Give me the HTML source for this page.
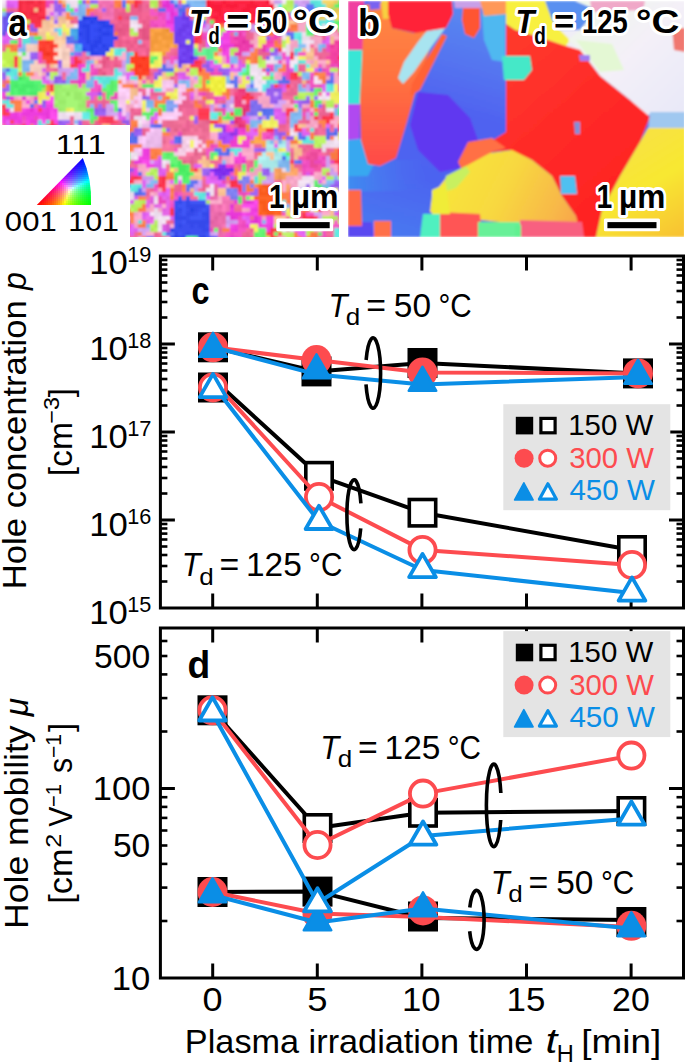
<!DOCTYPE html>
<html><head><meta charset="utf-8"><style>html,body{margin:0;padding:0;background:#fff;overflow:hidden}svg{display:block}</style></head>
<body><svg width="685" height="1063" viewBox="0 0 685 1063">
<defs><clipPath id="cpa"><rect x="2" y="0" width="337" height="237"/></clipPath><clipPath id="cpb"><rect x="348" y="1" width="336" height="236"/></clipPath><filter id="blr" x="-5%" y="-5%" width="110%" height="110%"><feGaussianBlur stdDeviation="0.8"/></filter><linearGradient id="gb1" gradientUnits="userSpaceOnUse" x1="470" y1="0" x2="400" y2="237"><stop offset="0" stop-color="#5a8cf0"/><stop offset="0.45" stop-color="#5062f0"/><stop offset="0.75" stop-color="#4c64f0"/><stop offset="1" stop-color="#4a78f0"/></linearGradient>
<linearGradient id="gsk" gradientUnits="userSpaceOnUse" x1="348" y1="0" x2="430" y2="0"><stop offset="0" stop-color="#3e8cf0"/><stop offset="0.6" stop-color="#4a74f0" stop-opacity="0.6"/><stop offset="1" stop-color="#4a68f0" stop-opacity="0"/></linearGradient>
<linearGradient id="gob" gradientUnits="userSpaceOnUse" x1="0" y1="0" x2="0" y2="166"><stop offset="0" stop-color="#ff8a44"/><stop offset="0.5" stop-color="#ff7040"/><stop offset="1" stop-color="#ff4a48"/></linearGradient>
<linearGradient id="gw" x1="0" y1="0" x2="1" y2="1"><stop offset="0" stop-color="#eef8e8"/><stop offset="0.5" stop-color="#f4f0f8"/><stop offset="1" stop-color="#e8e8f8"/></linearGradient>
<linearGradient id="gr" gradientUnits="userSpaceOnUse" x1="500" y1="40" x2="640" y2="200"><stop offset="0" stop-color="#ff3a2c"/><stop offset="0.5" stop-color="#ff2a28"/><stop offset="1" stop-color="#ff2222"/></linearGradient>
<linearGradient id="gy" gradientUnits="userSpaceOnUse" x1="620" y1="130" x2="685" y2="237"><stop offset="0" stop-color="#f8e048"/><stop offset="0.5" stop-color="#f8e830"/><stop offset="1" stop-color="#f8c030"/></linearGradient>
<linearGradient id="go" gradientUnits="userSpaceOnUse" x1="440" y1="160" x2="580" y2="230"><stop offset="0" stop-color="#f8e838"/><stop offset="0.45" stop-color="#f8d840"/><stop offset="0.8" stop-color="#f8b848"/><stop offset="1" stop-color="#f8a048"/></linearGradient></defs>
<g clip-path="url(#cpa)"><g filter="url(#blr)"><path fill="#f6e6f6" d="M2 0h4v4h-4zM282 0h4v4h-4zM74 24h4v4h-4zM130 24h8v4h-8zM322 28h4v4h-4zM282 32h4v4h-4zM306 40h4v4h-4zM282 48h4v4h-4zM290 60h8v4h-8zM290 64h4v4h-4zM250 72h8v4h-8zM262 72h4v4h-4zM258 76h4v4h-4zM314 76h4v4h-4zM254 80h4v4h-4zM262 80h4v4h-4zM314 80h4v4h-4zM226 84h4v4h-4zM254 84h8v4h-8zM258 88h4v4h-4zM322 92h4v4h-4zM318 96h4v4h-4zM326 96h4v4h-4zM330 108h4v4h-4zM66 112h8v4h-8zM142 116h4v4h-4zM138 120h4v4h-4zM290 132h4v4h-4zM102 136h4v4h-4zM334 136h4v4h-4zM334 140h4v4h-4zM42 152h4v4h-4zM134 156h4v4h-4zM162 160h4v4h-4zM90 168h4v4h-4zM54 172h4v4h-4zM50 176h4v4h-4zM310 176h4v4h-4zM298 180h12v4h-12zM26 184h4v4h-4zM210 184h4v4h-4zM310 184h4v4h-4zM22 188h4v4h-4zM34 188h4v4h-4zM126 196h4v4h-4zM126 204h4v4h-4zM150 212h4v4h-4zM158 216h4v4h-4zM166 216h4v4h-4zM162 220h4v4h-4zM158 228h4v4h-4zM282 228h4v4h-4zM6 236h8v4h-8zM26 236h8v4h-8z"/><path fill="#e060f0" d="M6 0h4v4h-4zM50 12h4v4h-4zM166 12h4v4h-4zM166 16h4v4h-4zM14 28h4v4h-4zM10 32h4v4h-4zM6 36h4v4h-4zM326 36h4v4h-4zM6 40h4v4h-4zM210 40h4v4h-4zM286 56h4v4h-4zM214 64h4v4h-4zM238 64h4v4h-4zM314 68h4v4h-4zM186 76h4v4h-4zM246 76h4v4h-4zM46 80h4v4h-4zM322 84h4v4h-4zM282 88h4v4h-4zM326 92h4v4h-4zM294 100h4v4h-4zM118 112h4v4h-4zM154 112h4v4h-4zM278 112h4v4h-4zM118 116h4v4h-4zM150 116h4v4h-4zM278 116h8v4h-8zM278 120h4v4h-4zM6 124h4v4h-4zM26 132h4v4h-4zM246 132h4v4h-4zM302 132h8v4h-8zM90 140h4v4h-4zM90 144h4v4h-4zM274 144h4v4h-4zM78 148h4v4h-4zM94 148h4v4h-4zM46 156h8v4h-8zM158 156h4v4h-4zM54 160h4v4h-4zM194 164h4v4h-4zM158 172h4v4h-4zM78 180h4v4h-4zM142 180h4v4h-4zM318 180h4v4h-4zM10 184h4v4h-4zM142 184h4v4h-4zM222 184h4v4h-4zM314 192h4v4h-4zM306 196h4v4h-4zM326 196h4v4h-4zM6 216h4v4h-4zM54 216h4v4h-4zM142 216h4v4h-4zM170 216h4v4h-4zM246 216h4v4h-4zM46 220h12v4h-12zM94 220h4v4h-4zM94 224h4v4h-4zM298 224h4v4h-4zM78 228h4v4h-4zM122 228h4v4h-4zM134 228h4v4h-4zM82 232h4v4h-4zM130 232h4v4h-4z"/><path fill="#e666f6" d="M10 0h8v4h-8zM14 4h4v4h-4zM74 8h4v4h-4zM198 20h4v4h-4zM6 32h4v4h-4zM14 32h4v4h-4zM2 36h4v4h-4zM206 40h4v4h-4zM326 40h4v4h-4zM206 44h4v4h-4zM210 64h4v4h-4zM218 64h4v4h-4zM230 68h8v4h-8zM126 72h8v4h-8zM126 76h4v4h-4zM178 76h4v4h-4zM42 80h4v4h-4zM322 88h4v4h-4zM190 92h4v4h-4zM274 112h4v4h-4zM154 116h4v4h-4zM246 116h4v4h-4zM6 120h4v4h-4zM326 124h4v4h-4zM54 128h4v4h-4zM250 128h4v4h-4zM302 128h4v4h-4zM250 132h8v4h-8zM26 136h8v4h-8zM94 140h8v4h-8zM94 144h4v4h-4zM94 152h4v4h-4zM14 156h4v4h-4zM154 160h4v4h-4zM42 164h4v4h-4zM198 164h4v4h-4zM162 168h4v4h-4zM210 172h4v4h-4zM86 176h4v4h-4zM206 176h4v4h-4zM322 176h4v4h-4zM170 180h4v4h-4zM178 180h4v4h-4zM206 180h16v4h-16zM106 184h4v4h-4zM70 188h4v4h-4zM166 188h4v4h-4zM314 188h4v4h-4zM74 192h4v4h-4zM158 192h4v4h-4zM166 192h4v4h-4zM206 196h4v4h-4zM310 196h4v4h-4zM10 200h4v4h-4zM302 200h4v4h-4zM326 200h4v4h-4zM14 204h4v4h-4zM46 212h4v4h-4zM146 212h4v4h-4zM50 216h4v4h-4zM94 216h8v4h-8zM242 216h4v4h-4zM246 220h4v4h-4zM130 224h4v4h-4zM302 224h4v4h-4zM130 228h4v4h-4zM294 228h8v4h-8zM78 232h4v4h-4zM298 232h8v4h-8zM82 236h8v4h-8zM302 236h4v4h-4z"/><path fill="#f22a42" d="M18 0h4v4h-4zM26 0h8v4h-8zM38 0h4v4h-4zM18 4h4v4h-4zM18 8h4v4h-4zM38 8h4v4h-4zM22 12h4v4h-4zM30 12h8v4h-8zM38 16h8v4h-8zM22 20h4v4h-4z"/><path fill="#f83048" d="M22 0h4v4h-4zM26 4h4v4h-4zM34 4h8v4h-8zM26 8h8v4h-8zM18 12h4v4h-4zM26 12h4v4h-4zM26 16h12v4h-12zM30 20h12v4h-12z"/><path fill="#fe364e" d="M34 0h4v4h-4zM42 0h4v4h-4zM22 4h4v4h-4zM30 4h4v4h-4zM42 4h4v4h-4zM22 8h4v4h-4zM42 8h4v4h-4zM38 12h8v4h-8zM18 16h8v4h-8zM26 24h4v4h-4zM34 24h8v4h-8z"/><path fill="#ea4aba" d="M46 0h8v4h-8zM46 4h4v4h-4zM158 12h4v4h-4zM18 20h4v4h-4zM154 24h4v4h-4zM242 28h4v4h-4zM202 36h8v4h-8zM286 64h4v4h-4zM330 64h4v4h-4zM186 68h4v4h-4zM270 68h4v4h-4zM286 68h4v4h-4zM322 68h4v4h-4zM94 72h4v4h-4zM210 72h4v4h-4zM218 72h4v4h-4zM286 72h4v4h-4zM326 72h4v4h-4zM286 76h4v4h-4zM310 76h4v4h-4zM70 80h8v4h-8zM278 84h4v4h-4zM318 84h4v4h-4zM98 88h4v4h-4zM114 92h4v4h-4zM202 92h4v4h-4zM2 96h4v4h-4zM34 96h4v4h-4zM114 96h4v4h-4zM222 108h4v4h-4zM34 116h4v4h-4zM58 128h4v4h-4zM58 132h4v4h-4zM118 132h4v4h-4zM178 132h4v4h-4zM270 132h4v4h-4zM266 136h4v4h-4zM82 140h4v4h-4zM110 140h4v4h-4zM210 144h4v4h-4zM118 148h8v4h-8zM74 152h4v4h-4zM78 156h8v4h-8zM98 156h4v4h-4zM322 156h4v4h-4zM314 160h8v4h-8zM330 160h4v4h-4zM302 164h4v4h-4zM322 164h4v4h-4zM38 168h4v4h-4zM46 168h4v4h-4zM46 172h4v4h-4zM106 172h8v4h-8zM130 172h4v4h-4zM2 176h4v4h-4zM234 176h4v4h-4zM6 180h4v4h-4zM94 180h4v4h-4zM222 180h4v4h-4zM94 184h4v4h-4zM6 188h4v4h-4zM86 192h4v4h-4zM102 192h4v4h-4zM174 192h4v4h-4zM242 192h4v4h-4zM318 192h4v4h-4zM58 196h12v4h-12zM86 196h4v4h-4zM98 196h4v4h-4zM106 196h4v4h-4zM158 196h4v4h-4zM58 200h8v4h-8zM98 200h4v4h-4zM158 200h8v4h-8zM242 200h4v4h-4zM18 204h4v4h-4zM26 204h4v4h-4zM338 208h4v4h-4zM70 212h4v4h-4zM122 212h4v4h-4zM42 216h4v4h-4zM338 216h4v4h-4zM242 224h4v4h-4zM318 224h8v4h-8zM210 228h4v4h-4zM38 232h8v4h-8zM50 232h8v4h-8zM42 236h4v4h-4zM50 236h4v4h-4zM318 236h4v4h-4z"/><path fill="#9860f0" d="M54 0h4v4h-4zM90 0h4v4h-4zM54 8h8v4h-8zM30 24h4v4h-4zM266 36h4v4h-4zM34 52h4v4h-4zM78 52h4v4h-4zM270 52h4v4h-4zM30 56h8v4h-8zM266 56h4v4h-4zM58 64h4v4h-4zM202 64h4v4h-4zM158 68h4v4h-4zM206 68h4v4h-4zM218 68h4v4h-4zM330 72h4v4h-4zM2 76h4v4h-4zM2 88h4v4h-4zM270 88h4v4h-4zM310 88h4v4h-4zM270 92h4v4h-4zM146 96h4v4h-4zM270 96h4v4h-4zM270 100h4v4h-4zM42 104h4v4h-4zM98 108h4v4h-4zM94 112h4v4h-4zM258 116h4v4h-4zM78 120h4v4h-4zM194 120h4v4h-4zM62 124h4v4h-4zM78 124h4v4h-4zM214 124h4v4h-4zM138 128h4v4h-4zM166 128h4v4h-4zM274 128h4v4h-4zM134 132h4v4h-4zM218 132h4v4h-4zM282 132h4v4h-4zM62 136h4v4h-4zM278 136h4v4h-4zM62 140h8v4h-8zM258 148h8v4h-8zM70 152h4v4h-4zM34 156h4v4h-4zM90 164h4v4h-4zM94 168h4v4h-4zM262 172h8v4h-8zM42 184h4v4h-4zM50 184h4v4h-4zM62 184h8v4h-8zM114 184h4v4h-4zM306 184h4v4h-4zM338 184h4v4h-4zM18 188h4v4h-4zM42 188h8v4h-8zM302 188h4v4h-4zM22 192h4v4h-4zM46 192h4v4h-4zM318 200h4v4h-4zM66 224h8v4h-8zM74 228h4v4h-4z"/><path fill="#ff8048" d="M58 0h4v4h-4zM114 0h8v4h-8zM126 0h4v4h-4zM62 4h4v4h-4zM90 8h4v4h-4zM186 8h4v4h-4zM86 12h4v4h-4zM70 16h4v4h-4zM278 20h4v4h-4zM218 24h4v4h-4zM266 24h4v4h-4zM26 28h4v4h-4zM198 28h4v4h-4zM270 28h4v4h-4zM290 28h4v4h-4zM14 44h4v4h-4zM274 44h8v4h-8zM10 48h4v4h-4zM214 52h4v4h-4zM254 52h4v4h-4zM198 72h12v4h-12zM206 76h4v4h-4zM46 84h4v4h-4zM130 84h4v4h-4zM202 84h4v4h-4zM206 88h4v4h-4zM14 100h8v4h-8zM310 100h4v4h-4zM194 104h8v4h-8zM14 108h8v4h-8zM158 108h4v4h-4zM314 108h4v4h-4zM154 120h4v4h-4zM30 124h4v4h-4zM130 124h4v4h-4zM26 128h4v4h-4zM34 128h4v4h-4zM122 128h4v4h-4zM38 132h4v4h-4zM166 132h4v4h-4zM310 132h4v4h-4zM38 136h8v4h-8zM94 136h4v4h-4zM282 136h4v4h-4zM330 136h4v4h-4zM70 140h4v4h-4zM206 140h4v4h-4zM30 144h4v4h-4zM130 144h8v4h-8zM126 148h4v4h-4zM150 148h8v4h-8zM334 148h4v4h-4zM258 152h4v4h-4zM26 156h4v4h-4zM118 156h4v4h-4zM154 156h4v4h-4zM78 160h4v4h-4zM234 168h4v4h-4zM54 180h8v4h-8zM182 184h4v4h-4zM282 192h8v4h-8zM138 196h4v4h-4zM282 196h8v4h-8zM102 200h4v4h-4zM290 200h4v4h-4zM338 200h4v4h-4zM310 204h4v4h-4zM338 204h4v4h-4zM46 208h4v4h-4zM126 208h4v4h-4zM142 208h4v4h-4zM302 208h4v4h-4zM10 212h4v4h-4zM114 212h4v4h-4zM126 212h8v4h-8zM106 216h4v4h-4zM130 216h4v4h-4zM222 228h8v4h-8zM26 232h4v4h-4zM294 232h4v4h-4zM142 236h4v4h-4zM298 236h4v4h-4zM306 236h8v4h-8z"/><path fill="#f2ba8a" d="M62 0h4v4h-4zM34 8h4v4h-4zM294 20h4v4h-4zM330 36h4v4h-4zM310 48h4v4h-4zM110 56h4v4h-4zM306 56h8v4h-8zM174 64h4v4h-4zM182 64h4v4h-4zM178 68h8v4h-8zM142 76h4v4h-4zM166 76h4v4h-4zM146 80h4v4h-4zM302 80h4v4h-4zM134 88h4v4h-4zM134 92h4v4h-4zM338 120h4v4h-4zM102 128h4v4h-4zM110 132h4v4h-4zM30 148h4v4h-4zM298 148h4v4h-4zM294 152h4v4h-4zM70 160h4v4h-4zM206 160h4v4h-4zM74 164h4v4h-4zM206 164h4v4h-4zM70 168h8v4h-8zM174 168h4v4h-4zM198 168h4v4h-4zM190 176h8v4h-8zM170 184h4v4h-4zM190 188h4v4h-4zM30 192h12v4h-12zM54 192h4v4h-4zM34 200h4v4h-4zM330 204h4v4h-4zM6 208h4v4h-4zM26 208h8v4h-8zM58 208h4v4h-4zM30 212h4v4h-4zM2 220h4v4h-4zM82 224h4v4h-4z"/><path fill="#eadaea" d="M66 0h4v4h-4zM2 4h4v4h-4zM70 4h4v4h-4zM274 4h4v4h-4zM134 20h4v4h-4zM138 24h4v4h-4zM322 24h4v4h-4zM302 36h8v4h-8zM286 44h4v4h-4zM286 48h4v4h-4zM26 52h4v4h-4zM286 52h4v4h-4zM22 56h8v4h-8zM274 60h4v4h-4zM250 64h4v4h-4zM258 68h4v4h-4zM258 72h4v4h-4zM118 76h4v4h-4zM258 80h4v4h-4zM230 104h4v4h-4zM62 112h4v4h-4zM74 112h4v4h-4zM62 116h8v4h-8zM74 116h8v4h-8zM134 116h8v4h-8zM74 124h4v4h-4zM138 124h4v4h-4zM290 128h4v4h-4zM294 132h4v4h-4zM102 140h8v4h-8zM326 140h8v4h-8zM106 144h4v4h-4zM322 144h8v4h-8zM338 144h4v4h-4zM322 148h4v4h-4zM134 152h4v4h-4zM130 156h4v4h-4zM46 160h4v4h-4zM166 160h4v4h-4zM162 164h4v4h-4zM282 168h4v4h-4zM54 176h4v4h-4zM310 180h4v4h-4zM26 188h4v4h-4zM26 192h4v4h-4zM126 192h8v4h-8zM130 196h4v4h-4zM154 196h4v4h-4zM154 208h4v4h-4zM154 212h8v4h-8zM70 216h8v4h-8zM154 216h4v4h-4zM70 220h8v4h-8zM290 228h4v4h-4zM34 232h4v4h-4zM14 236h4v4h-4zM34 236h8v4h-8z"/><path fill="#f0e0f0" d="M70 0h8v4h-8zM74 4h4v4h-4zM130 20h4v4h-4zM134 28h4v4h-4zM302 32h4v4h-4zM282 36h4v4h-4zM302 40h4v4h-4zM310 40h4v4h-4zM306 44h4v4h-4zM306 48h4v4h-4zM18 52h4v4h-4zM270 56h4v4h-4zM294 56h4v4h-4zM266 60h8v4h-8zM254 64h4v4h-4zM250 68h8v4h-8zM254 76h4v4h-4zM318 80h4v4h-4zM230 84h4v4h-4zM322 96h4v4h-4zM10 108h4v4h-4zM326 108h4v4h-4zM58 112h4v4h-4zM78 112h4v4h-4zM58 116h4v4h-4zM106 136h4v4h-4zM338 140h4v4h-4zM330 144h8v4h-8zM130 152h4v4h-4zM42 156h4v4h-4zM178 176h4v4h-4zM302 176h8v4h-8zM298 184h8v4h-8zM30 188h4v4h-4zM126 188h4v4h-4zM206 188h8v4h-8zM210 192h4v4h-4zM90 196h4v4h-4zM18 200h4v4h-4zM126 200h4v4h-4zM154 200h4v4h-4zM50 204h4v4h-4zM310 208h4v4h-4zM74 212h4v4h-4zM294 212h4v4h-4zM162 216h4v4h-4zM158 220h4v4h-4zM158 224h4v4h-4zM10 232h8v4h-8zM62 232h4v4h-4z"/><path fill="#66f676" d="M78 0h4v4h-4zM338 0h4v4h-4zM330 12h4v4h-4zM334 20h4v4h-4zM306 24h4v4h-4zM338 24h4v4h-4zM278 28h4v4h-4zM310 28h8v4h-8zM214 32h8v4h-8zM306 32h4v4h-4zM10 40h4v4h-4zM150 56h4v4h-4zM246 68h4v4h-4zM22 72h4v4h-4zM242 72h4v4h-4zM26 76h4v4h-4zM114 80h4v4h-4zM106 84h4v4h-4zM106 88h4v4h-4zM114 88h4v4h-4zM314 88h4v4h-4zM314 92h4v4h-4zM114 100h4v4h-4zM114 104h4v4h-4zM158 104h4v4h-4zM294 104h4v4h-4zM150 108h8v4h-8zM338 108h4v4h-4zM90 112h4v4h-4zM226 112h4v4h-4zM90 116h4v4h-4zM146 116h4v4h-4zM222 116h4v4h-4zM6 152h4v4h-4zM162 152h4v4h-4zM214 152h4v4h-4zM6 156h4v4h-4zM126 156h4v4h-4zM162 156h4v4h-4zM170 156h4v4h-4zM170 160h8v4h-8zM254 160h4v4h-4zM254 164h4v4h-4zM50 168h4v4h-4zM242 168h4v4h-4zM94 172h4v4h-4zM34 180h4v4h-4zM34 184h4v4h-4zM98 188h4v4h-4zM318 188h4v4h-4zM326 188h4v4h-4zM98 192h4v4h-4zM246 196h4v4h-4zM298 196h4v4h-4zM298 200h4v4h-4zM114 224h4v4h-4zM46 228h4v4h-4zM114 228h4v4h-4zM214 228h4v4h-4zM258 228h8v4h-8zM258 232h4v4h-4zM274 232h4v4h-4zM186 236h8v4h-8zM254 236h12v4h-12z"/><path fill="#925aea" d="M82 0h4v4h-4zM58 4h4v4h-4zM46 16h4v4h-4zM30 28h8v4h-8zM274 48h4v4h-4zM58 60h4v4h-4zM206 64h4v4h-4zM210 68h4v4h-4zM2 72h4v4h-4zM46 72h4v4h-4zM158 72h4v4h-4zM222 72h4v4h-4zM54 76h8v4h-8zM154 76h4v4h-4zM54 80h4v4h-4zM62 80h4v4h-4zM266 88h4v4h-4zM274 88h8v4h-8zM98 92h4v4h-4zM6 96h4v4h-4zM142 96h4v4h-4zM278 96h4v4h-4zM42 100h4v4h-4zM274 100h4v4h-4zM302 100h8v4h-8zM94 108h4v4h-4zM102 108h4v4h-4zM58 120h4v4h-4zM122 120h8v4h-8zM134 128h4v4h-4zM278 132h4v4h-4zM286 136h8v4h-8zM34 152h8v4h-8zM18 160h4v4h-4zM102 160h4v4h-4zM110 160h4v4h-4zM98 168h4v4h-4zM126 168h8v4h-8zM266 168h4v4h-4zM206 172h4v4h-4zM122 176h4v4h-4zM222 176h4v4h-4zM2 180h4v4h-4zM334 184h4v4h-4zM50 188h4v4h-4zM330 188h4v4h-4zM42 192h4v4h-4zM38 196h8v4h-8zM2 204h4v4h-4zM42 204h4v4h-4zM318 204h4v4h-4zM42 208h4v4h-4zM82 208h4v4h-4zM6 212h4v4h-4zM82 212h8v4h-8zM2 216h4v4h-4zM62 216h4v4h-4zM62 220h4v4h-4zM70 232h4v4h-4z"/><path fill="#ff864e" d="M86 0h4v4h-4zM130 0h4v4h-4zM114 4h4v4h-4zM66 12h4v4h-4zM186 12h4v4h-4zM66 16h4v4h-4zM278 16h4v4h-4zM274 20h4v4h-4zM294 28h4v4h-4zM30 32h4v4h-4zM262 32h4v4h-4zM6 44h4v4h-4zM254 48h4v4h-4zM250 52h4v4h-4zM250 56h4v4h-4zM250 60h4v4h-4zM282 64h4v4h-4zM202 68h4v4h-4zM278 68h8v4h-8zM26 72h8v4h-8zM318 72h8v4h-8zM202 76h4v4h-4zM318 76h4v4h-4zM118 80h4v4h-4zM202 80h4v4h-4zM122 84h8v4h-8zM46 88h4v4h-4zM186 88h4v4h-4zM198 88h4v4h-4zM222 92h4v4h-4zM162 96h4v4h-4zM226 96h4v4h-4zM154 100h12v4h-12zM14 104h8v4h-8zM130 120h8v4h-8zM218 120h4v4h-4zM318 120h8v4h-8zM122 124h4v4h-4zM322 124h4v4h-4zM30 132h4v4h-4zM46 132h4v4h-4zM162 132h4v4h-4zM34 136h4v4h-4zM26 140h8v4h-8zM42 140h4v4h-4zM26 144h4v4h-4zM206 144h4v4h-4zM26 148h4v4h-4zM114 148h4v4h-4zM130 148h4v4h-4zM158 148h4v4h-4zM26 152h4v4h-4zM150 152h4v4h-4zM158 152h4v4h-4zM114 156h4v4h-4zM122 160h4v4h-4zM14 168h4v4h-4zM166 172h8v4h-8zM234 172h4v4h-4zM74 176h4v4h-4zM254 184h4v4h-4zM182 188h4v4h-4zM170 192h4v4h-4zM102 196h4v4h-4zM142 196h4v4h-4zM310 200h4v4h-4zM290 204h4v4h-4zM306 204h4v4h-4zM122 208h4v4h-4zM130 220h4v4h-4zM142 220h4v4h-4zM70 236h4v4h-4zM294 236h4v4h-4z"/><path fill="#9e66f6" d="M94 0h4v4h-4zM54 4h4v4h-4zM178 4h4v4h-4zM62 8h4v4h-4zM102 8h4v4h-4zM58 12h4v4h-4zM54 20h4v4h-4zM214 40h8v4h-8zM30 52h4v4h-4zM74 52h4v4h-4zM274 52h4v4h-4zM206 60h4v4h-4zM222 68h8v4h-8zM154 72h4v4h-4zM226 72h4v4h-4zM58 80h4v4h-4zM6 84h4v4h-4zM174 84h4v4h-4zM270 84h4v4h-4zM6 88h4v4h-4zM266 92h4v4h-4zM278 92h4v4h-4zM274 96h4v4h-4zM306 96h4v4h-4zM314 96h4v4h-4zM298 100h4v4h-4zM98 104h4v4h-4zM298 104h4v4h-4zM318 104h4v4h-4zM98 112h8v4h-8zM194 116h4v4h-4zM62 120h8v4h-8zM58 124h4v4h-4zM126 124h4v4h-4zM138 132h4v4h-4zM274 132h4v4h-4zM122 144h4v4h-4zM70 148h4v4h-4zM254 148h4v4h-4zM106 160h4v4h-4zM102 164h8v4h-8zM122 168h4v4h-4zM202 168h8v4h-8zM262 168h4v4h-4zM122 172h8v4h-8zM202 172h4v4h-4zM126 176h4v4h-4zM230 176h4v4h-4zM334 180h8v4h-8zM46 184h4v4h-4zM54 184h4v4h-4zM330 184h4v4h-4zM254 188h4v4h-4zM338 188h4v4h-4zM18 192h4v4h-4zM50 192h4v4h-4zM206 192h4v4h-4zM250 192h8v4h-8zM322 204h4v4h-4zM78 208h4v4h-4zM2 212h4v4h-4zM78 212h4v4h-4zM66 220h4v4h-4zM74 224h4v4h-4zM70 228h4v4h-4zM74 232h4v4h-4z"/><path fill="#f676b6" d="M98 0h4v4h-4zM110 0h4v4h-4zM102 4h4v4h-4zM98 8h4v4h-4zM110 8h4v4h-4zM102 16h12v4h-12zM214 208h4v4h-4z"/><path fill="#f070b0" d="M102 0h8v4h-8zM106 4h4v4h-4zM102 12h4v4h-4zM110 12h4v4h-4zM210 212h4v4h-4zM218 220h4v4h-4z"/><path fill="#5e76f6" d="M122 0h4v4h-4zM182 4h4v4h-4zM306 4h8v4h-8zM306 8h4v4h-4zM314 8h4v4h-4zM178 12h4v4h-4zM270 16h4v4h-4zM202 20h4v4h-4zM278 32h4v4h-4zM290 32h4v4h-4zM70 36h4v4h-4zM66 40h4v4h-4zM266 68h4v4h-4zM318 68h4v4h-4zM234 76h4v4h-4zM330 76h4v4h-4zM234 80h4v4h-4zM250 84h4v4h-4zM34 100h4v4h-4zM222 104h4v4h-4zM270 112h4v4h-4zM266 116h4v4h-4zM150 124h4v4h-4zM334 128h4v4h-4zM298 132h4v4h-4zM298 136h4v4h-4zM174 140h4v4h-4zM214 148h8v4h-8zM222 152h4v4h-4zM294 160h4v4h-4zM66 172h8v4h-8zM18 176h4v4h-4zM190 180h4v4h-4zM186 184h8v4h-8zM142 192h4v4h-4zM82 196h4v4h-4zM78 200h4v4h-4zM78 204h4v4h-4zM74 208h4v4h-4zM94 228h4v4h-4zM102 232h4v4h-4zM170 232h4v4h-4zM146 236h4v4h-4z"/><path fill="#f9324a" d="M134 0h4v4h-4zM134 4h4v4h-4zM194 36h4v4h-4zM194 40h4v4h-4zM278 48h4v4h-4zM290 52h4v4h-4zM14 56h4v4h-4zM290 56h4v4h-4zM338 56h4v4h-4zM74 60h4v4h-4zM194 60h4v4h-4zM198 68h4v4h-4zM294 72h4v4h-4zM246 92h4v4h-4zM242 96h4v4h-4zM250 96h4v4h-4zM2 104h4v4h-4zM314 116h4v4h-4zM322 116h4v4h-4zM330 116h4v4h-4zM210 120h4v4h-4zM326 120h4v4h-4zM46 124h8v4h-8zM294 124h4v4h-4zM266 128h8v4h-8zM114 140h12v4h-12zM10 144h12v4h-12zM114 144h4v4h-4zM338 148h4v4h-4zM338 152h4v4h-4zM66 156h4v4h-4zM338 156h4v4h-4zM338 160h4v4h-4zM338 172h4v4h-4zM134 176h4v4h-4zM162 176h4v4h-4zM114 180h8v4h-8zM126 180h4v4h-4zM162 180h4v4h-4zM230 180h8v4h-8zM118 184h4v4h-4zM158 184h4v4h-4zM230 184h4v4h-4zM170 208h4v4h-4zM318 208h4v4h-4zM170 212h4v4h-4zM302 216h4v4h-4zM310 216h4v4h-4zM122 220h4v4h-4zM306 220h4v4h-4zM318 220h4v4h-4zM126 224h4v4h-4zM270 228h8v4h-8zM270 236h4v4h-4z"/><path fill="#ff3e56" d="M138 0h4v4h-4zM118 16h4v4h-4zM242 24h4v4h-4zM282 28h4v4h-4zM198 32h4v4h-4zM198 40h4v4h-4zM74 64h4v4h-4zM194 64h8v4h-8zM290 72h4v4h-4zM290 76h4v4h-4zM274 84h4v4h-4zM286 84h4v4h-4zM246 100h4v4h-4zM38 108h4v4h-4zM198 108h12v4h-12zM286 108h4v4h-4zM6 112h4v4h-4zM198 116h12v4h-12zM10 120h4v4h-4zM50 120h4v4h-4zM22 124h4v4h-4zM54 124h4v4h-4zM294 128h8v4h-8zM338 128h4v4h-4zM78 136h4v4h-4zM22 140h4v4h-4zM86 140h4v4h-4zM102 144h4v4h-4zM62 156h4v4h-4zM22 164h4v4h-4zM338 164h4v4h-4zM338 168h4v4h-4zM138 176h4v4h-4zM158 176h4v4h-4zM158 180h4v4h-4zM66 188h4v4h-4zM74 188h4v4h-4zM162 188h4v4h-4zM314 216h4v4h-4zM310 220h4v4h-4zM118 224h4v4h-4zM118 228h4v4h-4zM266 232h4v4h-4z"/><path fill="#f06898" d="M142 0h4v4h-4zM142 4h4v4h-4zM158 4h4v4h-4zM6 8h4v4h-4zM14 8h4v4h-4zM142 8h8v4h-8zM154 8h4v4h-4zM94 12h4v4h-4zM190 12h4v4h-4zM286 12h4v4h-4zM14 16h4v4h-4zM74 16h4v4h-4zM98 16h4v4h-4zM190 16h4v4h-4zM286 16h4v4h-4zM314 16h4v4h-4zM74 20h4v4h-4zM110 20h4v4h-4zM210 28h4v4h-4zM318 28h4v4h-4zM230 32h4v4h-4zM250 32h4v4h-4zM250 36h4v4h-4zM322 36h4v4h-4zM278 40h4v4h-4zM2 44h4v4h-4zM174 48h4v4h-4zM170 52h4v4h-4zM314 52h16v4h-16zM78 56h4v4h-4zM166 56h4v4h-4zM202 56h4v4h-4zM238 56h8v4h-8zM322 56h4v4h-4zM42 60h4v4h-4zM298 64h8v4h-8zM110 68h4v4h-4zM154 68h4v4h-4zM262 68h4v4h-4zM302 68h4v4h-4zM62 72h4v4h-4zM338 72h4v4h-4zM174 80h4v4h-4zM290 80h8v4h-8zM134 84h4v4h-4zM138 88h4v4h-4zM294 88h4v4h-4zM338 88h4v4h-4zM158 92h4v4h-4zM186 92h4v4h-4zM282 92h4v4h-4zM186 96h4v4h-4zM210 96h4v4h-4zM90 100h12v4h-12zM106 100h4v4h-4zM198 100h8v4h-8zM218 100h4v4h-4zM86 104h4v4h-4zM138 108h4v4h-4zM186 108h8v4h-8zM130 112h4v4h-4zM186 112h8v4h-8zM286 116h4v4h-4zM318 116h4v4h-4zM82 120h4v4h-4zM298 120h8v4h-8zM18 124h4v4h-4zM82 124h4v4h-4zM98 124h4v4h-4zM110 124h8v4h-8zM330 124h4v4h-4zM62 128h4v4h-4zM86 128h4v4h-4zM98 128h4v4h-4zM110 128h4v4h-4zM278 128h8v4h-8zM322 128h4v4h-4zM6 132h4v4h-4zM86 132h4v4h-4zM6 136h4v4h-4zM86 136h8v4h-8zM254 144h8v4h-8zM298 144h8v4h-8zM10 148h4v4h-4zM306 148h4v4h-4zM330 148h4v4h-4zM14 152h4v4h-4zM254 152h4v4h-4zM206 156h4v4h-4zM6 160h4v4h-4zM14 160h4v4h-4zM62 160h4v4h-4zM210 160h8v4h-8zM66 164h4v4h-4zM82 164h4v4h-4zM134 164h4v4h-4zM246 164h8v4h-8zM2 168h4v4h-4zM18 168h4v4h-4zM82 168h4v4h-4zM2 172h8v4h-8zM30 172h4v4h-4zM326 172h4v4h-4zM26 176h4v4h-4zM38 176h4v4h-4zM82 180h4v4h-4zM202 180h4v4h-4zM278 180h4v4h-4zM38 184h4v4h-4zM174 184h4v4h-4zM58 188h8v4h-8zM118 192h4v4h-4zM290 192h4v4h-4zM110 196h4v4h-4zM242 196h4v4h-4zM290 196h4v4h-4zM110 200h4v4h-4zM86 208h4v4h-4zM234 208h8v4h-8zM290 208h4v4h-4zM82 216h4v4h-4zM250 216h4v4h-4zM298 216h4v4h-4zM26 220h4v4h-4zM166 220h4v4h-4zM330 228h4v4h-4zM66 232h4v4h-4zM134 232h4v4h-4zM242 232h4v4h-4zM66 236h4v4h-4zM114 236h4v4h-4zM122 236h8v4h-8zM154 236h8v4h-8z"/><path fill="#f66e9e" d="M146 0h4v4h-4zM94 8h4v4h-4zM190 8h4v4h-4zM206 8h4v4h-4zM14 12h4v4h-4zM98 12h4v4h-4zM194 12h4v4h-4zM314 12h4v4h-4zM206 16h4v4h-4zM282 16h4v4h-4zM290 16h4v4h-4zM206 20h4v4h-4zM210 24h4v4h-4zM274 24h4v4h-4zM266 28h4v4h-4zM334 28h4v4h-4zM314 32h8v4h-8zM338 32h4v4h-4zM18 36h4v4h-4zM278 36h4v4h-4zM198 44h4v4h-4zM310 44h4v4h-4zM170 48h4v4h-4zM314 48h4v4h-4zM82 52h4v4h-4zM166 52h4v4h-4zM82 56h4v4h-4zM198 56h4v4h-4zM82 60h4v4h-4zM162 60h4v4h-4zM242 60h4v4h-4zM326 64h4v4h-4zM46 68h8v4h-8zM106 68h4v4h-4zM150 68h4v4h-4zM106 72h8v4h-8zM62 76h4v4h-4zM150 76h4v4h-4zM174 76h4v4h-4zM150 80h4v4h-4zM290 84h4v4h-4zM302 84h4v4h-4zM338 84h4v4h-4zM142 88h4v4h-4zM230 88h4v4h-4zM286 88h4v4h-4zM102 92h4v4h-4zM162 92h4v4h-4zM182 92h4v4h-4zM210 92h4v4h-4zM230 92h4v4h-4zM254 92h8v4h-8zM318 92h4v4h-4zM94 96h4v4h-4zM102 96h4v4h-4zM150 96h8v4h-8zM254 96h4v4h-4zM282 96h12v4h-12zM86 100h4v4h-4zM190 100h4v4h-4zM34 104h4v4h-4zM206 104h4v4h-4zM134 108h4v4h-4zM182 108h4v4h-4zM194 108h4v4h-4zM318 108h4v4h-4zM182 112h4v4h-4zM194 112h4v4h-4zM70 120h4v4h-4zM86 120h4v4h-4zM2 124h4v4h-4zM14 124h4v4h-4zM66 124h4v4h-4zM182 124h4v4h-4zM230 124h4v4h-4zM286 124h4v4h-4zM90 128h8v4h-8zM114 128h4v4h-4zM146 128h4v4h-4zM178 128h4v4h-4zM286 128h4v4h-4zM306 128h4v4h-4zM318 128h4v4h-4zM330 128h4v4h-4zM90 132h8v4h-8zM318 132h8v4h-8zM6 148h4v4h-4zM290 148h4v4h-4zM302 152h4v4h-4zM322 152h4v4h-4zM254 156h4v4h-4zM58 160h4v4h-4zM66 160h4v4h-4zM218 160h4v4h-4zM246 160h4v4h-4zM6 164h4v4h-4zM62 164h4v4h-4zM78 164h4v4h-4zM130 164h4v4h-4zM166 164h4v4h-4zM214 164h4v4h-4zM234 164h4v4h-4zM6 168h4v4h-4zM86 168h4v4h-4zM102 168h4v4h-4zM166 168h4v4h-4zM238 168h4v4h-4zM246 168h4v4h-4zM298 168h4v4h-4zM10 172h4v4h-4zM18 172h4v4h-4zM26 172h4v4h-4zM78 172h4v4h-4zM98 172h4v4h-4zM34 176h4v4h-4zM42 176h8v4h-8zM94 176h4v4h-4zM202 176h4v4h-4zM38 180h4v4h-4zM226 180h4v4h-4zM274 180h4v4h-4zM74 184h4v4h-4zM206 184h4v4h-4zM146 188h4v4h-4zM198 188h4v4h-4zM290 188h4v4h-4zM182 192h12v4h-12zM122 196h4v4h-4zM146 196h4v4h-4zM190 196h8v4h-8zM110 204h4v4h-4zM234 204h8v4h-8zM106 208h4v4h-4zM294 208h8v4h-8zM18 216h4v4h-4zM78 216h4v4h-4zM286 216h4v4h-4zM294 216h4v4h-4zM118 220h4v4h-4zM26 224h4v4h-4zM246 228h4v4h-4zM126 232h4v4h-4zM158 232h4v4h-4zM250 232h4v4h-4zM326 232h8v4h-8zM22 236h4v4h-4zM130 236h8v4h-8z"/><path fill="#b2ea5a" d="M150 0h8v4h-8zM290 0h4v4h-4zM94 4h4v4h-4zM154 4h4v4h-4zM2 8h4v4h-4zM126 8h4v4h-4zM198 16h8v4h-8zM266 20h4v4h-4zM218 28h4v4h-4zM230 48h4v4h-4zM258 56h4v4h-4zM258 60h4v4h-4zM10 64h4v4h-4zM126 68h4v4h-4zM198 80h4v4h-4zM42 88h4v4h-4zM310 92h4v4h-4zM298 96h4v4h-4zM330 104h4v4h-4zM114 132h4v4h-4zM18 136h4v4h-4zM110 136h8v4h-8zM318 144h4v4h-4zM46 164h4v4h-4zM114 168h4v4h-4zM154 168h4v4h-4zM150 172h4v4h-4zM322 172h4v4h-4zM258 180h4v4h-4zM18 184h4v4h-4zM142 200h4v4h-4zM206 200h4v4h-4zM130 204h4v4h-4zM134 208h4v4h-4zM66 216h4v4h-4zM90 216h4v4h-4zM330 216h8v4h-8zM106 220h4v4h-4zM286 220h4v4h-4zM102 224h4v4h-4zM122 224h4v4h-4zM154 224h4v4h-4zM290 224h4v4h-4zM110 228h4v4h-4zM150 228h4v4h-4zM306 228h8v4h-8z"/><path fill="#ea6292" d="M158 0h4v4h-4zM178 0h4v4h-4zM146 4h4v4h-4zM10 8h4v4h-4zM206 12h4v4h-4zM318 12h4v4h-4zM154 16h4v4h-4zM70 20h4v4h-4zM246 28h4v4h-4zM274 28h4v4h-4zM286 28h4v4h-4zM246 32h4v4h-4zM322 32h4v4h-4zM246 36h4v4h-4zM202 40h4v4h-4zM202 44h4v4h-4zM2 48h4v4h-4zM198 48h4v4h-4zM258 48h4v4h-4zM322 48h4v4h-4zM174 52h4v4h-4zM258 52h12v4h-12zM86 56h4v4h-4zM162 56h4v4h-4zM262 56h4v4h-4zM318 56h4v4h-4zM202 60h4v4h-4zM46 64h4v4h-4zM106 64h4v4h-4zM54 68h4v4h-4zM298 68h4v4h-4zM338 68h4v4h-4zM150 72h4v4h-4zM174 72h4v4h-4zM146 76h4v4h-4zM170 76h4v4h-4zM298 76h4v4h-4zM2 80h4v4h-4zM298 80h4v4h-4zM306 80h4v4h-4zM294 84h4v4h-4zM234 88h4v4h-4zM290 88h4v4h-4zM142 92h4v4h-4zM150 92h8v4h-8zM206 92h4v4h-4zM250 92h4v4h-4zM286 92h12v4h-12zM206 96h4v4h-4zM102 100h4v4h-4zM182 100h8v4h-8zM222 100h4v4h-4zM290 100h4v4h-4zM94 104h4v4h-4zM102 104h4v4h-4zM178 104h16v4h-16zM202 104h4v4h-4zM322 104h4v4h-4zM130 108h4v4h-4zM178 108h4v4h-4zM214 108h8v4h-8zM302 108h4v4h-4zM322 108h4v4h-4zM134 112h8v4h-8zM318 112h12v4h-12zM70 116h4v4h-4zM130 116h4v4h-4zM302 116h4v4h-4zM94 120h4v4h-4zM118 120h4v4h-4zM186 120h4v4h-4zM286 120h4v4h-4zM306 120h4v4h-4zM70 124h4v4h-4zM86 124h12v4h-12zM118 124h4v4h-4zM186 124h4v4h-4zM234 124h4v4h-4zM278 124h8v4h-8zM318 124h4v4h-4zM66 128h4v4h-4zM142 128h4v4h-4zM186 128h4v4h-4zM314 128h4v4h-4zM22 132h4v4h-4zM62 132h8v4h-8zM142 132h4v4h-4zM314 132h4v4h-4zM34 140h4v4h-4zM306 144h8v4h-8zM302 148h4v4h-4zM326 148h4v4h-4zM290 152h4v4h-4zM326 152h4v4h-4zM218 156h4v4h-4zM290 156h4v4h-4zM130 160h4v4h-4zM250 160h4v4h-4zM10 164h4v4h-4zM126 164h4v4h-4zM238 164h4v4h-4zM294 164h8v4h-8zM30 168h4v4h-4zM78 168h4v4h-4zM14 172h4v4h-4zM22 172h4v4h-4zM82 172h4v4h-4zM102 172h4v4h-4zM30 176h4v4h-4zM98 176h4v4h-4zM42 180h4v4h-4zM70 180h4v4h-4zM178 184h4v4h-4zM202 184h4v4h-4zM150 188h4v4h-4zM174 188h8v4h-8zM202 188h4v4h-4zM62 192h4v4h-4zM146 192h4v4h-4zM302 192h4v4h-4zM182 196h4v4h-4zM90 200h4v4h-4zM106 200h4v4h-4zM114 200h4v4h-4zM86 204h4v4h-4zM114 204h4v4h-4zM62 208h8v4h-8zM110 208h4v4h-4zM62 212h8v4h-8zM298 212h4v4h-4zM114 216h4v4h-4zM78 220h8v4h-8zM170 220h4v4h-4zM282 220h4v4h-4zM30 224h4v4h-4zM286 224h4v4h-4zM250 228h4v4h-4zM326 228h4v4h-4zM114 232h12v4h-12zM154 232h4v4h-4zM246 232h4v4h-4zM18 236h4v4h-4zM62 236h4v4h-4zM118 236h4v4h-4zM162 236h4v4h-4zM242 236h12v4h-12zM326 236h8v4h-8z"/><path fill="#ee3ede" d="M162 0h4v4h-4zM170 4h4v4h-4zM166 8h4v4h-4zM174 12h4v4h-4zM2 92h4v4h-4zM26 108h4v4h-4zM30 112h8v4h-8zM230 208h4v4h-4zM258 216h4v4h-4zM258 220h4v4h-4zM246 224h4v4h-4zM258 224h4v4h-4z"/><path fill="#e232d2" d="M166 0h4v4h-4zM162 4h8v4h-8zM170 12h4v4h-4zM22 96h4v4h-4zM6 108h4v4h-4zM30 108h4v4h-4zM246 200h4v4h-4zM230 204h4v4h-4zM230 216h4v4h-4zM254 216h4v4h-4zM254 220h4v4h-4z"/><path fill="#5870f0" d="M170 0h4v4h-4zM122 4h4v4h-4zM186 4h4v4h-4zM158 8h8v4h-8zM310 8h4v4h-4zM270 12h8v4h-8zM306 16h8v4h-8zM286 32h4v4h-4zM290 36h4v4h-4zM70 40h4v4h-4zM162 68h12v4h-12zM230 80h4v4h-4zM278 80h8v4h-8zM326 80h8v4h-8zM266 108h8v4h-8zM262 112h8v4h-8zM326 128h4v4h-4zM70 132h4v4h-4zM326 132h8v4h-8zM126 136h8v4h-8zM174 136h4v4h-4zM302 136h4v4h-4zM130 140h8v4h-8zM218 152h4v4h-4zM298 160h4v4h-4zM70 164h4v4h-4zM66 168h4v4h-4zM58 172h4v4h-4zM22 176h4v4h-4zM70 176h4v4h-4zM194 180h4v4h-4zM122 184h4v4h-4zM118 188h4v4h-4zM138 188h4v4h-4zM186 188h4v4h-4zM74 204h4v4h-4zM94 232h4v4h-4zM106 232h8v4h-8zM98 236h4v4h-4zM106 236h8v4h-8zM150 236h4v4h-4z"/><path fill="#86bef6" d="M174 0h4v4h-4zM190 0h4v4h-4zM82 4h4v4h-4zM190 4h16v4h-16zM294 8h8v4h-8zM74 12h4v4h-4zM294 12h4v4h-4zM78 16h4v4h-4zM130 16h4v4h-4zM54 28h4v4h-4zM138 40h4v4h-4zM22 44h4v4h-4zM298 44h8v4h-8zM318 44h4v4h-4zM230 56h4v4h-4zM90 60h4v4h-4zM234 60h4v4h-4zM26 64h4v4h-4zM278 64h4v4h-4zM74 72h4v4h-4zM306 72h4v4h-4zM14 76h4v4h-4zM226 76h4v4h-4zM302 76h4v4h-4zM178 80h4v4h-4zM186 80h4v4h-4zM250 80h4v4h-4zM186 84h4v4h-4zM254 88h4v4h-4zM302 88h4v4h-4zM158 96h4v4h-4zM90 104h4v4h-4zM338 104h4v4h-4zM294 116h8v4h-8zM74 120h4v4h-4zM290 120h4v4h-4zM254 124h4v4h-4zM290 124h4v4h-4zM10 128h8v4h-8zM118 128h4v4h-4zM10 132h4v4h-4zM42 132h4v4h-4zM74 132h4v4h-4zM274 136h4v4h-4zM2 144h4v4h-4zM50 152h4v4h-4zM90 156h4v4h-4zM222 160h4v4h-4zM278 160h4v4h-4zM38 164h4v4h-4zM118 164h4v4h-4zM286 168h4v4h-4zM34 172h8v4h-8zM150 180h4v4h-4zM326 180h8v4h-8zM82 188h4v4h-4zM18 196h4v4h-4zM70 196h4v4h-4zM282 204h4v4h-4zM334 204h4v4h-4zM334 208h4v4h-4z"/><path fill="#f6f666" d="M182 0h4v4h-4zM62 24h4v4h-4zM22 28h4v4h-4zM66 28h4v4h-4zM18 32h8v4h-8zM46 32h4v4h-4zM262 36h4v4h-4zM286 36h4v4h-4zM286 40h4v4h-4zM106 52h4v4h-4zM154 52h4v4h-4zM158 56h4v4h-4zM218 56h4v4h-4zM298 56h4v4h-4zM158 60h4v4h-4zM150 64h4v4h-4zM222 64h4v4h-4zM310 68h4v4h-4zM158 76h4v4h-4zM158 80h4v4h-4zM154 84h8v4h-8zM334 84h4v4h-4zM334 88h4v4h-4zM50 92h4v4h-4zM166 92h4v4h-4zM174 92h4v4h-4zM38 100h4v4h-4zM126 100h4v4h-4zM142 100h4v4h-4zM210 100h4v4h-4zM70 108h4v4h-4zM258 112h4v4h-4zM266 120h4v4h-4zM266 124h4v4h-4zM274 124h4v4h-4zM210 128h8v4h-8zM190 140h4v4h-4zM238 140h4v4h-4zM190 144h4v4h-4zM282 148h4v4h-4zM22 152h4v4h-4zM214 156h4v4h-4zM58 164h4v4h-4zM210 164h4v4h-4zM58 168h8v4h-8zM170 168h4v4h-4zM82 176h4v4h-4zM50 180h4v4h-4zM310 188h4v4h-4zM334 188h4v4h-4zM6 196h4v4h-4zM38 204h4v4h-4zM38 208h4v4h-4zM286 208h4v4h-4zM314 208h4v4h-4zM290 212h4v4h-4zM10 216h4v4h-4zM2 224h4v4h-4zM50 224h4v4h-4zM250 224h4v4h-4zM50 228h4v4h-4zM254 228h4v4h-4zM74 236h4v4h-4z"/><path fill="#80b8f0" d="M186 0h4v4h-4zM194 0h8v4h-8zM294 4h4v4h-4zM82 8h4v4h-4zM198 8h8v4h-8zM2 12h4v4h-4zM302 12h4v4h-4zM134 16h4v4h-4zM294 16h4v4h-4zM10 24h4v4h-4zM30 40h8v4h-8zM18 48h4v4h-4zM318 48h4v4h-4zM234 56h4v4h-4zM274 56h4v4h-4zM230 60h4v4h-4zM22 64h4v4h-4zM22 68h4v4h-4zM74 68h4v4h-4zM274 68h4v4h-4zM70 72h4v4h-4zM302 72h4v4h-4zM70 76h8v4h-8zM86 80h8v4h-8zM226 80h4v4h-4zM246 88h4v4h-4zM298 88h4v4h-4zM146 104h8v4h-8zM298 108h4v4h-4zM334 108h4v4h-4zM290 112h4v4h-4zM298 112h4v4h-4zM334 112h4v4h-4zM290 116h4v4h-4zM250 120h8v4h-8zM18 128h4v4h-4zM70 128h8v4h-8zM270 140h4v4h-4zM74 148h4v4h-4zM46 152h4v4h-4zM122 164h4v4h-4zM282 164h4v4h-4zM34 168h4v4h-4zM118 176h4v4h-4zM334 176h4v4h-4zM102 180h4v4h-4zM154 180h4v4h-4zM150 184h4v4h-4zM78 192h4v4h-4zM106 192h8v4h-8zM22 196h4v4h-4zM74 196h4v4h-4zM286 204h4v4h-4zM94 208h4v4h-4zM262 220h4v4h-4zM22 224h4v4h-4zM90 236h4v4h-4z"/><path fill="#7ab2ea" d="M202 0h4v4h-4zM78 4h4v4h-4zM78 8h4v4h-4zM194 8h4v4h-4zM70 12h4v4h-4zM78 12h8v4h-8zM290 12h4v4h-4zM234 32h4v4h-4zM30 36h4v4h-4zM322 44h4v4h-4zM22 48h4v4h-4zM86 52h4v4h-4zM126 52h4v4h-4zM294 52h4v4h-4zM126 56h4v4h-4zM278 56h4v4h-4zM22 60h12v4h-12zM86 60h4v4h-4zM126 60h4v4h-4zM274 64h4v4h-4zM2 68h4v4h-4zM26 68h4v4h-4zM66 76h4v4h-4zM90 76h4v4h-4zM306 76h4v4h-4zM66 80h4v4h-4zM182 80h4v4h-4zM86 84h8v4h-8zM298 84h4v4h-4zM250 88h4v4h-4zM146 100h8v4h-8zM294 112h4v4h-4zM258 120h4v4h-4zM294 120h4v4h-4zM250 124h4v4h-4zM6 128h4v4h-4zM122 132h4v4h-4zM2 136h4v4h-4zM2 140h4v4h-4zM278 140h4v4h-4zM50 148h4v4h-4zM78 152h4v4h-4zM94 156h4v4h-4zM90 160h4v4h-4zM282 160h8v4h-8zM278 164h4v4h-4zM286 164h4v4h-4zM122 180h4v4h-4zM98 184h8v4h-8zM146 184h4v4h-4zM322 184h8v4h-8zM106 188h4v4h-4zM70 192h4v4h-4zM82 192h4v4h-4zM90 192h4v4h-4zM94 196h4v4h-4zM278 204h4v4h-4zM282 208h4v4h-4zM10 224h4v4h-4zM146 224h4v4h-4z"/><path fill="#f11232" d="M206 0h4v4h-4zM270 4h4v4h-4z"/><path fill="#ff2040" d="M210 0h4v4h-4zM226 0h4v4h-4zM234 0h16v4h-16zM222 4h4v4h-4zM262 4h4v4h-4zM210 8h4v4h-4zM230 8h4v4h-4zM250 8h8v4h-8zM262 8h4v4h-4zM230 12h8v4h-8zM242 12h12v4h-12zM266 12h4v4h-4zM210 16h4v4h-4zM218 16h4v4h-4zM234 16h24v4h-24zM262 16h4v4h-4zM218 20h4v4h-4zM226 20h12v4h-12zM250 20h4v4h-4zM258 20h4v4h-4z"/><path fill="#ff2646" d="M214 0h8v4h-8zM230 0h4v4h-4zM254 0h12v4h-12zM238 4h8v4h-8zM258 4h4v4h-4zM266 4h4v4h-4zM222 8h8v4h-8zM234 8h8v4h-8zM258 8h4v4h-4zM266 8h4v4h-4zM210 12h8v4h-8zM222 12h4v4h-4zM230 16h4v4h-4zM214 20h4v4h-4zM222 20h4v4h-4zM238 20h4v4h-4zM246 20h4v4h-4zM214 24h4v4h-4z"/><path fill="#f91a3a" d="M222 0h4v4h-4zM250 0h4v4h-4zM210 4h12v4h-12zM226 4h12v4h-12zM246 4h12v4h-12zM214 8h8v4h-8zM242 8h8v4h-8zM218 12h4v4h-4zM226 12h4v4h-4zM254 12h4v4h-4zM262 12h4v4h-4zM214 16h4v4h-4zM222 16h8v4h-8zM258 16h4v4h-4zM242 20h4v4h-4z"/><path fill="#f71838" d="M266 0h4v4h-4zM206 4h4v4h-4z"/><path fill="#feaece" d="M270 0h4v4h-4zM46 8h8v4h-8zM314 24h4v4h-4zM330 32h4v4h-4zM334 36h4v4h-4zM70 44h4v4h-4zM254 44h4v4h-4zM122 52h4v4h-4zM94 56h4v4h-4zM122 56h4v4h-4zM314 56h4v4h-4zM282 60h4v4h-4zM306 60h4v4h-4zM318 60h8v4h-8zM234 64h4v4h-4zM234 72h4v4h-4zM274 72h4v4h-4zM6 76h4v4h-4zM30 76h12v4h-12zM190 76h4v4h-4zM238 76h4v4h-4zM130 80h4v4h-4zM194 80h4v4h-4zM262 92h4v4h-4zM18 96h4v4h-4zM26 96h4v4h-4zM286 100h4v4h-4zM22 104h8v4h-8zM270 104h4v4h-4zM290 104h4v4h-4zM310 108h4v4h-4zM330 120h8v4h-8zM314 124h4v4h-4zM334 124h4v4h-4zM82 132h4v4h-4zM210 132h8v4h-8zM82 136h4v4h-4zM214 136h4v4h-4zM250 144h4v4h-4zM42 148h4v4h-4zM86 148h4v4h-4zM110 152h4v4h-4zM242 152h12v4h-12zM10 156h4v4h-4zM230 156h4v4h-4zM26 160h4v4h-4zM86 160h4v4h-4zM114 160h4v4h-4zM230 160h4v4h-4zM34 164h4v4h-4zM86 164h4v4h-4zM334 164h4v4h-4zM146 168h4v4h-4zM334 168h4v4h-4zM246 172h4v4h-4zM314 172h4v4h-4zM250 176h4v4h-4zM294 176h4v4h-4zM138 180h4v4h-4zM282 180h4v4h-4zM290 180h4v4h-4zM322 180h4v4h-4zM166 184h4v4h-4zM282 184h4v4h-4zM282 188h4v4h-4zM150 192h4v4h-4zM38 200h4v4h-4zM66 200h8v4h-8zM210 200h4v4h-4zM218 200h4v4h-4zM30 204h8v4h-8zM70 204h4v4h-4zM106 204h4v4h-4zM162 204h4v4h-4zM14 208h4v4h-4zM54 208h4v4h-4zM70 208h4v4h-4zM22 212h4v4h-4zM138 212h4v4h-4zM322 212h8v4h-8zM122 216h4v4h-4zM134 216h8v4h-8zM30 220h8v4h-8zM6 224h4v4h-4zM170 224h4v4h-4zM22 228h8v4h-8zM318 228h4v4h-4zM18 232h8v4h-8zM146 232h8v4h-8zM278 236h4v4h-4z"/><path fill="#ca9aea" d="M274 0h4v4h-4zM302 0h8v4h-8zM86 4h4v4h-4zM54 16h4v4h-4zM250 24h4v4h-4zM250 28h4v4h-4zM250 48h4v4h-4zM166 60h4v4h-4zM122 64h4v4h-4zM166 64h8v4h-8zM58 68h4v4h-4zM122 72h4v4h-4zM50 80h4v4h-4zM306 84h4v4h-4zM226 100h8v4h-8zM210 104h4v4h-4zM226 104h4v4h-4zM110 108h4v4h-4zM306 112h4v4h-4zM262 116h4v4h-4zM306 116h4v4h-4zM50 132h4v4h-4zM50 136h8v4h-8zM54 140h4v4h-4zM42 144h8v4h-8zM58 152h4v4h-4zM58 156h4v4h-4zM330 168h4v4h-4zM142 176h12v4h-12zM266 176h4v4h-4zM270 180h4v4h-4zM194 188h4v4h-4zM294 188h4v4h-4zM298 192h4v4h-4zM338 196h4v4h-4zM306 200h4v4h-4zM226 220h8v4h-8zM54 224h12v4h-12z"/><path fill="#d0a0f0" d="M278 0h4v4h-4zM294 0h4v4h-4zM298 4h4v4h-4zM206 24h4v4h-4zM254 24h4v4h-4zM206 28h4v4h-4zM254 28h4v4h-4zM242 52h4v4h-4zM278 52h4v4h-4zM122 60h4v4h-4zM62 68h8v4h-8zM58 72h4v4h-4zM66 72h4v4h-4zM194 76h4v4h-4zM306 88h4v4h-4zM230 96h4v4h-4zM106 104h4v4h-4zM106 108h4v4h-4zM210 108h4v4h-4zM230 108h4v4h-4zM106 112h4v4h-4zM126 112h4v4h-4zM126 116h4v4h-4zM250 116h4v4h-4zM38 140h4v4h-4zM286 140h4v4h-4zM38 144h4v4h-4zM62 144h4v4h-4zM286 144h4v4h-4zM62 148h8v4h-8zM286 148h4v4h-4zM54 152h4v4h-4zM54 156h4v4h-4zM326 156h4v4h-4zM326 160h4v4h-4zM326 164h4v4h-4zM270 172h4v4h-4zM330 172h8v4h-8zM270 176h4v4h-4zM262 180h4v4h-4zM194 184h4v4h-4zM114 188h4v4h-4zM142 188h4v4h-4zM330 192h4v4h-4zM338 192h4v4h-4zM330 196h8v4h-8zM334 200h4v4h-4zM318 216h4v4h-4zM234 220h4v4h-4zM54 228h4v4h-4zM62 228h4v4h-4zM142 228h4v4h-4zM210 232h4v4h-4z"/><path fill="#b8f060" d="M286 0h4v4h-4zM90 4h4v4h-4zM286 4h8v4h-8zM198 12h8v4h-8zM266 16h4v4h-4zM26 20h4v4h-4zM130 28h4v4h-4zM134 32h4v4h-4zM282 40h4v4h-4zM234 48h4v4h-4zM270 48h4v4h-4zM230 52h4v4h-4zM194 68h4v4h-4zM334 68h4v4h-4zM54 72h4v4h-4zM170 72h4v4h-4zM190 72h4v4h-4zM50 76h4v4h-4zM198 76h4v4h-4zM262 76h4v4h-4zM194 84h4v4h-4zM306 92h4v4h-4zM302 96h4v4h-4zM326 100h8v4h-8zM326 104h4v4h-4zM162 128h4v4h-4zM18 132h4v4h-4zM14 136h4v4h-4zM314 140h4v4h-4zM326 168h4v4h-4zM114 172h4v4h-4zM258 172h4v4h-4zM14 176h4v4h-4zM114 176h4v4h-4zM154 176h4v4h-4zM258 176h8v4h-8zM326 176h8v4h-8zM110 180h4v4h-4zM14 184h4v4h-4zM138 200h4v4h-4zM90 204h4v4h-4zM134 204h8v4h-8zM14 212h4v4h-4zM290 216h4v4h-4zM322 216h8v4h-8zM102 220h4v4h-4zM154 220h4v4h-4zM322 220h4v4h-4zM338 220h4v4h-4zM106 224h4v4h-4zM278 224h4v4h-4zM310 224h4v4h-4zM10 228h4v4h-4zM102 228h4v4h-4zM290 232h4v4h-4zM306 232h4v4h-4zM94 236h4v4h-4zM290 236h4v4h-4z"/><path fill="#d6a6f6" d="M298 0h4v4h-4zM302 4h4v4h-4zM54 12h4v4h-4zM330 16h4v4h-4zM202 28h4v4h-4zM246 52h4v4h-4zM174 60h4v4h-4zM70 68h4v4h-4zM118 68h8v4h-8zM46 76h4v4h-4zM246 84h4v4h-4zM274 92h4v4h-4zM278 100h8v4h-8zM110 104h4v4h-4zM218 104h4v4h-4zM274 104h8v4h-8zM226 108h4v4h-4zM110 112h8v4h-8zM254 116h4v4h-4zM50 140h4v4h-4zM50 144h4v4h-4zM66 144h4v4h-4zM18 148h4v4h-4zM54 148h8v4h-8zM62 152h4v4h-4zM150 160h4v4h-4zM146 180h4v4h-4zM198 180h4v4h-4zM266 180h4v4h-4zM198 184h4v4h-4zM298 188h4v4h-4zM114 192h4v4h-4zM330 200h4v4h-4zM102 208h4v4h-4zM102 212h4v4h-4zM314 212h8v4h-8zM226 216h4v4h-4zM58 220h4v4h-4zM226 224h4v4h-4zM138 228h4v4h-4zM146 228h4v4h-4zM142 232h4v4h-4zM214 232h4v4h-4zM138 236h4v4h-4z"/><path fill="#5ae2da" d="M310 0h8v4h-8zM66 4h4v4h-4zM314 4h8v4h-8zM302 16h4v4h-4zM298 36h4v4h-4zM22 40h8v4h-8zM118 48h4v4h-4zM294 48h4v4h-4zM130 52h4v4h-4zM298 60h4v4h-4zM86 64h4v4h-4zM10 68h4v4h-4zM86 68h4v4h-4zM114 68h4v4h-4zM14 72h4v4h-4zM98 76h4v4h-4zM106 76h4v4h-4zM134 76h4v4h-4zM102 80h8v4h-8zM330 84h4v4h-4zM154 88h4v4h-4zM38 120h4v4h-4zM46 120h4v4h-4zM74 136h4v4h-4zM58 140h4v4h-4zM310 140h4v4h-4zM54 144h4v4h-4zM90 148h4v4h-4zM230 148h4v4h-4zM114 164h4v4h-4zM106 168h4v4h-4zM62 176h4v4h-4zM254 176h4v4h-4zM62 180h4v4h-4zM254 180h4v4h-4zM22 184h4v4h-4zM138 184h4v4h-4zM78 188h4v4h-4zM134 188h4v4h-4zM10 192h4v4h-4zM202 192h4v4h-4zM114 196h8v4h-8zM198 196h4v4h-4zM86 200h4v4h-4zM94 204h4v4h-4zM90 208h4v4h-4zM94 212h4v4h-4zM102 216h4v4h-4zM138 220h4v4h-4zM338 228h4v4h-4z"/><path fill="#60e8e0" d="M318 0h4v4h-4zM322 4h4v4h-4zM66 8h4v4h-4zM326 16h4v4h-4zM318 20h16v4h-16zM330 24h4v4h-4zM22 36h8v4h-8zM298 48h4v4h-4zM114 52h8v4h-8zM302 60h4v4h-4zM14 68h4v4h-4zM82 68h4v4h-4zM6 72h8v4h-8zM114 72h4v4h-4zM238 72h4v4h-4zM270 72h4v4h-4zM102 76h4v4h-4zM110 76h4v4h-4zM130 76h4v4h-4zM102 84h4v4h-4zM158 88h4v4h-4zM330 88h4v4h-4zM2 100h8v4h-8zM10 104h4v4h-4zM86 112h4v4h-4zM214 116h4v4h-4zM38 124h8v4h-8zM38 128h4v4h-4zM310 128h4v4h-4zM66 136h4v4h-4zM74 140h8v4h-8zM302 140h8v4h-8zM58 144h4v4h-4zM70 144h8v4h-8zM238 148h4v4h-4zM274 148h4v4h-4zM234 152h4v4h-4zM38 156h4v4h-4zM110 168h4v4h-4zM22 180h8v4h-8zM66 180h4v4h-4zM134 184h4v4h-4zM130 188h4v4h-4zM122 192h4v4h-4zM198 192h4v4h-4zM10 196h4v4h-4zM202 196h4v4h-4zM122 200h4v4h-4zM282 200h4v4h-4zM82 204h4v4h-4zM98 208h4v4h-4zM282 224h4v4h-4zM334 232h4v4h-4zM338 236h4v4h-4z"/><path fill="#f6d666" d="M322 0h12v4h-12zM326 12h4v4h-4zM338 16h4v4h-4z"/><path fill="#eaca5a" d="M334 0h4v4h-4zM322 8h8v4h-8zM322 12h4v4h-4zM318 16h4v4h-4z"/><path fill="#da5aea" d="M6 4h8v4h-8zM174 8h4v4h-4zM198 24h8v4h-8zM10 28h4v4h-4zM10 36h4v4h-4zM2 40h4v4h-4zM322 40h4v4h-4zM266 48h4v4h-4zM210 60h4v4h-4zM238 60h4v4h-4zM286 60h4v4h-4zM242 64h4v4h-4zM42 68h4v4h-4zM238 68h4v4h-4zM290 68h4v4h-4zM178 72h8v4h-8zM42 76h4v4h-4zM182 76h4v4h-4zM282 84h4v4h-4zM86 92h12v4h-12zM90 96h4v4h-4zM190 96h4v4h-4zM274 108h8v4h-8zM282 112h4v4h-4zM122 116h4v4h-4zM242 116h4v4h-4zM274 116h4v4h-4zM150 120h4v4h-4zM246 120h4v4h-4zM282 120h4v4h-4zM10 124h4v4h-4zM34 124h4v4h-4zM250 136h4v4h-4zM170 140h4v4h-4zM110 144h4v4h-4zM10 160h4v4h-4zM42 160h4v4h-4zM50 160h4v4h-4zM158 160h4v4h-4zM110 164h4v4h-4zM154 164h8v4h-8zM158 168h4v4h-4zM162 172h4v4h-4zM306 172h4v4h-4zM210 176h8v4h-8zM218 184h4v4h-4zM10 188h8v4h-8zM162 192h4v4h-4zM306 192h8v4h-8zM134 196h4v4h-4zM130 200h4v4h-4zM322 200h4v4h-4zM54 212h4v4h-4zM142 212h4v4h-4zM334 212h4v4h-4zM46 216h4v4h-4zM90 220h4v4h-4zM98 220h4v4h-4zM298 220h4v4h-4zM294 224h4v4h-4zM126 228h4v4h-4zM162 228h4v4h-4zM302 228h4v4h-4z"/><path fill="#f8a8c8" d="M50 4h4v4h-4zM46 12h4v4h-4zM62 12h4v4h-4zM302 20h4v4h-4zM298 24h8v4h-8zM258 28h4v4h-4zM298 28h8v4h-8zM258 32h4v4h-4zM326 32h4v4h-4zM254 36h4v4h-4zM314 36h8v4h-8zM338 36h4v4h-4zM254 40h4v4h-4zM290 40h4v4h-4zM318 40h4v4h-4zM314 44h4v4h-4zM98 56h4v4h-4zM118 56h4v4h-4zM98 64h4v4h-4zM34 72h4v4h-4zM334 72h4v4h-4zM274 76h8v4h-8zM334 76h4v4h-4zM334 80h8v4h-8zM194 88h4v4h-4zM194 92h4v4h-4zM198 96h4v4h-4zM258 96h12v4h-12zM22 100h4v4h-4zM134 100h4v4h-4zM242 100h4v4h-4zM258 100h4v4h-4zM130 104h4v4h-4zM214 104h4v4h-4zM262 104h4v4h-4zM302 104h4v4h-4zM126 108h4v4h-4zM334 116h8v4h-8zM310 120h4v4h-4zM306 124h4v4h-4zM78 128h4v4h-4zM106 132h4v4h-4zM210 136h4v4h-4zM274 140h4v4h-4zM82 144h4v4h-4zM46 148h4v4h-4zM82 148h4v4h-4zM110 148h4v4h-4zM242 148h4v4h-4zM250 148h4v4h-4zM230 152h4v4h-4zM18 156h4v4h-4zM246 156h8v4h-8zM22 160h4v4h-4zM82 160h4v4h-4zM118 160h4v4h-4zM30 164h4v4h-4zM142 164h4v4h-4zM258 164h4v4h-4zM330 164h4v4h-4zM138 168h8v4h-8zM90 172h4v4h-4zM142 172h4v4h-4zM318 172h4v4h-4zM90 176h4v4h-4zM298 176h4v4h-4zM314 176h4v4h-4zM18 180h4v4h-4zM134 180h4v4h-4zM166 180h4v4h-4zM226 184h4v4h-4zM294 184h4v4h-4zM50 196h4v4h-4zM218 196h4v4h-4zM42 200h12v4h-12zM214 200h4v4h-4zM66 204h4v4h-4zM150 204h4v4h-4zM18 208h8v4h-8zM50 208h4v4h-4zM150 208h4v4h-4zM242 208h4v4h-4zM322 208h4v4h-4zM34 212h4v4h-4zM22 216h4v4h-4zM30 216h8v4h-8zM126 216h4v4h-4zM10 220h4v4h-4zM18 220h8v4h-8zM86 220h4v4h-4zM134 220h4v4h-4zM14 224h8v4h-8zM90 224h4v4h-4zM66 228h4v4h-4zM58 232h4v4h-4zM166 236h4v4h-4z"/><path fill="#ea6aaa" d="M98 4h4v4h-4zM110 4h4v4h-4zM106 8h4v4h-4zM106 12h4v4h-4zM210 204h4v4h-4zM218 204h4v4h-4zM210 208h4v4h-4zM214 212h4v4h-4zM222 212h4v4h-4zM222 220h4v4h-4zM218 224h4v4h-4z"/><path fill="#f97a42" d="M118 4h4v4h-4zM86 8h4v4h-4zM222 24h8v4h-8zM270 24h4v4h-4zM290 24h8v4h-8zM26 32h4v4h-4zM34 32h4v4h-4zM114 32h4v4h-4zM266 32h8v4h-8zM274 40h4v4h-4zM10 44h4v4h-4zM14 48h4v4h-4zM218 48h4v4h-4zM246 56h4v4h-4zM254 56h4v4h-4zM254 60h4v4h-4zM130 68h4v4h-4zM18 72h4v4h-4zM314 72h4v4h-4zM322 76h4v4h-4zM6 80h4v4h-4zM322 80h4v4h-4zM2 84h4v4h-4zM190 88h4v4h-4zM202 88h4v4h-4zM226 88h4v4h-4zM226 92h4v4h-4zM166 96h4v4h-4zM202 96h4v4h-4zM10 100h4v4h-4zM194 100h4v4h-4zM154 104h4v4h-4zM310 104h4v4h-4zM158 112h4v4h-4zM218 116h4v4h-4zM134 124h4v4h-4zM30 128h4v4h-4zM46 128h4v4h-4zM126 128h8v4h-8zM34 132h4v4h-4zM126 132h4v4h-4zM286 132h4v4h-4zM46 136h4v4h-4zM70 136h4v4h-4zM310 136h4v4h-4zM6 140h4v4h-4zM210 140h4v4h-4zM290 140h8v4h-8zM6 144h4v4h-4zM22 144h4v4h-4zM126 144h4v4h-4zM138 144h4v4h-4zM18 152h4v4h-4zM114 152h12v4h-12zM154 152h4v4h-4zM330 152h8v4h-8zM22 156h4v4h-4zM150 156h4v4h-4zM330 156h8v4h-8zM14 164h4v4h-4zM10 168h4v4h-4zM190 168h4v4h-4zM58 176h4v4h-4zM78 176h4v4h-4zM166 176h8v4h-8zM226 176h4v4h-4zM250 180h4v4h-4zM246 184h4v4h-4zM170 188h4v4h-4zM246 188h8v4h-8zM306 188h4v4h-4zM170 196h4v4h-4zM286 200h4v4h-4zM46 204h4v4h-4zM142 204h4v4h-4zM294 204h12v4h-12zM114 208h8v4h-8zM138 208h4v4h-4zM306 208h4v4h-4zM106 212h8v4h-8zM138 224h8v4h-8zM138 232h4v4h-4zM310 232h8v4h-8zM314 236h4v4h-4z"/><path fill="#bef666" d="M126 4h4v4h-4zM150 4h4v4h-4zM282 4h4v4h-4zM286 8h8v4h-8zM194 16h4v4h-4zM194 20h4v4h-4zM222 28h4v4h-4zM130 32h4v4h-4zM282 44h4v4h-4zM262 60h4v4h-4zM126 64h8v4h-8zM258 64h8v4h-8zM190 68h4v4h-4zM330 68h4v4h-4zM50 72h4v4h-4zM166 72h4v4h-4zM194 72h4v4h-4zM298 72h4v4h-4zM266 76h4v4h-4zM198 84h4v4h-4zM6 92h4v4h-4zM298 92h8v4h-8zM310 96h4v4h-4zM14 132h4v4h-4zM118 136h4v4h-4zM314 136h12v4h-12zM318 140h8v4h-8zM314 144h4v4h-4zM150 168h4v4h-4zM322 168h4v4h-4zM146 172h4v4h-4zM154 172h4v4h-4zM338 176h4v4h-4zM14 180h4v4h-4zM110 184h4v4h-4zM134 200h4v4h-4zM130 208h4v4h-4zM86 216h4v4h-4zM290 220h8v4h-8zM302 220h4v4h-4zM326 220h8v4h-8zM98 224h4v4h-4zM150 224h4v4h-4zM274 224h4v4h-4zM314 224h4v4h-4zM14 228h8v4h-8zM82 228h12v4h-12zM106 228h4v4h-4zM154 228h4v4h-4zM278 228h4v4h-4zM86 232h8v4h-8zM282 232h8v4h-8zM266 236h4v4h-4zM286 236h4v4h-4z"/><path fill="#ee5e8e" d="M130 4h4v4h-4zM130 8h8v4h-8zM126 12h12v4h-12zM114 16h4v4h-4zM138 32h4v4h-4zM118 36h4v4h-4zM134 36h8v4h-8zM102 56h4v4h-4zM106 60h4v4h-4zM98 72h4v4h-4z"/><path fill="#e25282" d="M138 4h4v4h-4zM126 16h4v4h-4zM118 28h4v4h-4zM142 28h4v4h-4zM142 32h4v4h-4zM142 36h8v4h-8zM106 56h4v4h-4zM102 60h4v4h-4zM102 72h4v4h-4z"/><path fill="#526aea" d="M174 4h4v4h-4zM178 8h8v4h-8zM302 8h4v4h-4zM306 12h8v4h-8zM274 16h4v4h-4zM66 36h4v4h-4zM74 40h4v4h-4zM162 64h4v4h-4zM6 68h4v4h-4zM282 76h4v4h-4zM286 80h4v4h-4zM234 84h4v4h-4zM30 104h4v4h-4zM118 108h4v4h-4zM262 108h4v4h-4zM154 124h8v4h-8zM130 132h4v4h-4zM334 132h4v4h-4zM122 136h4v4h-4zM134 136h4v4h-4zM178 136h4v4h-4zM326 136h4v4h-4zM126 140h4v4h-4zM178 140h4v4h-4zM226 148h4v4h-4zM226 152h4v4h-4zM282 156h4v4h-4zM26 164h4v4h-4zM22 168h4v4h-4zM62 172h4v4h-4zM74 172h4v4h-4zM138 172h4v4h-4zM126 184h4v4h-4zM122 188h4v4h-4zM134 192h8v4h-8zM326 192h4v4h-4zM78 196h4v4h-4zM322 196h4v4h-4zM74 200h4v4h-4zM126 220h4v4h-4zM166 232h4v4h-4zM102 236h4v4h-4z"/><path fill="#66eee6" d="M278 4h4v4h-4zM298 12h4v4h-4zM298 16h4v4h-4zM318 24h4v4h-4zM326 24h4v4h-4zM58 28h4v4h-4zM58 32h4v4h-4zM294 32h8v4h-8zM294 36h4v4h-4zM298 40h4v4h-4zM114 48h4v4h-4zM122 48h4v4h-4zM294 64h4v4h-4zM306 64h4v4h-4zM242 68h4v4h-4zM294 68h4v4h-4zM118 72h4v4h-4zM10 76h4v4h-4zM94 76h4v4h-4zM114 76h4v4h-4zM98 80h4v4h-4zM326 84h4v4h-4zM326 88h4v4h-4zM6 104h4v4h-4zM82 112h4v4h-4zM210 112h8v4h-8zM82 116h8v4h-8zM210 116h4v4h-4zM42 128h4v4h-4zM58 136h4v4h-4zM306 136h4v4h-4zM78 144h4v4h-4zM234 148h4v4h-4zM282 152h4v4h-4zM286 156h4v4h-4zM34 160h8v4h-8zM66 176h4v4h-4zM130 184h4v4h-4zM194 192h4v4h-4zM14 196h4v4h-4zM302 196h4v4h-4zM14 200h4v4h-4zM82 200h4v4h-4zM118 200h4v4h-4zM118 204h8v4h-8zM90 212h4v4h-4zM98 212h4v4h-4zM334 228h4v4h-4zM162 232h4v4h-4zM338 232h4v4h-4zM334 236h4v4h-4z"/><path fill="#f0d060" d="M326 4h4v4h-4zM338 12h4v4h-4zM322 16h4v4h-4zM334 16h4v4h-4z"/><path fill="#e8c858" d="M330 4h4v4h-4zM338 8h4v4h-4z"/><path fill="#60f070" d="M334 4h4v4h-4zM70 8h4v4h-4zM278 8h8v4h-8zM330 8h4v4h-4zM210 20h4v4h-4zM278 24h4v4h-4zM334 24h4v4h-4zM214 28h4v4h-4zM306 28h4v4h-4zM310 32h4v4h-4zM34 36h4v4h-4zM214 36h4v4h-4zM154 56h4v4h-4zM246 64h4v4h-4zM270 76h4v4h-4zM38 84h4v4h-4zM114 84h4v4h-4zM102 88h4v4h-4zM110 92h4v4h-4zM314 100h4v4h-4zM86 108h4v4h-4zM114 108h4v4h-4zM234 108h4v4h-4zM142 112h8v4h-8zM218 112h4v4h-4zM238 112h4v4h-4zM314 112h4v4h-4zM230 116h4v4h-4zM2 152h4v4h-4zM170 152h4v4h-4zM210 152h4v4h-4zM286 152h4v4h-4zM2 156h4v4h-4zM122 156h4v4h-4zM166 156h4v4h-4zM174 156h4v4h-4zM210 156h4v4h-4zM242 164h4v4h-4zM74 180h4v4h-4zM314 180h4v4h-4zM102 188h4v4h-4zM322 188h4v4h-4zM294 192h4v4h-4zM294 196h4v4h-4zM294 200h4v4h-4zM110 216h4v4h-4zM114 220h4v4h-4zM98 232h4v4h-4zM254 232h4v4h-4zM262 232h4v4h-4z"/><path fill="#5aea6a" d="M338 4h4v4h-4zM278 12h8v4h-8zM310 20h8v4h-8zM338 20h4v4h-4zM246 24h4v4h-4zM310 24h4v4h-4zM338 28h4v4h-4zM210 32h4v4h-4zM38 36h4v4h-4zM210 36h4v4h-4zM14 40h4v4h-4zM22 52h4v4h-4zM150 60h4v4h-4zM246 72h4v4h-4zM22 76h4v4h-4zM250 76h4v4h-4zM110 80h4v4h-4zM206 80h4v4h-4zM42 84h4v4h-4zM110 84h4v4h-4zM142 84h12v4h-12zM110 88h4v4h-4zM318 88h4v4h-4zM106 92h4v4h-4zM98 96h4v4h-4zM106 96h4v4h-4zM294 96h4v4h-4zM110 100h4v4h-4zM318 100h4v4h-4zM162 104h4v4h-4zM314 104h4v4h-4zM90 108h4v4h-4zM162 108h4v4h-4zM238 108h4v4h-4zM150 112h4v4h-4zM234 112h4v4h-4zM338 112h4v4h-4zM94 116h4v4h-4zM226 116h4v4h-4zM90 120h4v4h-4zM46 140h4v4h-4zM2 148h4v4h-4zM126 152h4v4h-4zM166 152h4v4h-4zM126 160h4v4h-4zM250 168h4v4h-4zM50 172h4v4h-4zM30 180h4v4h-4zM30 184h4v4h-4zM314 184h8v4h-8zM94 188h4v4h-4zM322 192h4v4h-4zM238 196h4v4h-4zM238 200h4v4h-4zM110 220h4v4h-4zM110 224h4v4h-4zM98 228h4v4h-4zM46 232h4v4h-4zM318 232h4v4h-4zM194 236h4v4h-4z"/><path fill="#f06090" d="M114 8h4v4h-4zM122 8h4v4h-4zM114 12h4v4h-4zM138 12h4v4h-4zM138 16h4v4h-4zM146 16h4v4h-4zM122 20h4v4h-4zM146 20h4v4h-4zM118 24h4v4h-4zM142 24h4v4h-4zM114 40h4v4h-4zM122 40h4v4h-4zM126 44h4v4h-4zM134 48h4v4h-4zM114 56h4v4h-4zM114 60h4v4h-4zM118 64h4v4h-4z"/><path fill="#f66696" d="M118 8h4v4h-4zM142 12h8v4h-8zM142 16h4v4h-4zM150 16h4v4h-4zM114 20h4v4h-4zM138 20h4v4h-4zM142 40h8v4h-8zM114 44h4v4h-4zM122 44h4v4h-4zM146 44h4v4h-4zM130 48h4v4h-4zM138 48h8v4h-8zM138 52h4v4h-4zM98 60h4v4h-4zM110 60h4v4h-4zM118 60h4v4h-4zM110 64h4v4h-4z"/><path fill="#e85888" d="M138 8h4v4h-4zM122 16h4v4h-4zM114 28h4v4h-4zM122 28h4v4h-4zM138 28h4v4h-4zM146 28h4v4h-4zM118 32h8v4h-8zM146 32h4v4h-4zM102 64h4v4h-4zM98 68h4v4h-4z"/><path fill="#f656c6" d="M150 8h4v4h-4zM150 12h8v4h-8zM158 16h4v4h-4zM14 20h4v4h-4zM154 20h12v4h-12zM262 20h4v4h-4zM14 24h4v4h-4zM22 24h4v4h-4zM158 24h4v4h-4zM234 28h4v4h-4zM262 28h4v4h-4zM206 32h4v4h-4zM242 32h4v4h-4zM18 40h4v4h-4zM38 52h4v4h-4zM282 52h4v4h-4zM298 52h8v4h-8zM170 56h4v4h-4zM282 56h4v4h-4zM170 60h4v4h-4zM266 64h8v4h-8zM318 64h4v4h-4zM90 68h4v4h-4zM214 68h4v4h-4zM326 68h4v4h-4zM266 72h4v4h-4zM282 72h4v4h-4zM310 72h4v4h-4zM94 80h4v4h-4zM142 80h4v4h-4zM310 80h4v4h-4zM78 84h4v4h-4zM94 84h8v4h-8zM90 88h8v4h-8zM150 88h4v4h-4zM218 96h8v4h-8zM310 112h4v4h-4zM22 120h4v4h-4zM262 132h8v4h-8zM262 136h4v4h-4zM270 136h4v4h-4zM22 148h4v4h-4zM106 148h4v4h-4zM174 148h4v4h-4zM206 148h8v4h-8zM10 152h4v4h-4zM82 152h4v4h-4zM90 152h4v4h-4zM206 152h4v4h-4zM30 156h4v4h-4zM102 156h4v4h-4zM318 156h4v4h-4zM98 160h4v4h-4zM302 160h4v4h-4zM322 160h4v4h-4zM118 168h4v4h-4zM306 168h8v4h-8zM230 172h4v4h-4zM106 176h4v4h-4zM106 180h4v4h-4zM2 184h4v4h-4zM90 184h4v4h-4zM86 188h4v4h-4zM154 188h4v4h-4zM94 192h4v4h-4zM178 192h4v4h-4zM246 192h4v4h-4zM26 196h4v4h-4zM174 196h4v4h-4zM314 196h4v4h-4zM22 200h8v4h-8zM54 200h4v4h-4zM170 200h4v4h-4zM22 204h4v4h-4zM58 204h4v4h-4zM38 212h4v4h-4zM282 212h4v4h-4zM306 212h8v4h-8zM338 212h4v4h-4zM38 216h4v4h-4zM238 220h4v4h-4zM334 220h4v4h-4zM330 224h8v4h-8zM30 228h12v4h-12zM238 228h8v4h-8zM322 228h4v4h-4zM226 232h4v4h-4zM234 232h8v4h-8zM46 236h4v4h-4zM54 236h8v4h-8zM222 236h8v4h-8zM238 236h4v4h-4z"/><path fill="#e838d8" d="M170 8h4v4h-4zM170 16h4v4h-4zM166 20h8v4h-8zM46 92h4v4h-4zM10 96h4v4h-4zM46 112h4v4h-4zM46 116h4v4h-4zM234 200h4v4h-4zM250 200h4v4h-4zM226 212h16v4h-16zM234 216h4v4h-4zM250 220h4v4h-4zM230 236h4v4h-4z"/><path fill="#fd1e3e" d="M270 8h4v4h-4zM258 12h4v4h-4z"/><path fill="#f8c090" d="M274 8h4v4h-4zM282 20h8v4h-8zM330 40h4v4h-4zM302 48h4v4h-4zM94 60h4v4h-4zM314 60h4v4h-4zM50 64h4v4h-4zM310 64h8v4h-8zM86 72h4v4h-4zM162 72h4v4h-4zM186 72h4v4h-4zM86 76h4v4h-4zM230 76h4v4h-4zM138 84h4v4h-4zM130 88h4v4h-4zM130 92h4v4h-4zM130 96h4v4h-4zM322 100h4v4h-4zM222 120h8v4h-8zM106 124h4v4h-4zM302 124h4v4h-4zM290 144h4v4h-4zM38 148h4v4h-4zM98 148h4v4h-4zM294 148h4v4h-4zM30 152h4v4h-4zM298 152h4v4h-4zM70 156h4v4h-4zM270 156h4v4h-4zM294 156h4v4h-4zM74 160h4v4h-4zM202 160h4v4h-4zM198 176h4v4h-4zM38 188h4v4h-4zM54 188h4v4h-4zM58 192h4v4h-4zM218 192h8v4h-8zM2 200h4v4h-4zM30 200h4v4h-4zM10 208h4v4h-4zM330 208h4v4h-4zM26 212h4v4h-4zM58 212h4v4h-4zM330 212h4v4h-4zM58 216h4v4h-4zM38 224h12v4h-12zM42 228h4v4h-4z"/><path fill="#f2a2c2" d="M318 8h4v4h-4zM298 20h4v4h-4zM306 20h4v4h-4zM326 28h8v4h-8zM194 32h4v4h-4zM254 32h4v4h-4zM334 32h4v4h-4zM14 36h4v4h-4zM310 36h4v4h-4zM250 40h4v4h-4zM294 40h4v4h-4zM314 40h4v4h-4zM66 44h4v4h-4zM290 44h8v4h-8zM70 48h4v4h-4zM290 48h4v4h-4zM218 52h4v4h-4zM90 56h4v4h-4zM222 56h4v4h-4zM222 60h4v4h-4zM310 60h4v4h-4zM94 64h4v4h-4zM322 64h4v4h-4zM42 72h4v4h-4zM278 72h4v4h-4zM326 76h4v4h-4zM338 76h4v4h-4zM126 80h4v4h-4zM190 80h4v4h-4zM238 80h4v4h-4zM190 84h4v4h-4zM166 88h8v4h-8zM14 96h4v4h-4zM30 96h4v4h-4zM194 96h4v4h-4zM30 100h4v4h-4zM262 100h8v4h-8zM126 104h4v4h-4zM266 104h4v4h-4zM282 104h8v4h-8zM306 104h4v4h-4zM282 108h4v4h-4zM310 116h4v4h-4zM314 120h4v4h-4zM310 124h4v4h-4zM82 128h4v4h-4zM78 132h4v4h-4zM102 132h4v4h-4zM10 140h4v4h-4zM214 140h4v4h-4zM86 144h4v4h-4zM14 148h4v4h-4zM246 148h4v4h-4zM110 156h4v4h-4zM222 156h8v4h-8zM226 160h4v4h-4zM138 164h4v4h-4zM254 168h8v4h-8zM250 172h8v4h-8zM298 172h4v4h-4zM286 176h8v4h-8zM318 176h4v4h-4zM86 180h4v4h-4zM286 180h4v4h-4zM294 180h4v4h-4zM290 184h4v4h-4zM158 188h4v4h-4zM14 192h4v4h-4zM154 192h4v4h-4zM46 196h4v4h-4zM326 204h4v4h-4zM146 208h4v4h-4zM158 208h4v4h-4zM246 208h4v4h-4zM326 208h4v4h-4zM18 212h4v4h-4zM42 212h4v4h-4zM50 212h4v4h-4zM134 212h4v4h-4zM14 216h4v4h-4zM26 216h4v4h-4zM262 216h4v4h-4zM14 220h4v4h-4zM34 224h4v4h-4zM86 224h4v4h-4zM134 224h4v4h-4zM58 228h4v4h-4zM286 228h4v4h-4zM314 228h4v4h-4zM282 236h4v4h-4z"/><path fill="#e2c252" d="M334 8h4v4h-4z"/><path fill="#624ae2" d="M6 12h4v4h-4zM10 16h4v4h-4zM2 32h4v4h-4z"/><path fill="#6e56ee" d="M10 12h4v4h-4zM2 28h4v4h-4z"/><path fill="#f050c0" d="M90 12h4v4h-4zM162 12h4v4h-4zM162 16h4v4h-4zM150 20h4v4h-4zM18 24h4v4h-4zM150 24h4v4h-4zM162 24h4v4h-4zM262 24h4v4h-4zM238 28h4v4h-4zM202 32h4v4h-4zM18 44h4v4h-4zM326 44h4v4h-4zM326 48h4v4h-4zM38 56h4v4h-4zM70 56h4v4h-4zM174 56h4v4h-4zM38 60h4v4h-4zM70 60h4v4h-4zM278 60h4v4h-4zM334 64h4v4h-4zM94 68h4v4h-4zM90 72h4v4h-4zM214 72h4v4h-4zM82 80h4v4h-4zM310 84h8v4h-8zM198 92h4v4h-4zM110 96h4v4h-4zM214 96h4v4h-4zM214 100h4v4h-4zM334 104h4v4h-4zM306 108h4v4h-4zM222 112h4v4h-4zM302 112h4v4h-4zM22 116h4v4h-4zM50 128h4v4h-4zM254 128h4v4h-4zM54 132h4v4h-4zM214 144h4v4h-4zM86 152h4v4h-4zM102 152h8v4h-8zM86 156h4v4h-4zM106 156h4v4h-4zM30 160h4v4h-4zM94 160h4v4h-4zM306 160h4v4h-4zM50 164h4v4h-4zM94 164h8v4h-8zM306 164h4v4h-4zM42 168h4v4h-4zM302 168h4v4h-4zM42 172h4v4h-4zM302 172h4v4h-4zM310 172h4v4h-4zM6 176h8v4h-8zM110 176h4v4h-4zM10 180h4v4h-4zM90 180h4v4h-4zM6 184h4v4h-4zM78 184h4v4h-4zM86 184h4v4h-4zM154 184h4v4h-4zM2 188h4v4h-4zM90 188h4v4h-4zM238 192h4v4h-4zM318 196h4v4h-4zM94 200h4v4h-4zM314 200h4v4h-4zM54 204h4v4h-4zM62 204h4v4h-4zM170 204h4v4h-4zM118 212h4v4h-4zM118 216h4v4h-4zM238 216h4v4h-4zM38 220h8v4h-8zM242 220h4v4h-4zM238 224h4v4h-4zM306 224h4v4h-4zM338 224h4v4h-4zM30 232h4v4h-4zM230 232h4v4h-4zM322 232h4v4h-4zM234 236h4v4h-4zM322 236h4v4h-4z"/><path fill="#ea5a8a" d="M118 12h8v4h-8zM118 20h4v4h-4zM142 20h4v4h-4zM114 24h4v4h-4zM122 24h8v4h-8zM146 24h4v4h-4zM126 28h4v4h-4zM118 40h4v4h-4zM126 40h4v4h-4zM134 40h4v4h-4zM118 44h4v4h-4zM130 44h4v4h-4zM138 44h8v4h-8zM126 48h4v4h-4zM146 48h4v4h-4zM146 52h4v4h-4zM114 64h4v4h-4z"/><path fill="#6e3eee" d="M182 12h4v4h-4z"/><path fill="#ff2242" d="M238 12h4v4h-4z"/><path fill="#eece5e" d="M334 12h4v4h-4z"/><path fill="#6a52ea" d="M2 16h4v4h-4zM2 20h4v4h-4z"/><path fill="#6850e8" d="M6 16h4v4h-4zM6 24h4v4h-4zM6 28h4v4h-4z"/><path fill="#eaba92" d="M50 16h4v4h-4zM58 16h8v4h-8z"/><path fill="#223ae2" d="M82 16h4v4h-4z"/><path fill="#2840e8" d="M86 16h4v4h-4zM94 16h4v4h-4zM114 36h4v4h-4z"/><path fill="#2e46ee" d="M90 16h4v4h-4z"/><path fill="#7646f6" d="M174 16h8v4h-8zM174 20h12v4h-12zM190 20h4v4h-4zM174 24h8v4h-8zM190 24h4v4h-4zM174 28h4v4h-4zM186 28h4v4h-4zM182 32h4v4h-4zM186 36h8v4h-8zM182 40h4v4h-4zM178 48h8v4h-8zM178 52h4v4h-4zM182 56h4v4h-4zM178 64h4v4h-4z"/><path fill="#6a3aea" d="M182 16h8v4h-8zM182 24h8v4h-8zM178 28h8v4h-8zM178 32h4v4h-4zM190 32h4v4h-4zM190 40h4v4h-4zM178 44h12v4h-12zM186 48h4v4h-4zM182 52h4v4h-4zM178 60h8v4h-8z"/><path fill="#765ef6" d="M6 20h8v4h-8z"/><path fill="#f2c29a" d="M42 20h4v4h-4zM46 24h4v4h-4zM38 32h8v4h-8zM62 32h4v4h-4zM42 36h4v4h-4zM62 36h4v4h-4z"/><path fill="#f0c098" d="M46 20h4v4h-4zM62 20h4v4h-4z"/><path fill="#fecea6" d="M50 20h4v4h-4zM66 24h4v4h-4zM38 28h4v4h-4zM58 36h4v4h-4zM62 40h4v4h-4z"/><path fill="#f6c69e" d="M58 20h4v4h-4zM58 24h4v4h-4z"/><path fill="#ffd6ae" d="M66 20h4v4h-4zM54 24h4v4h-4zM70 24h4v4h-4zM50 28h4v4h-4zM58 40h4v4h-4zM58 44h4v4h-4z"/><path fill="#3048f0" d="M78 20h8v4h-8zM94 20h4v4h-4zM78 24h4v4h-4zM98 24h4v4h-4zM82 28h4v4h-4zM94 28h4v4h-4zM106 28h4v4h-4zM82 32h4v4h-4zM98 32h4v4h-4zM110 32h4v4h-4zM82 36h4v4h-4zM94 36h4v4h-4zM90 40h4v4h-4zM106 44h4v4h-4zM98 48h8v4h-8zM98 52h8v4h-8z"/><path fill="#364ef6" d="M86 20h4v4h-4zM106 20h4v4h-4zM90 24h8v4h-8zM78 28h4v4h-4zM90 28h4v4h-4zM102 28h4v4h-4zM110 28h4v4h-4zM90 32h8v4h-8zM78 36h4v4h-4zM90 36h4v4h-4zM102 36h12v4h-12zM78 40h8v4h-8zM102 40h12v4h-12zM82 44h8v4h-8zM98 44h4v4h-4zM110 44h4v4h-4zM86 48h4v4h-4zM94 48h4v4h-4z"/><path fill="#2a42ea" d="M90 20h4v4h-4zM98 20h8v4h-8zM82 24h8v4h-8zM102 24h12v4h-12zM86 28h4v4h-4zM98 28h4v4h-4zM78 32h4v4h-4zM86 32h4v4h-4zM102 32h8v4h-8zM86 36h4v4h-4zM98 36h4v4h-4zM86 40h4v4h-4zM94 40h8v4h-8zM90 44h8v4h-8zM102 44h4v4h-4zM82 48h4v4h-4zM90 48h4v4h-4zM106 48h4v4h-4zM90 52h8v4h-8z"/><path fill="#f26292" d="M126 20h4v4h-4zM126 32h4v4h-4zM130 40h4v4h-4z"/><path fill="#7040f0" d="M186 20h4v4h-4zM174 32h4v4h-4zM186 32h4v4h-4zM174 36h12v4h-12zM174 40h8v4h-8zM190 44h4v4h-4zM190 48h4v4h-4zM186 52h4v4h-4zM178 56h4v4h-4zM186 56h4v4h-4zM186 60h8v4h-8z"/><path fill="#ff2848" d="M254 20h4v4h-4zM258 24h4v4h-4z"/><path fill="#fec696" d="M270 20h4v4h-4zM290 20h4v4h-4zM50 24h4v4h-4zM282 24h8v4h-8zM306 52h8v4h-8zM326 60h4v4h-4zM186 64h4v4h-4zM230 72h4v4h-4zM162 76h4v4h-4zM138 80h4v4h-4zM294 108h4v4h-4zM102 124h4v4h-4zM298 124h4v4h-4zM106 128h4v4h-4zM34 144h4v4h-4zM98 144h4v4h-4zM294 144h4v4h-4zM34 148h4v4h-4zM266 152h8v4h-8zM74 156h4v4h-4zM202 156h4v4h-4zM198 160h4v4h-4zM202 164h4v4h-4zM194 172h8v4h-8zM218 188h8v4h-8zM30 196h8v4h-8zM54 196h4v4h-4zM6 200h4v4h-4zM6 204h8v4h-8zM2 208h4v4h-4zM274 216h12v4h-12zM274 220h8v4h-8zM78 224h4v4h-4z"/><path fill="#725af2" d="M2 24h4v4h-4z"/><path fill="#f8c8a0" d="M42 24h4v4h-4zM42 28h8v4h-8zM50 32h8v4h-8zM54 36h4v4h-4z"/><path fill="#f646e6" d="M166 24h8v4h-8zM230 24h4v4h-4zM170 28h4v4h-4zM230 28h4v4h-4zM218 36h4v4h-4zM226 40h4v4h-4zM218 44h4v4h-4zM226 48h4v4h-4zM222 52h8v4h-8zM226 60h4v4h-4zM22 108h4v4h-4zM34 108h4v4h-4zM18 112h4v4h-4zM26 120h4v4h-4zM54 120h4v4h-4zM26 124h4v4h-4zM138 156h4v4h-4zM254 204h4v4h-4zM254 212h4v4h-4zM266 220h4v4h-4zM230 224h4v4h-4z"/><path fill="#eaea5a" d="M194 24h4v4h-4zM66 32h4v4h-4zM46 36h8v4h-8zM258 40h8v4h-8zM110 48h4v4h-4zM150 52h4v4h-4zM154 60h4v4h-4zM218 60h4v4h-4zM246 60h4v4h-4zM226 64h4v4h-4zM174 68h4v4h-4zM154 80h4v4h-4zM238 84h8v4h-8zM174 88h4v4h-4zM38 92h4v4h-4zM334 92h8v4h-8zM38 96h4v4h-4zM46 96h4v4h-4zM170 96h8v4h-8zM206 100h4v4h-4zM66 108h4v4h-4zM270 116h4v4h-4zM270 120h4v4h-4zM2 128h4v4h-4zM218 128h4v4h-4zM2 132h4v4h-4zM338 132h4v4h-4zM242 136h4v4h-4zM294 136h4v4h-4zM338 136h4v4h-4zM278 148h4v4h-4zM2 164h4v4h-4zM26 168h4v4h-4zM54 168h4v4h-4zM242 172h4v4h-4zM46 180h4v4h-4zM58 184h4v4h-4zM2 192h8v4h-8zM2 196h4v4h-4zM98 204h8v4h-8zM314 204h4v4h-4zM34 208h4v4h-4zM286 212h4v4h-4zM6 220h4v4h-4zM6 228h4v4h-4zM6 232h4v4h-4zM2 236h4v4h-4z"/><path fill="#ff3850" d="M234 24h8v4h-8zM198 36h4v4h-4zM74 56h4v4h-4zM14 60h4v4h-4zM78 60h4v4h-4zM198 60h4v4h-4zM14 64h4v4h-4zM70 64h4v4h-4zM190 64h4v4h-4zM294 76h4v4h-4zM50 84h4v4h-4zM50 88h4v4h-4zM246 96h4v4h-4zM2 108h4v4h-4zM290 108h4v4h-4zM2 112h4v4h-4zM198 112h12v4h-12zM230 112h4v4h-4zM286 112h4v4h-4zM330 112h4v4h-4zM326 116h4v4h-4zM214 120h4v4h-4zM338 124h4v4h-4zM22 128h4v4h-4zM98 132h4v4h-4zM10 136h4v4h-4zM22 136h4v4h-4zM98 136h4v4h-4zM14 140h8v4h-8zM118 144h4v4h-4zM102 148h4v4h-4zM66 152h4v4h-4zM98 152h4v4h-4zM290 160h4v4h-4zM334 160h4v4h-4zM18 164h4v4h-4zM194 168h4v4h-4zM102 176h4v4h-4zM130 176h4v4h-4zM98 180h4v4h-4zM130 180h4v4h-4zM162 184h4v4h-4zM234 184h8v4h-8zM110 188h4v4h-4zM238 188h4v4h-4zM66 192h4v4h-4zM302 212h4v4h-4zM306 216h4v4h-4zM314 220h4v4h-4zM326 224h4v4h-4zM270 232h4v4h-4zM278 232h4v4h-4zM274 236h4v4h-4z"/><path fill="#f0f060" d="M18 28h4v4h-4zM62 28h4v4h-4zM194 28h4v4h-4zM258 36h4v4h-4zM186 40h4v4h-4zM194 44h4v4h-4zM258 44h4v4h-4zM110 52h4v4h-4zM158 52h4v4h-4zM214 56h4v4h-4zM302 56h4v4h-4zM154 64h8v4h-8zM306 68h4v4h-4zM242 76h4v4h-4zM242 80h8v4h-8zM42 92h4v4h-4zM170 92h4v4h-4zM330 92h4v4h-4zM42 96h4v4h-4zM330 96h12v4h-12zM334 100h8v4h-8zM142 104h4v4h-4zM142 108h4v4h-4zM190 116h4v4h-4zM262 120h4v4h-4zM274 120h4v4h-4zM210 124h4v4h-4zM262 124h4v4h-4zM270 124h4v4h-4zM238 136h4v4h-4zM298 140h4v4h-4zM2 160h4v4h-4zM54 164h4v4h-4zM86 172h4v4h-4zM118 172h4v4h-4zM238 172h4v4h-4zM238 176h4v4h-4zM70 184h4v4h-4zM82 184h4v4h-4zM334 192h4v4h-4zM250 196h4v4h-4zM254 224h4v4h-4zM2 228h4v4h-4zM2 232h4v4h-4zM78 236h4v4h-4z"/><path fill="#48a8e8" d="M70 28h4v4h-4zM74 32h4v4h-4z"/><path fill="#42a2e2" d="M74 28h4v4h-4zM74 36h4v4h-4z"/><path fill="#f8a040" d="M150 28h4v4h-4zM166 32h4v4h-4zM150 36h4v4h-4zM166 40h8v4h-8zM158 44h8v4h-8zM154 48h8v4h-8z"/><path fill="#fea646" d="M154 28h8v4h-8zM150 32h4v4h-4zM158 36h4v4h-4zM162 40h4v4h-4zM154 44h4v4h-4zM162 48h8v4h-8z"/><path fill="#f29a3a" d="M162 28h4v4h-4zM154 32h12v4h-12zM170 32h4v4h-4zM154 36h4v4h-4zM162 36h12v4h-12zM150 40h8v4h-8zM150 44h4v4h-4zM166 44h4v4h-4zM174 44h4v4h-4zM162 52h4v4h-4z"/><path fill="#ea9232" d="M166 28h4v4h-4zM246 128h4v4h-4z"/><path fill="#7242f2" d="M190 28h4v4h-4z"/><path fill="#f040e0" d="M226 28h4v4h-4zM226 56h4v4h-4zM26 100h4v4h-4zM38 104h4v4h-4zM42 108h4v4h-4zM54 108h4v4h-4zM10 112h4v4h-4zM2 116h4v4h-4zM18 116h4v4h-4zM26 116h8v4h-8zM2 120h4v4h-4zM142 148h4v4h-4zM142 152h4v4h-4zM142 156h8v4h-8zM250 208h4v4h-4zM250 212h4v4h-4zM270 216h4v4h-4zM270 220h4v4h-4zM234 224h4v4h-4zM262 224h8v4h-8zM230 228h4v4h-4zM266 228h4v4h-4z"/><path fill="#4eaeee" d="M70 32h4v4h-4z"/><path fill="#f242e2" d="M222 32h8v4h-8zM222 36h8v4h-8zM46 104h8v4h-8zM42 116h4v4h-4zM14 120h4v4h-4zM146 164h8v4h-8zM134 168h4v4h-4zM134 172h4v4h-4zM246 212h4v4h-4zM266 216h4v4h-4z"/><path fill="#e838a8" d="M238 32h4v4h-4zM234 44h8v4h-8zM262 48h4v4h-4zM234 52h8v4h-8z"/><path fill="#f848b8" d="M274 32h4v4h-4zM270 36h4v4h-4zM266 44h4v4h-4z"/><path fill="#fe6e9e" d="M122 36h4v4h-4zM130 36h4v4h-4zM142 52h4v4h-4z"/><path fill="#f86898" d="M126 36h4v4h-4zM134 44h4v4h-4zM102 68h4v4h-4z"/><path fill="#f646b6" d="M230 36h4v4h-4zM230 40h8v4h-8z"/><path fill="#ea3aaa" d="M234 36h4v4h-4zM246 40h4v4h-4zM246 44h8v4h-8z"/><path fill="#ee3eae" d="M238 36h8v4h-8zM238 40h4v4h-4zM262 44h4v4h-4zM238 48h8v4h-8z"/><path fill="#f242b2" d="M274 36h4v4h-4zM266 40h8v4h-8z"/><path fill="#ff4030" d="M38 40h8v4h-8zM42 44h4v4h-4zM50 48h4v4h-4zM54 52h4v4h-4zM50 56h4v4h-4zM46 60h4v4h-4zM54 60h4v4h-4z"/><path fill="#f93a2a" d="M46 40h4v4h-4zM50 44h4v4h-4zM38 48h8v4h-8zM42 52h4v4h-4zM50 52h4v4h-4z"/><path fill="#ff4636" d="M50 40h4v4h-4zM38 44h4v4h-4zM46 44h4v4h-4zM54 44h4v4h-4zM46 48h4v4h-4zM42 56h8v4h-8zM50 60h4v4h-4z"/><path fill="#ffd0a8" d="M54 40h4v4h-4z"/><path fill="#f69e3e" d="M158 40h4v4h-4zM150 48h4v4h-4z"/><path fill="#f848e8" d="M222 40h4v4h-4zM50 108h4v4h-4zM54 112h4v4h-4zM146 160h4v4h-4zM242 212h4v4h-4z"/><path fill="#e232a2" d="M242 40h4v4h-4z"/><path fill="#f040a0" d="M334 40h8v4h-8zM334 52h4v4h-4zM334 60h4v4h-4z"/><path fill="#f8d0c0" d="M26 44h8v4h-8zM62 44h4v4h-4zM66 56h4v4h-4zM34 60h4v4h-4zM30 64h12v4h-12zM62 64h8v4h-8zM30 68h4v4h-4zM38 72h4v4h-4z"/><path fill="#f0c8b8" d="M34 44h4v4h-4zM34 48h4v4h-4zM66 52h4v4h-4zM62 56h4v4h-4z"/><path fill="#4aaaea" d="M74 44h4v4h-4zM70 52h4v4h-4z"/><path fill="#56b6f6" d="M78 44h4v4h-4zM74 48h4v4h-4z"/><path fill="#ffae4e" d="M170 44h4v4h-4zM258 128h8v4h-8zM254 136h4v4h-4zM254 140h8v4h-8z"/><path fill="#5aea8a" d="M210 44h4v4h-4zM206 48h4v4h-4zM194 52h4v4h-4zM206 52h4v4h-4z"/><path fill="#60f090" d="M214 44h4v4h-4zM210 48h8v4h-8zM210 52h4v4h-4zM206 56h8v4h-8z"/><path fill="#ea3ada" d="M222 44h12v4h-12zM222 48h4v4h-4zM230 64h4v4h-4zM46 108h4v4h-4zM14 112h4v4h-4zM22 112h8v4h-8zM38 112h8v4h-8zM6 116h12v4h-12zM18 120h4v4h-4zM30 120h8v4h-8zM146 148h4v4h-4zM146 152h4v4h-4zM134 160h8v4h-8zM254 208h4v4h-4zM270 224h4v4h-4zM234 228h4v4h-4z"/><path fill="#f040b0" d="M242 44h4v4h-4zM246 48h4v4h-4z"/><path fill="#fe4ebe" d="M270 44h4v4h-4z"/><path fill="#ea3a9a" d="M330 44h4v4h-4zM338 64h4v4h-4z"/><path fill="#f646a6" d="M334 44h4v4h-4zM330 48h8v4h-8zM338 52h4v4h-4zM338 60h4v4h-4z"/><path fill="#ee3e9e" d="M338 44h4v4h-4z"/><path fill="#c0f050" d="M6 48h4v4h-4zM2 52h16v4h-16zM2 56h12v4h-12zM18 56h4v4h-4zM18 60h4v4h-4zM18 64h4v4h-4z"/><path fill="#f2caba" d="M26 48h8v4h-8zM42 64h4v4h-4zM34 68h8v4h-8z"/><path fill="#fad2c2" d="M54 48h4v4h-4z"/><path fill="#ffdece" d="M58 48h4v4h-4zM58 52h4v4h-4zM54 56h8v4h-8z"/><path fill="#f6cebe" d="M62 48h4v4h-4zM54 64h4v4h-4z"/><path fill="#fed6c6" d="M66 48h4v4h-4zM62 60h8v4h-8z"/><path fill="#50b0f0" d="M78 48h4v4h-4z"/><path fill="#66f696" d="M194 48h4v4h-4zM198 52h8v4h-8zM214 60h4v4h-4z"/><path fill="#68f898" d="M202 48h4v4h-4z"/><path fill="#e83898" d="M338 48h4v4h-4z"/><path fill="#f13222" d="M46 52h4v4h-4z"/><path fill="#eac2b2" d="M62 52h4v4h-4z"/><path fill="#ff3c20" d="M134 52h4v4h-4zM134 56h8v4h-8zM134 60h4v4h-4zM134 64h4v4h-4zM146 64h4v4h-4zM134 68h4v4h-4zM142 68h8v4h-8z"/><path fill="#7848f8" d="M190 52h4v4h-4zM194 56h4v4h-4z"/><path fill="#f242a2" d="M330 52h4v4h-4zM330 56h8v4h-8z"/><path fill="#ff4226" d="M130 56h4v4h-4zM146 56h4v4h-4zM130 60h4v4h-4zM138 60h12v4h-12zM142 64h4v4h-4zM134 72h12v4h-12z"/><path fill="#f9361a" d="M142 56h4v4h-4zM138 64h4v4h-4z"/><path fill="#6232e2" d="M190 56h4v4h-4z"/><path fill="#f848a8" d="M326 56h4v4h-4zM330 60h4v4h-4z"/><path fill="#cefe5e" d="M2 60h4v4h-4zM18 68h4v4h-4z"/><path fill="#beee4e" d="M6 60h4v4h-4z"/><path fill="#b8e848" d="M10 60h4v4h-4z"/><path fill="#c2f252" d="M2 64h4v4h-4z"/><path fill="#c8f858" d="M6 64h4v4h-4z"/><path fill="#f040d0" d="M78 64h4v4h-4zM78 68h4v4h-4zM238 128h4v4h-4zM234 136h4v4h-4zM234 140h4v4h-4zM230 144h8v4h-8zM226 164h4v4h-4z"/><path fill="#f646d6" d="M82 64h4v4h-4zM90 64h4v4h-4zM78 76h4v4h-4zM238 132h8v4h-8z"/><path fill="#ff4a2e" d="M138 68h4v4h-4zM146 72h4v4h-4z"/><path fill="#ea3aca" d="M78 72h8v4h-8zM82 76h4v4h-4zM78 80h4v4h-4zM242 128h4v4h-4zM230 140h4v4h-4zM242 160h4v4h-4zM230 164h4v4h-4z"/><path fill="#42e262" d="M18 76h4v4h-4z"/><path fill="#fecef6" d="M122 76h4v4h-4zM166 84h4v4h-4zM146 88h4v4h-4zM178 88h4v4h-4zM118 92h4v4h-4zM138 92h4v4h-4zM126 96h4v4h-4zM138 96h4v4h-4zM118 104h4v4h-4zM134 104h4v4h-4zM142 120h4v4h-4z"/><path fill="#ff3e22" d="M138 76h4v4h-4z"/><path fill="#eaea3a" d="M210 76h4v4h-4zM222 76h4v4h-4zM218 80h4v4h-4zM206 84h4v4h-4zM214 84h4v4h-4zM222 84h4v4h-4zM210 88h4v4h-4zM218 88h4v4h-4zM218 92h4v4h-4z"/><path fill="#f6f646" d="M214 76h8v4h-8zM210 84h4v4h-4zM218 84h4v4h-4zM222 88h4v4h-4zM214 92h4v4h-4z"/><path fill="#50f070" d="M10 80h8v4h-8zM26 80h8v4h-8zM10 84h4v4h-4zM18 84h4v4h-4zM34 84h4v4h-4zM10 88h4v4h-4zM30 88h8v4h-8zM10 92h4v4h-4zM18 92h12v4h-12z"/><path fill="#56f676" d="M18 80h8v4h-8zM34 80h8v4h-8zM14 88h4v4h-4zM26 88h4v4h-4zM38 88h4v4h-4zM14 92h4v4h-4z"/><path fill="#f8c8f0" d="M122 80h4v4h-4zM166 80h4v4h-4zM162 84h4v4h-4zM170 84h4v4h-4zM178 84h8v4h-8zM162 88h4v4h-4zM182 88h4v4h-4zM146 92h4v4h-4zM134 96h4v4h-4zM118 100h8v4h-8zM138 100h4v4h-4zM122 104h4v4h-4zM122 108h4v4h-4z"/><path fill="#f0c0e8" d="M134 80h4v4h-4zM114 116h4v4h-4z"/><path fill="#f2c2ea" d="M162 80h4v4h-4zM170 80h4v4h-4zM178 92h4v4h-4zM118 96h8v4h-8zM130 100h4v4h-4zM138 104h4v4h-4zM146 120h4v4h-4z"/><path fill="#f0f040" d="M210 80h8v4h-8zM222 80h4v4h-4zM214 88h4v4h-4z"/><path fill="#58d8d8" d="M266 80h4v4h-4z"/><path fill="#66e6e6" d="M270 80h4v4h-4z"/><path fill="#5adada" d="M274 80h4v4h-4z"/><path fill="#4aea6a" d="M14 84h4v4h-4zM22 84h12v4h-12zM18 88h8v4h-8zM30 92h8v4h-8z"/><path fill="#9aea6a" d="M54 84h8v4h-8zM74 84h4v4h-4zM82 84h4v4h-4zM54 88h4v4h-4zM54 92h4v4h-4zM74 92h8v4h-8zM54 96h4v4h-4zM74 96h8v4h-8zM58 100h8v4h-8zM82 100h4v4h-4zM54 104h4v4h-4zM78 104h8v4h-8zM58 108h4v4h-4z"/><path fill="#a6f676" d="M62 84h4v4h-4zM78 88h12v4h-12zM62 92h4v4h-4zM70 92h4v4h-4zM82 92h4v4h-4zM66 96h8v4h-8zM54 100h4v4h-4zM66 100h12v4h-12zM66 104h12v4h-12zM74 108h4v4h-4z"/><path fill="#a8f878" d="M66 84h4v4h-4z"/><path fill="#a0f070" d="M70 84h4v4h-4zM58 88h4v4h-4zM66 88h12v4h-12zM58 92h4v4h-4zM58 96h8v4h-8zM82 96h4v4h-4zM78 100h4v4h-4zM58 104h8v4h-8zM62 108h4v4h-4zM78 108h8v4h-8z"/><path fill="#facaf2" d="M118 84h4v4h-4zM126 88h4v4h-4zM122 92h4v4h-4zM178 96h8v4h-8zM122 112h4v4h-4zM162 112h12v4h-12zM178 112h4v4h-4zM158 116h4v4h-4zM174 116h4v4h-4z"/><path fill="#6eeeee" d="M262 84h4v4h-4z"/><path fill="#5edede" d="M266 84h4v4h-4z"/><path fill="#9eee6e" d="M62 88h4v4h-4z"/><path fill="#ffd6fe" d="M118 88h8v4h-8zM126 92h4v4h-4zM174 108h4v4h-4zM166 116h8v4h-8z"/><path fill="#ea3a7a" d="M238 88h8v4h-8zM234 96h4v4h-4zM238 100h4v4h-4zM234 116h8v4h-8z"/><path fill="#68e8e8" d="M262 88h4v4h-4z"/><path fill="#92e262" d="M66 92h4v4h-4zM86 96h4v4h-4z"/><path fill="#f84888" d="M234 92h4v4h-4z"/><path fill="#f24282" d="M238 92h4v4h-4zM238 96h4v4h-4z"/><path fill="#f04080" d="M242 92h4v4h-4zM234 100h4v4h-4zM234 104h8v4h-8z"/><path fill="#fe4eee" d="M50 96h4v4h-4zM46 100h8v4h-8zM50 112h4v4h-4zM38 116h4v4h-4zM50 116h8v4h-8zM42 120h4v4h-4zM142 160h4v4h-4zM254 200h4v4h-4zM242 204h12v4h-12z"/><path fill="#80a0f0" d="M166 100h8v4h-8z"/><path fill="#ffd0f8" d="M174 100h8v4h-8zM174 112h4v4h-4zM162 116h4v4h-4zM158 120h4v4h-4z"/><path fill="#8676f6" d="M250 100h4v4h-4zM246 112h4v4h-4z"/><path fill="#7a6aea" d="M254 100h4v4h-4zM250 104h4v4h-4zM258 108h4v4h-4zM250 112h4v4h-4z"/><path fill="#86a6f6" d="M166 104h12v4h-12zM166 108h4v4h-4z"/><path fill="#ee3e7e" d="M242 104h4v4h-4zM238 120h4v4h-4z"/><path fill="#e23272" d="M246 104h4v4h-4zM242 108h4v4h-4zM242 112h4v4h-4zM234 120h4v4h-4zM238 124h4v4h-4z"/><path fill="#8070f0" d="M254 104h8v4h-8zM250 108h8v4h-8zM254 112h4v4h-4z"/><path fill="#f6c6ee" d="M146 108h4v4h-4z"/><path fill="#7a9aea" d="M170 108h4v4h-4z"/><path fill="#e83878" d="M246 108h4v4h-4zM242 124h4v4h-4z"/><path fill="#ff4e6e" d="M98 116h4v4h-4zM114 120h4v4h-4z"/><path fill="#f93a5a" d="M102 116h12v4h-12zM106 120h8v4h-8z"/><path fill="#ea6a92" d="M178 116h8v4h-8zM166 120h8v4h-8zM162 124h20v4h-20zM190 124h4v4h-4zM194 128h4v4h-4zM206 128h4v4h-4zM182 132h4v4h-4zM198 136h8v4h-8zM178 144h4v4h-4z"/><path fill="#f6769e" d="M186 116h4v4h-4zM178 120h8v4h-8zM190 120h4v4h-4zM190 128h4v4h-4zM198 128h4v4h-4zM194 132h8v4h-8zM206 136h4v4h-4zM170 144h4v4h-4zM198 144h4v4h-4zM170 148h4v4h-4zM202 148h4v4h-4zM178 156h8v4h-8z"/><path fill="#ff4868" d="M98 120h4v4h-4z"/><path fill="#ff4262" d="M102 120h4v4h-4z"/><path fill="#f07098" d="M162 120h4v4h-4zM174 120h4v4h-4zM194 124h4v4h-4zM170 128h4v4h-4zM186 132h8v4h-8zM202 132h8v4h-8zM162 136h4v4h-4zM202 140h4v4h-4zM174 144h4v4h-4z"/><path fill="#ee6e96" d="M198 120h4v4h-4zM206 124h4v4h-4zM198 152h4v4h-4zM194 156h8v4h-8zM186 160h4v4h-4zM194 160h4v4h-4z"/><path fill="#e86890" d="M202 120h4v4h-4zM198 124h8v4h-8zM202 128h4v4h-4zM162 140h4v4h-4zM190 156h4v4h-4zM190 164h4v4h-4z"/><path fill="#e2628a" d="M206 120h4v4h-4zM174 128h4v4h-4zM182 128h4v4h-4zM194 148h4v4h-4zM194 152h4v4h-4zM202 152h4v4h-4zM182 160h4v4h-4zM190 160h4v4h-4z"/><path fill="#a848f8" d="M230 120h4v4h-4zM226 132h4v4h-4zM218 136h4v4h-4zM222 140h4v4h-4z"/><path fill="#f64686" d="M242 120h4v4h-4z"/><path fill="#e8b8e8" d="M142 124h8v4h-8zM150 136h4v4h-4zM150 140h4v4h-4zM146 144h4v4h-4zM154 144h4v4h-4z"/><path fill="#a646f6" d="M218 124h4v4h-4z"/><path fill="#a040f0" d="M222 124h4v4h-4z"/><path fill="#f848d8" d="M226 124h4v4h-4zM230 128h4v4h-4zM242 140h8v4h-8zM238 156h8v4h-8zM238 160h4v4h-4z"/><path fill="#f09838" d="M246 124h4v4h-4zM250 140h4v4h-4z"/><path fill="#faa242" d="M258 124h4v4h-4zM258 132h4v4h-4zM258 136h4v4h-4zM262 144h4v4h-4z"/><path fill="#fecefe" d="M150 128h4v4h-4zM142 136h4v4h-4zM142 140h4v4h-4zM138 148h4v4h-4z"/><path fill="#f0c0f0" d="M154 128h8v4h-8zM150 132h4v4h-4zM158 132h4v4h-4zM138 152h4v4h-4z"/><path fill="#9a3aea" d="M222 128h4v4h-4z"/><path fill="#f242d2" d="M226 128h4v4h-4zM246 136h4v4h-4zM238 144h12v4h-12zM234 160h4v4h-4z"/><path fill="#9e3eee" d="M234 128h4v4h-4z"/><path fill="#f6c6f6" d="M146 132h4v4h-4z"/><path fill="#eabaea" d="M154 132h4v4h-4zM158 136h4v4h-4zM158 140h4v4h-4z"/><path fill="#f2729a" d="M170 132h4v4h-4zM186 156h4v4h-4z"/><path fill="#f878a0" d="M174 132h4v4h-4zM166 136h4v4h-4zM166 140h4v4h-4zM162 144h4v4h-4zM162 148h8v4h-8z"/><path fill="#ae4efe" d="M222 132h4v4h-4zM226 136h8v4h-8zM226 140h4v4h-4z"/><path fill="#9232e2" d="M230 132h4v4h-4z"/><path fill="#9838e8" d="M234 132h4v4h-4z"/><path fill="#f2c2f2" d="M138 136h4v4h-4zM146 136h4v4h-4zM142 144h4v4h-4zM134 148h4v4h-4z"/><path fill="#eebeee" d="M154 136h4v4h-4zM154 140h4v4h-4zM150 144h4v4h-4z"/><path fill="#fe7ea6" d="M170 136h4v4h-4zM166 144h4v4h-4zM186 152h8v4h-8z"/><path fill="#f8d0e8" d="M182 136h8v4h-8zM178 148h4v4h-4zM178 152h8v4h-8z"/><path fill="#f2cae2" d="M190 136h4v4h-4zM174 152h4v4h-4z"/><path fill="#fad2ea" d="M194 136h4v4h-4zM198 140h4v4h-4zM202 144h4v4h-4zM190 148h4v4h-4z"/><path fill="#a242f2" d="M222 136h4v4h-4z"/><path fill="#f8c8f8" d="M138 140h4v4h-4z"/><path fill="#e2b2e2" d="M146 140h4v4h-4zM158 144h4v4h-4z"/><path fill="#f0c8e0" d="M182 140h4v4h-4zM186 144h4v4h-4zM182 148h4v4h-4z"/><path fill="#ffdef6" d="M186 140h4v4h-4zM194 140h4v4h-4zM194 144h4v4h-4z"/><path fill="#ff8e3e" d="M218 140h4v4h-4zM222 148h4v4h-4z"/><path fill="#ffa848" d="M262 140h4v4h-4z"/><path fill="#a2e2e2" d="M266 140h4v4h-4zM282 140h4v4h-4zM274 152h4v4h-4zM274 160h4v4h-4z"/><path fill="#f6cee6" d="M182 144h4v4h-4z"/><path fill="#ff8838" d="M218 144h4v4h-4zM226 144h4v4h-4z"/><path fill="#ff8232" d="M222 144h4v4h-4z"/><path fill="#aeeeee" d="M266 144h8v4h-8zM278 144h4v4h-4zM274 156h4v4h-4z"/><path fill="#b0f0f0" d="M282 144h4v4h-4zM262 152h4v4h-4zM258 160h4v4h-4z"/><path fill="#ffd8f0" d="M186 148h4v4h-4zM198 148h4v4h-4z"/><path fill="#a8e8e8" d="M266 148h8v4h-8zM278 156h4v4h-4zM266 160h8v4h-8zM262 164h16v4h-16zM270 168h4v4h-4z"/><path fill="#f656a6" d="M310 148h8v4h-8zM306 152h4v4h-4zM298 156h8v4h-8zM318 164h4v4h-4zM314 168h8v4h-8z"/><path fill="#ea4a9a" d="M318 148h4v4h-4zM310 152h8v4h-8zM306 156h4v4h-4zM314 156h4v4h-4zM310 160h4v4h-4zM310 164h8v4h-8z"/><path fill="#fe4ede" d="M238 152h4v4h-4zM234 156h4v4h-4z"/><path fill="#aaeaea" d="M278 152h4v4h-4zM266 156h4v4h-4zM262 160h4v4h-4z"/><path fill="#fe5eae" d="M318 152h4v4h-4z"/><path fill="#b6f6f6" d="M258 156h8v4h-8z"/><path fill="#f050a0" d="M310 156h4v4h-4z"/><path fill="#4aea62" d="M178 160h4v4h-4zM170 164h4v4h-4zM178 164h8v4h-8zM178 168h8v4h-8zM186 172h4v4h-4zM174 176h4v4h-4z"/><path fill="#56f66e" d="M174 164h4v4h-4zM174 172h4v4h-4zM190 172h4v4h-4zM186 176h4v4h-4zM174 180h4v4h-4zM182 180h8v4h-8z"/><path fill="#50f068" d="M186 164h4v4h-4zM178 172h8v4h-8zM182 176h4v4h-4z"/><path fill="#8636f6" d="M218 164h4v4h-4zM210 168h4v4h-4zM214 172h4v4h-4zM226 172h4v4h-4z"/><path fill="#8030f0" d="M222 164h4v4h-4zM222 168h4v4h-4zM218 172h4v4h-4zM218 176h4v4h-4z"/><path fill="#faa262" d="M290 164h4v4h-4zM290 168h4v4h-4z"/><path fill="#52f26a" d="M186 168h4v4h-4z"/><path fill="#7a2aea" d="M214 168h8v4h-8zM226 168h4v4h-4zM222 172h4v4h-4z"/><path fill="#7222e2" d="M230 168h4v4h-4z"/><path fill="#f8a060" d="M274 168h4v4h-4zM282 172h4v4h-4zM274 176h4v4h-4zM282 176h4v4h-4zM286 188h4v4h-4z"/><path fill="#f29a5a" d="M278 168h4v4h-4zM278 172h4v4h-4z"/><path fill="#ffa868" d="M294 168h4v4h-4z"/><path fill="#fea666" d="M274 172h4v4h-4zM294 172h4v4h-4zM286 184h4v4h-4z"/><path fill="#ffae6e" d="M286 172h8v4h-8z"/><path fill="#8080f0" d="M242 176h4v4h-4zM246 180h4v4h-4zM230 192h4v4h-4z"/><path fill="#8686f6" d="M246 176h4v4h-4zM242 180h4v4h-4zM230 188h4v4h-4zM226 192h4v4h-4zM234 192h4v4h-4z"/><path fill="#ea9252" d="M278 176h4v4h-4z"/><path fill="#7a7aea" d="M238 180h4v4h-4zM226 188h4v4h-4zM234 188h4v4h-4zM230 196h8v4h-8z"/><path fill="#e868a8" d="M214 184h4v4h-4zM214 188h4v4h-4zM210 196h4v4h-4zM222 216h4v4h-4zM214 220h4v4h-4zM210 224h8v4h-8zM218 232h4v4h-4z"/><path fill="#8282f2" d="M242 184h4v4h-4zM250 184h4v4h-4zM242 188h4v4h-4z"/><path fill="#ff6626" d="M258 184h4v4h-4zM262 188h4v4h-4zM274 192h4v4h-4zM258 196h12v4h-12zM278 200h4v4h-4zM258 204h4v4h-4zM270 204h4v4h-4zM258 208h4v4h-4zM274 208h8v4h-8zM262 212h4v4h-4z"/><path fill="#f95a1a" d="M262 184h8v4h-8zM258 188h4v4h-4zM270 188h4v4h-4zM258 192h12v4h-12zM254 196h4v4h-4zM258 200h8v4h-8zM270 200h8v4h-8zM262 204h4v4h-4zM262 208h8v4h-8zM266 212h8v4h-8z"/><path fill="#ff6020" d="M270 184h12v4h-12zM274 188h8v4h-8zM278 192h4v4h-4zM270 196h12v4h-12zM266 200h4v4h-4zM266 204h4v4h-4zM274 204h4v4h-4zM258 212h4v4h-4zM278 212h4v4h-4z"/><path fill="#f75818" d="M266 188h4v4h-4z"/><path fill="#e262a2" d="M214 192h4v4h-4zM218 212h4v4h-4zM214 216h4v4h-4zM210 220h4v4h-4zM218 228h4v4h-4z"/><path fill="#ff6222" d="M270 192h4v4h-4zM270 208h4v4h-4z"/><path fill="#e060e0" d="M150 196h4v4h-4zM166 196h4v4h-4zM162 208h4v4h-4z"/><path fill="#e868e8" d="M162 196h4v4h-4zM158 204h4v4h-4z"/><path fill="#4056f6" d="M178 196h4v4h-4zM182 200h4v4h-4zM190 200h16v4h-16zM178 204h8v4h-8zM206 204h4v4h-4zM182 208h4v4h-4zM202 208h4v4h-4zM182 212h4v4h-4zM198 212h4v4h-4zM190 216h12v4h-12zM182 220h4v4h-4zM178 232h4v4h-4zM206 232h4v4h-4zM206 236h4v4h-4zM214 236h4v4h-4z"/><path fill="#3a50f0" d="M186 196h4v4h-4zM174 200h4v4h-4zM174 204h4v4h-4zM174 208h4v4h-4zM186 208h4v4h-4zM198 208h4v4h-4zM206 208h4v4h-4zM178 212h4v4h-4zM194 212h4v4h-4zM202 216h4v4h-4zM174 220h8v4h-8zM174 224h4v4h-4zM182 224h8v4h-8zM194 224h4v4h-4zM206 224h4v4h-4zM174 228h28v4h-28zM182 232h4v4h-4zM190 232h16v4h-16z"/><path fill="#ee6eae" d="M214 196h4v4h-4zM210 216h4v4h-4zM218 216h4v4h-4zM222 232h4v4h-4zM218 236h4v4h-4z"/><path fill="#f878b8" d="M222 196h4v4h-4zM214 204h4v4h-4zM222 224h4v4h-4z"/><path fill="#fe7ebe" d="M226 196h4v4h-4zM222 204h4v4h-4zM222 208h4v4h-4z"/><path fill="#e666e6" d="M146 200h4v4h-4zM166 200h4v4h-4zM146 204h4v4h-4zM166 204h4v4h-4zM166 208h4v4h-4zM162 212h8v4h-8z"/><path fill="#da5ada" d="M150 200h4v4h-4z"/><path fill="#344aea" d="M178 200h4v4h-4zM186 200h4v4h-4zM186 204h20v4h-20zM178 208h4v4h-4zM194 208h4v4h-4zM174 212h4v4h-4zM186 212h8v4h-8zM202 212h8v4h-8zM174 216h12v4h-12zM206 216h4v4h-4zM186 220h24v4h-24zM190 224h4v4h-4zM198 224h8v4h-8zM202 228h8v4h-8zM174 232h4v4h-4zM186 232h4v4h-4zM210 236h4v4h-4z"/><path fill="#f272b2" d="M222 200h12v4h-12zM226 204h4v4h-4zM218 208h4v4h-4zM226 208h4v4h-4z"/><path fill="#e262e2" d="M154 204h4v4h-4zM150 216h4v4h-4zM146 220h4v4h-4z"/><path fill="#2c42e2" d="M190 208h4v4h-4zM170 228h4v4h-4zM174 236h4v4h-4zM202 236h4v4h-4z"/><path fill="#ff6828" d="M274 212h4v4h-4z"/><path fill="#ee6eee" d="M146 216h4v4h-4zM150 220h4v4h-4z"/><path fill="#384eee" d="M186 216h4v4h-4z"/><path fill="#de5ede" d="M162 224h4v4h-4z"/><path fill="#d252d2" d="M166 224h4v4h-4zM166 228h4v4h-4z"/><path fill="#3248e8" d="M178 224h4v4h-4zM170 236h4v4h-4zM178 236h8v4h-8zM198 236h4v4h-4z"/></g></g>
<g clip-path="url(#cpb)"><g filter="url(#blr)"><rect x="348" y="1" width="336" height="236" fill="#5060f0"/><rect x="540" y="1" width="145" height="60" fill="#f0eef6"/><polygon fill="url(#gb1)" points="436,1 506,1 506,132 490,150 470,160 450,180 432,205 418,237 348,237 348,170 372,165 396,158 406,125 416,90 426,60 436,30"/><polygon fill="#6038f0" points="418,92 448,95 470,118 478,140 462,168 440,172 418,150 410,125"/><polygon fill="#50b8f0" points="482,14 505,12 505,62 492,60 484,40"/><polygon fill="#c8a0e8" points="454,1 482,1 482,8 455,8"/><polygon fill="#ff5432" points="463,8 480,8 480,28 474,38 465,34 462,20"/><polygon fill="#ff9858" points="480,1 506,1 506,14 484,16"/><polygon fill="#f040a0" points="348,1 364,1 364,52 348,52"/><polygon fill="#38e6d6" points="348,50 363,50 365,75 361,105 348,105"/><polygon fill="#b048f0" points="348,104 360,104 359,142 348,142"/><polygon fill="url(#gsk)" points="348,160 420,160 430,190 348,192"/><polygon fill="#38a8f0" points="348,140 370,138 376,160 368,176 348,176"/><polygon fill="#5a48f0" points="348,222 372,222 374,237 348,237"/><polygon fill="#ff6844" points="348,190 361,190 362,226 348,226"/><polygon fill="#ff7048" points="374,221 391,221 391,237 374,237"/><polygon fill="url(#gob)" points="364,5 388,2 392,28 414,33 440,26 446,24 436,32 426,60 416,90 406,125 396,158 380,166 368,164 361,140 360,100 362,60"/><polygon fill="#a8e4f0" points="434,22 446,22 446,27 432,46 414,72 403,84 398,78 404,62 418,42"/><polygon fill="#ff6234" points="442,34 447,36 434,62 420,90 410,96 412,84 426,60"/><polygon fill="#7a64f0" points="369,1 380,1 380,9 370,10"/><polygon fill="#f8d040" points="381,1 394,1 394,18 383,19"/><polygon fill="#ff2038" points="388,1 452,1 453,14 446,28 416,33 392,28 388,14"/><polygon fill="#f8f040" points="506,1 548,1 556,26 570,40 566,46 548,40 515,30 506,24"/><polygon fill="#5a90f0" points="545,1 592,1 590,18 580,30 560,30 552,20"/><polygon fill="url(#gw)" points="575,1 685,1 685,114 652,114 646,116 630,100 600,76 580,50 568,40 580,30 590,18 592,8"/><polygon fill="#f0a8c8" points="590,1 645,1 643,10 592,12"/><polygon fill="#e4f8d4" points="576,40 612,44 624,70 600,72"/><polygon fill="url(#gr)" points="506,24 515,30 548,40 566,46 580,50 600,76 630,100 650,117 640,142 620,176 602,210 596,237 580,237 576,216 562,196 552,176 532,160 510,150 492,152 476,160 490,142 506,132"/><polygon fill="#44e8c8" points="502,56 530,56 532,70 524,80 504,80"/><polygon fill="#a07af0" points="579,55 590,55 590,61 580,61"/><polygon fill="#f07870" points="672,28 685,28 685,52 674,50"/><polygon fill="#a0c8f0" points="650,112 685,112 685,134 660,136 648,130"/><polygon fill="url(#gy)" points="648,128 685,128 685,237 596,237 602,210 620,176 640,142"/><polygon fill="#ff7044" points="468,142 492,138 506,148 492,152 476,162 462,170 458,162"/><polygon fill="url(#go)" points="430,212 432,196 446,178 466,166 490,153 512,150 532,160 552,176 562,196 576,216 580,232 540,226 500,222 460,218"/><polygon fill="#c8f060" points="446,176 466,166 470,172 456,188 444,192"/><polygon fill="#50f0c0" points="423,214 440,214 441,237 420,237"/><polygon fill="#ff5454" points="440,212 480,214 482,237 440,237"/><polygon fill="#68f098" points="478,222 521,222 521,237 478,237"/><polygon fill="#f86080" points="520,220 582,222 584,237 520,237"/><polygon fill="#60f090" points="515,225 521,225 521,237 515,237"/><polygon fill="#50c0f0" points="560,176 575,176 577,194 561,194"/><polygon fill="#8090d8" points="574,122 580,122 580,134 575,134"/><polygon fill="#f0ec38" points="432,190 446,184 450,214 432,214"/></g></g>
<rect x="2" y="125" width="128" height="112" fill="#fff"/>
<clipPath id="cpt"><path d="M36.8,205 L91,205 Q92,178 82.8,158 Z"/></clipPath><g clip-path="url(#cpt)"><rect x="78" y="157" width="2" height="2" fill="#1100ff"/><rect x="80" y="157" width="2" height="2" fill="#0800ff"/><rect x="82" y="157" width="2" height="2" fill="#0000ff"/><rect x="84" y="157" width="2" height="2" fill="#000aff"/><rect x="86" y="157" width="2" height="2" fill="#0013ff"/><rect x="76" y="159" width="2" height="2" fill="#1e00ff"/><rect x="78" y="159" width="2" height="2" fill="#1400ff"/><rect x="80" y="159" width="2" height="2" fill="#0a00ff"/><rect x="82" y="159" width="2" height="2" fill="#000aff"/><rect x="84" y="159" width="2" height="2" fill="#0014ff"/><rect x="86" y="159" width="2" height="2" fill="#001eff"/><rect x="74" y="161" width="2" height="2" fill="#2b00ff"/><rect x="76" y="161" width="2" height="2" fill="#2100ff"/><rect x="78" y="161" width="2" height="2" fill="#1700ff"/><rect x="80" y="161" width="2" height="2" fill="#0c0aff"/><rect x="82" y="161" width="2" height="2" fill="#0215ff"/><rect x="84" y="161" width="2" height="2" fill="#001fff"/><rect x="86" y="161" width="2" height="2" fill="#0029ff"/><rect x="72" y="163" width="2" height="2" fill="#3a00ff"/><rect x="74" y="163" width="2" height="2" fill="#2f00ff"/><rect x="76" y="163" width="2" height="2" fill="#2400ff"/><rect x="78" y="163" width="2" height="2" fill="#1a0bff"/><rect x="80" y="163" width="2" height="2" fill="#0f15ff"/><rect x="82" y="163" width="2" height="2" fill="#0420ff"/><rect x="84" y="163" width="2" height="2" fill="#002bff"/><rect x="86" y="163" width="2" height="2" fill="#0036ff"/><rect x="70" y="165" width="2" height="2" fill="#4a00ff"/><rect x="72" y="165" width="2" height="2" fill="#3f00ff"/><rect x="74" y="165" width="2" height="2" fill="#3400ff"/><rect x="76" y="165" width="2" height="2" fill="#280bff"/><rect x="78" y="165" width="2" height="2" fill="#1d16ff"/><rect x="80" y="165" width="2" height="2" fill="#1222ff"/><rect x="82" y="165" width="2" height="2" fill="#062dff"/><rect x="84" y="165" width="2" height="2" fill="#0038ff"/><rect x="86" y="165" width="2" height="2" fill="#0044ff"/><rect x="68" y="167" width="2" height="2" fill="#5c00ff"/><rect x="70" y="167" width="2" height="2" fill="#5000ff"/><rect x="72" y="167" width="2" height="2" fill="#4400ff"/><rect x="74" y="167" width="2" height="2" fill="#390bff"/><rect x="76" y="167" width="2" height="2" fill="#2d17ff"/><rect x="78" y="167" width="2" height="2" fill="#2123ff"/><rect x="80" y="167" width="2" height="2" fill="#152fff"/><rect x="82" y="167" width="2" height="2" fill="#093bff"/><rect x="84" y="167" width="2" height="2" fill="#0047ff"/><rect x="86" y="167" width="2" height="2" fill="#0053ff"/><rect x="66" y="169" width="2" height="2" fill="#7100ff"/><rect x="68" y="169" width="2" height="2" fill="#6400ff"/><rect x="70" y="169" width="2" height="2" fill="#5700ff"/><rect x="72" y="169" width="2" height="2" fill="#4b0cff"/><rect x="74" y="169" width="2" height="2" fill="#3e18ff"/><rect x="76" y="169" width="2" height="2" fill="#3125ff"/><rect x="78" y="169" width="2" height="2" fill="#2532ff"/><rect x="80" y="169" width="2" height="2" fill="#183eff"/><rect x="82" y="169" width="2" height="2" fill="#0b4bff"/><rect x="84" y="169" width="2" height="2" fill="#0058ff"/><rect x="86" y="169" width="2" height="2" fill="#0064ff"/><rect x="88" y="169" width="2" height="2" fill="#0071ff"/><rect x="64" y="171" width="2" height="2" fill="#8700ff"/><rect x="66" y="171" width="2" height="2" fill="#7a00ff"/><rect x="68" y="171" width="2" height="2" fill="#6c00ff"/><rect x="70" y="171" width="2" height="2" fill="#5f0cff"/><rect x="72" y="171" width="2" height="2" fill="#521aff"/><rect x="74" y="171" width="2" height="2" fill="#4427ff"/><rect x="76" y="171" width="2" height="2" fill="#3734ff"/><rect x="78" y="171" width="2" height="2" fill="#2942ff"/><rect x="80" y="171" width="2" height="2" fill="#1c4fff"/><rect x="82" y="171" width="2" height="2" fill="#0f5dff"/><rect x="84" y="171" width="2" height="2" fill="#016aff"/><rect x="86" y="171" width="2" height="2" fill="#0077ff"/><rect x="88" y="171" width="2" height="2" fill="#0085ff"/><rect x="62" y="173" width="2" height="2" fill="#a100ff"/><rect x="64" y="173" width="2" height="2" fill="#9200ff"/><rect x="66" y="173" width="2" height="2" fill="#8400ff"/><rect x="68" y="173" width="2" height="2" fill="#760dff"/><rect x="70" y="173" width="2" height="2" fill="#681bff"/><rect x="72" y="173" width="2" height="2" fill="#5929ff"/><rect x="74" y="173" width="2" height="2" fill="#4b38ff"/><rect x="76" y="173" width="2" height="2" fill="#3d46ff"/><rect x="78" y="173" width="2" height="2" fill="#2f54ff"/><rect x="80" y="173" width="2" height="2" fill="#2062ff"/><rect x="82" y="173" width="2" height="2" fill="#1271ff"/><rect x="84" y="173" width="2" height="2" fill="#047fff"/><rect x="86" y="173" width="2" height="2" fill="#008dff"/><rect x="88" y="173" width="2" height="2" fill="#009bff"/><rect x="60" y="175" width="2" height="2" fill="#be00ff"/><rect x="62" y="175" width="2" height="2" fill="#ae00ff"/><rect x="64" y="175" width="2" height="2" fill="#9f00ff"/><rect x="66" y="175" width="2" height="2" fill="#900dff"/><rect x="68" y="175" width="2" height="2" fill="#811dff"/><rect x="70" y="175" width="2" height="2" fill="#712cff"/><rect x="72" y="175" width="2" height="2" fill="#623bff"/><rect x="74" y="175" width="2" height="2" fill="#534aff"/><rect x="76" y="175" width="2" height="2" fill="#445aff"/><rect x="78" y="175" width="2" height="2" fill="#3469ff"/><rect x="80" y="175" width="2" height="2" fill="#2578ff"/><rect x="82" y="175" width="2" height="2" fill="#1687ff"/><rect x="84" y="175" width="2" height="2" fill="#0797ff"/><rect x="86" y="175" width="2" height="2" fill="#00a6ff"/><rect x="88" y="175" width="2" height="2" fill="#00b5ff"/><rect x="58" y="177" width="2" height="2" fill="#df00ff"/><rect x="60" y="177" width="2" height="2" fill="#cf00ff"/><rect x="62" y="177" width="2" height="2" fill="#be00ff"/><rect x="64" y="177" width="2" height="2" fill="#ae0eff"/><rect x="66" y="177" width="2" height="2" fill="#9d1eff"/><rect x="68" y="177" width="2" height="2" fill="#8d2fff"/><rect x="70" y="177" width="2" height="2" fill="#7d3fff"/><rect x="72" y="177" width="2" height="2" fill="#6c50ff"/><rect x="74" y="177" width="2" height="2" fill="#5c60ff"/><rect x="76" y="177" width="2" height="2" fill="#4c70ff"/><rect x="78" y="177" width="2" height="2" fill="#3b81ff"/><rect x="80" y="177" width="2" height="2" fill="#2b91ff"/><rect x="82" y="177" width="2" height="2" fill="#1aa1ff"/><rect x="84" y="177" width="2" height="2" fill="#0ab2ff"/><rect x="86" y="177" width="2" height="2" fill="#00c2ff"/><rect x="88" y="177" width="2" height="2" fill="#00d3ff"/><rect x="56" y="179" width="2" height="2" fill="#ff00f8"/><rect x="58" y="179" width="2" height="2" fill="#f400ff"/><rect x="60" y="179" width="2" height="2" fill="#e200ff"/><rect x="62" y="179" width="2" height="2" fill="#d10fff"/><rect x="64" y="179" width="2" height="2" fill="#bf21ff"/><rect x="66" y="179" width="2" height="2" fill="#ad32ff"/><rect x="68" y="179" width="2" height="2" fill="#9c44ff"/><rect x="70" y="179" width="2" height="2" fill="#8a56ff"/><rect x="72" y="179" width="2" height="2" fill="#7867ff"/><rect x="74" y="179" width="2" height="2" fill="#6679ff"/><rect x="76" y="179" width="2" height="2" fill="#558bff"/><rect x="78" y="179" width="2" height="2" fill="#439cff"/><rect x="80" y="179" width="2" height="2" fill="#31aeff"/><rect x="82" y="179" width="2" height="2" fill="#20c0ff"/><rect x="84" y="179" width="2" height="2" fill="#0ed1ff"/><rect x="86" y="179" width="2" height="2" fill="#00e3ff"/><rect x="88" y="179" width="2" height="2" fill="#00f5ff"/><rect x="54" y="181" width="2" height="2" fill="#ff00d3"/><rect x="56" y="181" width="2" height="2" fill="#ff00e1"/><rect x="58" y="181" width="2" height="2" fill="#ff00f1"/><rect x="60" y="181" width="2" height="2" fill="#f910ff"/><rect x="62" y="181" width="2" height="2" fill="#e623ff"/><rect x="64" y="181" width="2" height="2" fill="#d336ff"/><rect x="66" y="181" width="2" height="2" fill="#c049ff"/><rect x="68" y="181" width="2" height="2" fill="#ac5dff"/><rect x="70" y="181" width="2" height="2" fill="#9970ff"/><rect x="72" y="181" width="2" height="2" fill="#8683ff"/><rect x="74" y="181" width="2" height="2" fill="#7396ff"/><rect x="76" y="181" width="2" height="2" fill="#60aaff"/><rect x="78" y="181" width="2" height="2" fill="#4cbdff"/><rect x="80" y="181" width="2" height="2" fill="#39d0ff"/><rect x="82" y="181" width="2" height="2" fill="#26e3ff"/><rect x="84" y="181" width="2" height="2" fill="#13f6ff"/><rect x="86" y="181" width="2" height="2" fill="#00fff4"/><rect x="88" y="181" width="2" height="2" fill="#00ffe3"/><rect x="90" y="181" width="2" height="2" fill="#00ffd5"/><rect x="54" y="183" width="2" height="2" fill="#ff00be"/><rect x="56" y="183" width="2" height="2" fill="#ff00cb"/><rect x="58" y="183" width="2" height="2" fill="#ff0ed9"/><rect x="60" y="183" width="2" height="2" fill="#ff23ea"/><rect x="62" y="183" width="2" height="2" fill="#fe3bfd"/><rect x="64" y="183" width="2" height="2" fill="#eb50ff"/><rect x="66" y="183" width="2" height="2" fill="#d665ff"/><rect x="68" y="183" width="2" height="2" fill="#c17aff"/><rect x="70" y="183" width="2" height="2" fill="#ac8fff"/><rect x="72" y="183" width="2" height="2" fill="#96a4ff"/><rect x="74" y="183" width="2" height="2" fill="#81b9ff"/><rect x="76" y="183" width="2" height="2" fill="#6cceff"/><rect x="78" y="183" width="2" height="2" fill="#57e3ff"/><rect x="80" y="183" width="2" height="2" fill="#42f8ff"/><rect x="82" y="183" width="2" height="2" fill="#2bfff0"/><rect x="84" y="183" width="2" height="2" fill="#15ffdf"/><rect x="86" y="183" width="2" height="2" fill="#02ffd0"/><rect x="88" y="183" width="2" height="2" fill="#00ffc3"/><rect x="90" y="183" width="2" height="2" fill="#00ffb7"/><rect x="52" y="185" width="2" height="2" fill="#ff00a1"/><rect x="54" y="185" width="2" height="2" fill="#ff00aa"/><rect x="56" y="185" width="2" height="2" fill="#ff0db6"/><rect x="58" y="185" width="2" height="2" fill="#ff20c2"/><rect x="60" y="185" width="2" height="2" fill="#ff35d1"/><rect x="62" y="185" width="2" height="2" fill="#ff4ee2"/><rect x="64" y="185" width="2" height="2" fill="#fe6bf6"/><rect x="66" y="185" width="2" height="2" fill="#f087ff"/><rect x="68" y="185" width="2" height="2" fill="#d99eff"/><rect x="70" y="185" width="2" height="2" fill="#c2b5ff"/><rect x="72" y="185" width="2" height="2" fill="#aaccff"/><rect x="74" y="185" width="2" height="2" fill="#93e4ff"/><rect x="76" y="185" width="2" height="2" fill="#7cfbff"/><rect x="78" y="185" width="2" height="2" fill="#5dffec"/><rect x="80" y="185" width="2" height="2" fill="#42ffda"/><rect x="82" y="185" width="2" height="2" fill="#2bffca"/><rect x="84" y="185" width="2" height="2" fill="#17ffbc"/><rect x="86" y="185" width="2" height="2" fill="#05ffb0"/><rect x="88" y="185" width="2" height="2" fill="#00ffa6"/><rect x="90" y="185" width="2" height="2" fill="#00ff9c"/><rect x="50" y="187" width="2" height="2" fill="#fe0086"/><rect x="52" y="187" width="2" height="2" fill="#fe008e"/><rect x="54" y="187" width="2" height="2" fill="#ff0c97"/><rect x="56" y="187" width="2" height="2" fill="#ff1da1"/><rect x="58" y="187" width="2" height="2" fill="#ff30ac"/><rect x="60" y="187" width="2" height="2" fill="#ff47b8"/><rect x="62" y="187" width="2" height="2" fill="#ff61c7"/><rect x="64" y="187" width="2" height="2" fill="#ff7fd9"/><rect x="66" y="187" width="2" height="2" fill="#fea4ed"/><rect x="68" y="187" width="2" height="2" fill="#f7caff"/><rect x="70" y="187" width="2" height="2" fill="#dde4ff"/><rect x="72" y="187" width="2" height="2" fill="#c3feff"/><rect x="74" y="187" width="2" height="2" fill="#9affe7"/><rect x="76" y="187" width="2" height="2" fill="#77ffd4"/><rect x="78" y="187" width="2" height="2" fill="#5affc3"/><rect x="80" y="187" width="2" height="2" fill="#41ffb5"/><rect x="82" y="187" width="2" height="2" fill="#2bffa9"/><rect x="84" y="187" width="2" height="2" fill="#18ff9e"/><rect x="86" y="187" width="2" height="2" fill="#07ff94"/><rect x="88" y="187" width="2" height="2" fill="#00ff8c"/><rect x="90" y="187" width="2" height="2" fill="#00ff85"/><rect x="48" y="189" width="2" height="2" fill="#ff0070"/><rect x="50" y="189" width="2" height="2" fill="#ff0075"/><rect x="52" y="189" width="2" height="2" fill="#ff0a7c"/><rect x="54" y="189" width="2" height="2" fill="#ff1a84"/><rect x="56" y="189" width="2" height="2" fill="#ff2c8c"/><rect x="58" y="189" width="2" height="2" fill="#ff4196"/><rect x="60" y="189" width="2" height="2" fill="#ff58a1"/><rect x="62" y="189" width="2" height="2" fill="#ff73ad"/><rect x="64" y="189" width="2" height="2" fill="#ff93bc"/><rect x="66" y="189" width="2" height="2" fill="#ffb9ce"/><rect x="68" y="189" width="2" height="2" fill="#fee6e3"/><rect x="70" y="189" width="2" height="2" fill="#e3ffe1"/><rect x="72" y="189" width="2" height="2" fill="#b6ffcc"/><rect x="74" y="189" width="2" height="2" fill="#91ffbb"/><rect x="76" y="189" width="2" height="2" fill="#71ffac"/><rect x="78" y="189" width="2" height="2" fill="#56fea0"/><rect x="80" y="189" width="2" height="2" fill="#3fff95"/><rect x="82" y="189" width="2" height="2" fill="#2bff8b"/><rect x="84" y="189" width="2" height="2" fill="#19ff83"/><rect x="86" y="189" width="2" height="2" fill="#09ff7c"/><rect x="88" y="189" width="2" height="2" fill="#00ff75"/><rect x="90" y="189" width="2" height="2" fill="#00ff6f"/><rect x="46" y="191" width="2" height="2" fill="#ff005b"/><rect x="48" y="191" width="2" height="2" fill="#ff0060"/><rect x="50" y="191" width="2" height="2" fill="#fe0965"/><rect x="52" y="191" width="2" height="2" fill="#fe186a"/><rect x="54" y="191" width="2" height="2" fill="#fe2971"/><rect x="56" y="191" width="2" height="2" fill="#fe3c78"/><rect x="58" y="191" width="2" height="2" fill="#fe5180"/><rect x="60" y="191" width="2" height="2" fill="#ff6989"/><rect x="62" y="191" width="2" height="2" fill="#ff8594"/><rect x="64" y="191" width="2" height="2" fill="#ffa6a1"/><rect x="66" y="191" width="2" height="2" fill="#ffcdaf"/><rect x="68" y="191" width="2" height="2" fill="#fffbc1"/><rect x="70" y="191" width="2" height="2" fill="#d2ffb1"/><rect x="72" y="191" width="2" height="2" fill="#aaffa2"/><rect x="74" y="191" width="2" height="2" fill="#89ff96"/><rect x="76" y="191" width="2" height="2" fill="#6cff8b"/><rect x="78" y="191" width="2" height="2" fill="#54ff81"/><rect x="80" y="191" width="2" height="2" fill="#3eff79"/><rect x="82" y="191" width="2" height="2" fill="#2bff72"/><rect x="84" y="191" width="2" height="2" fill="#1aff6b"/><rect x="86" y="191" width="2" height="2" fill="#0bff66"/><rect x="88" y="191" width="2" height="2" fill="#00ff60"/><rect x="90" y="191" width="2" height="2" fill="#00ff5c"/><rect x="92" y="191" width="2" height="2" fill="#00ff57"/><rect x="44" y="193" width="2" height="2" fill="#ff0049"/><rect x="46" y="193" width="2" height="2" fill="#ff004c"/><rect x="48" y="193" width="2" height="2" fill="#ff0950"/><rect x="50" y="193" width="2" height="2" fill="#ff1654"/><rect x="52" y="193" width="2" height="2" fill="#ff2659"/><rect x="54" y="193" width="2" height="2" fill="#ff375e"/><rect x="56" y="193" width="2" height="2" fill="#ff4a64"/><rect x="58" y="193" width="2" height="2" fill="#ff606b"/><rect x="60" y="193" width="2" height="2" fill="#ff7973"/><rect x="62" y="193" width="2" height="2" fill="#ff967c"/><rect x="64" y="193" width="2" height="2" fill="#ffb886"/><rect x="66" y="193" width="2" height="2" fill="#ffe092"/><rect x="68" y="193" width="2" height="2" fill="#eeff96"/><rect x="70" y="193" width="2" height="2" fill="#c4ff8a"/><rect x="72" y="193" width="2" height="2" fill="#a1ff7f"/><rect x="74" y="193" width="2" height="2" fill="#82fe75"/><rect x="76" y="193" width="2" height="2" fill="#68fe6d"/><rect x="78" y="193" width="2" height="2" fill="#51fe66"/><rect x="80" y="193" width="2" height="2" fill="#3dff60"/><rect x="82" y="193" width="2" height="2" fill="#2bff5b"/><rect x="84" y="193" width="2" height="2" fill="#1bff56"/><rect x="86" y="193" width="2" height="2" fill="#0dff52"/><rect x="88" y="193" width="2" height="2" fill="#00ff4e"/><rect x="90" y="193" width="2" height="2" fill="#00ff4a"/><rect x="92" y="193" width="2" height="2" fill="#00ff47"/><rect x="42" y="195" width="2" height="2" fill="#ff0039"/><rect x="44" y="195" width="2" height="2" fill="#ff003b"/><rect x="46" y="195" width="2" height="2" fill="#ff083e"/><rect x="48" y="195" width="2" height="2" fill="#ff1541"/><rect x="50" y="195" width="2" height="2" fill="#ff2344"/><rect x="52" y="195" width="2" height="2" fill="#ff3348"/><rect x="54" y="195" width="2" height="2" fill="#fe454c"/><rect x="56" y="195" width="2" height="2" fill="#fe5951"/><rect x="58" y="195" width="2" height="2" fill="#fe7056"/><rect x="60" y="195" width="2" height="2" fill="#fe8a5d"/><rect x="62" y="195" width="2" height="2" fill="#ffa764"/><rect x="64" y="195" width="2" height="2" fill="#ffca6c"/><rect x="66" y="195" width="2" height="2" fill="#fff375"/><rect x="68" y="195" width="2" height="2" fill="#deff71"/><rect x="70" y="195" width="2" height="2" fill="#b9ff68"/><rect x="72" y="195" width="2" height="2" fill="#98ff60"/><rect x="74" y="195" width="2" height="2" fill="#7dff5a"/><rect x="76" y="195" width="2" height="2" fill="#64ff54"/><rect x="78" y="195" width="2" height="2" fill="#4fff4f"/><rect x="80" y="195" width="2" height="2" fill="#3cff4a"/><rect x="82" y="195" width="2" height="2" fill="#2bff46"/><rect x="84" y="195" width="2" height="2" fill="#1cff43"/><rect x="86" y="195" width="2" height="2" fill="#0eff3f"/><rect x="88" y="195" width="2" height="2" fill="#02ff3c"/><rect x="90" y="195" width="2" height="2" fill="#00ff3a"/><rect x="92" y="195" width="2" height="2" fill="#00ff37"/><rect x="40" y="197" width="2" height="2" fill="#ff002a"/><rect x="42" y="197" width="2" height="2" fill="#ff002c"/><rect x="44" y="197" width="2" height="2" fill="#ff072d"/><rect x="46" y="197" width="2" height="2" fill="#ff1330"/><rect x="48" y="197" width="2" height="2" fill="#ff2132"/><rect x="50" y="197" width="2" height="2" fill="#ff3035"/><rect x="52" y="197" width="2" height="2" fill="#ff4037"/><rect x="54" y="197" width="2" height="2" fill="#ff533b"/><rect x="56" y="197" width="2" height="2" fill="#ff673e"/><rect x="58" y="197" width="2" height="2" fill="#ff7f42"/><rect x="60" y="197" width="2" height="2" fill="#ff9947"/><rect x="62" y="197" width="2" height="2" fill="#ffb84c"/><rect x="64" y="197" width="2" height="2" fill="#ffdb53"/><rect x="66" y="197" width="2" height="2" fill="#f8ff58"/><rect x="68" y="197" width="2" height="2" fill="#d1ff51"/><rect x="70" y="197" width="2" height="2" fill="#afff4b"/><rect x="72" y="197" width="2" height="2" fill="#91fe46"/><rect x="74" y="197" width="2" height="2" fill="#78fe41"/><rect x="76" y="197" width="2" height="2" fill="#61fe3d"/><rect x="78" y="197" width="2" height="2" fill="#4dfe3a"/><rect x="80" y="197" width="2" height="2" fill="#3bff37"/><rect x="82" y="197" width="2" height="2" fill="#2bff34"/><rect x="84" y="197" width="2" height="2" fill="#1dff31"/><rect x="86" y="197" width="2" height="2" fill="#10ff2f"/><rect x="88" y="197" width="2" height="2" fill="#04ff2d"/><rect x="90" y="197" width="2" height="2" fill="#00ff2b"/><rect x="92" y="197" width="2" height="2" fill="#00ff29"/><rect x="38" y="199" width="2" height="2" fill="#ff001c"/><rect x="40" y="199" width="2" height="2" fill="#ff001d"/><rect x="42" y="199" width="2" height="2" fill="#ff071f"/><rect x="44" y="199" width="2" height="2" fill="#ff1220"/><rect x="46" y="199" width="2" height="2" fill="#ff1f22"/><rect x="48" y="199" width="2" height="2" fill="#ff2d23"/><rect x="50" y="199" width="2" height="2" fill="#ff3c25"/><rect x="52" y="199" width="2" height="2" fill="#ff4d27"/><rect x="54" y="199" width="2" height="2" fill="#ff6029"/><rect x="56" y="199" width="2" height="2" fill="#ff752c"/><rect x="58" y="199" width="2" height="2" fill="#fe8d2f"/><rect x="60" y="199" width="2" height="2" fill="#fea932"/><rect x="62" y="199" width="2" height="2" fill="#ffc836"/><rect x="64" y="199" width="2" height="2" fill="#ffec3a"/><rect x="66" y="199" width="2" height="2" fill="#e9ff3a"/><rect x="68" y="199" width="2" height="2" fill="#c5ff35"/><rect x="70" y="199" width="2" height="2" fill="#a6ff32"/><rect x="72" y="199" width="2" height="2" fill="#8bff2e"/><rect x="74" y="199" width="2" height="2" fill="#73ff2c"/><rect x="76" y="199" width="2" height="2" fill="#5eff29"/><rect x="78" y="199" width="2" height="2" fill="#4cff27"/><rect x="80" y="199" width="2" height="2" fill="#3bff25"/><rect x="82" y="199" width="2" height="2" fill="#2cff23"/><rect x="84" y="199" width="2" height="2" fill="#1eff21"/><rect x="86" y="199" width="2" height="2" fill="#11ff20"/><rect x="88" y="199" width="2" height="2" fill="#06ff1f"/><rect x="90" y="199" width="2" height="2" fill="#00ff1d"/><rect x="92" y="199" width="2" height="2" fill="#00ff1c"/><rect x="36" y="201" width="2" height="2" fill="#ff0010"/><rect x="38" y="201" width="2" height="2" fill="#ff0011"/><rect x="40" y="201" width="2" height="2" fill="#fe0611"/><rect x="42" y="201" width="2" height="2" fill="#ff1112"/><rect x="44" y="201" width="2" height="2" fill="#ff1d13"/><rect x="46" y="201" width="2" height="2" fill="#ff2a14"/><rect x="48" y="201" width="2" height="2" fill="#ff3815"/><rect x="50" y="201" width="2" height="2" fill="#ff4816"/><rect x="52" y="201" width="2" height="2" fill="#ff5a17"/><rect x="54" y="201" width="2" height="2" fill="#ff6d18"/><rect x="56" y="201" width="2" height="2" fill="#ff831a"/><rect x="58" y="201" width="2" height="2" fill="#ff9c1c"/><rect x="60" y="201" width="2" height="2" fill="#ffb71d"/><rect x="62" y="201" width="2" height="2" fill="#ffd720"/><rect x="64" y="201" width="2" height="2" fill="#fffc22"/><rect x="66" y="201" width="2" height="2" fill="#dbff20"/><rect x="68" y="201" width="2" height="2" fill="#bbff1e"/><rect x="70" y="201" width="2" height="2" fill="#9eff1c"/><rect x="72" y="201" width="2" height="2" fill="#85ff1a"/><rect x="74" y="201" width="2" height="2" fill="#6ffe19"/><rect x="76" y="201" width="2" height="2" fill="#5cfe17"/><rect x="78" y="201" width="2" height="2" fill="#4afe16"/><rect x="80" y="201" width="2" height="2" fill="#3afe15"/><rect x="82" y="201" width="2" height="2" fill="#2cff14"/><rect x="84" y="201" width="2" height="2" fill="#1eff13"/><rect x="86" y="201" width="2" height="2" fill="#12ff12"/><rect x="88" y="201" width="2" height="2" fill="#07ff11"/><rect x="90" y="201" width="2" height="2" fill="#00ff11"/><rect x="92" y="201" width="2" height="2" fill="#00ff10"/><rect x="36" y="203" width="2" height="2" fill="#ff0005"/><rect x="38" y="203" width="2" height="2" fill="#ff0605"/><rect x="40" y="203" width="2" height="2" fill="#ff1005"/><rect x="42" y="203" width="2" height="2" fill="#ff1b06"/><rect x="44" y="203" width="2" height="2" fill="#ff2806"/><rect x="46" y="203" width="2" height="2" fill="#ff3506"/><rect x="48" y="203" width="2" height="2" fill="#ff4407"/><rect x="50" y="203" width="2" height="2" fill="#ff5407"/><rect x="52" y="203" width="2" height="2" fill="#ff6607"/><rect x="54" y="203" width="2" height="2" fill="#ff7a08"/><rect x="56" y="203" width="2" height="2" fill="#ff9008"/><rect x="58" y="203" width="2" height="2" fill="#ffaa09"/><rect x="60" y="203" width="2" height="2" fill="#ffc609"/><rect x="62" y="203" width="2" height="2" fill="#fee70a"/><rect x="64" y="203" width="2" height="2" fill="#f1ff0a"/><rect x="66" y="203" width="2" height="2" fill="#cfff0a"/><rect x="68" y="203" width="2" height="2" fill="#b2ff09"/><rect x="70" y="203" width="2" height="2" fill="#98ff08"/><rect x="72" y="203" width="2" height="2" fill="#81ff08"/><rect x="74" y="203" width="2" height="2" fill="#6cff07"/><rect x="76" y="203" width="2" height="2" fill="#59ff07"/><rect x="78" y="203" width="2" height="2" fill="#49ff07"/><rect x="80" y="203" width="2" height="2" fill="#39ff06"/><rect x="82" y="203" width="2" height="2" fill="#2cff06"/><rect x="84" y="203" width="2" height="2" fill="#1fff06"/><rect x="86" y="203" width="2" height="2" fill="#13ff05"/><rect x="88" y="203" width="2" height="2" fill="#09ff05"/><rect x="90" y="203" width="2" height="2" fill="#00ff05"/><rect x="92" y="203" width="2" height="2" fill="#00fe05"/><rect x="36" y="205" width="2" height="2" fill="#ff0500"/><rect x="38" y="205" width="2" height="2" fill="#ff0f00"/><rect x="40" y="205" width="2" height="2" fill="#ff1a00"/><rect x="42" y="205" width="2" height="2" fill="#ff2500"/><rect x="44" y="205" width="2" height="2" fill="#fe3200"/><rect x="46" y="205" width="2" height="2" fill="#fe4000"/><rect x="48" y="205" width="2" height="2" fill="#ff4f00"/><rect x="50" y="205" width="2" height="2" fill="#ff6000"/><rect x="52" y="205" width="2" height="2" fill="#ff7200"/><rect x="54" y="205" width="2" height="2" fill="#ff8700"/><rect x="56" y="205" width="2" height="2" fill="#ff9e00"/><rect x="58" y="205" width="2" height="2" fill="#ffb700"/><rect x="60" y="205" width="2" height="2" fill="#ffd400"/><rect x="62" y="205" width="2" height="2" fill="#fff500"/><rect x="64" y="205" width="2" height="2" fill="#e4ff00"/><rect x="66" y="205" width="2" height="2" fill="#c5ff00"/><rect x="68" y="205" width="2" height="2" fill="#aaff00"/><rect x="70" y="205" width="2" height="2" fill="#92ff00"/><rect x="72" y="205" width="2" height="2" fill="#7cff00"/><rect x="74" y="205" width="2" height="2" fill="#69ff00"/><rect x="76" y="205" width="2" height="2" fill="#57fe00"/><rect x="78" y="205" width="2" height="2" fill="#47fe00"/><rect x="80" y="205" width="2" height="2" fill="#39fe00"/><rect x="82" y="205" width="2" height="2" fill="#2cff00"/><rect x="84" y="205" width="2" height="2" fill="#20ff00"/><rect x="86" y="205" width="2" height="2" fill="#14ff00"/><rect x="88" y="205" width="2" height="2" fill="#0aff00"/><rect x="90" y="205" width="2" height="2" fill="#00ff00"/><rect x="92" y="205" width="2" height="2" fill="#00ff00"/></g>
<g font-family="Liberation Sans, sans-serif"><text transform="translate(55.74,153.80) scale(1.1578,1)" font-size="28.38" fill="#000">111</text><text transform="translate(4.86,230.50) scale(1.0950,1)" font-size="28.38" fill="#000">001</text><text transform="translate(68.22,230.50) scale(1.0719,1)" font-size="28.38" fill="#000">101</text></g>
<g font-family="Liberation Sans, sans-serif"><text stroke="#fff" stroke-width="6" stroke-linejoin="round" paint-order="stroke" transform="translate(8.61,35.60) scale(0.8307,1)" font-size="39.6" font-weight="bold" fill="#000">a</text><text stroke="#fff" stroke-width="6" stroke-linejoin="round" paint-order="stroke" transform="translate(357.96,35.60) scale(0.9101,1)" font-size="39.6" font-weight="bold" fill="#000">b</text><text stroke="#fff" stroke-width="6" stroke-linejoin="round" paint-order="stroke" transform="translate(189.13,32.60) scale(0.8942,1)" font-size="33" font-weight="bold" font-style="italic" fill="#000">T</text><text stroke="#fff" stroke-width="6" stroke-linejoin="round" paint-order="stroke" transform="translate(208.46,43.60) scale(0.7751,1)" font-size="23.759999999999998" font-weight="bold" fill="#000">d</text><text stroke="#fff" stroke-width="6" stroke-linejoin="round" paint-order="stroke" transform="translate(226.32,32.60) scale(1.1941,1)" font-size="33" font-weight="bold" fill="#000">=</text><text stroke="#fff" stroke-width="6" stroke-linejoin="round" paint-order="stroke" transform="translate(256.26,32.60) scale(0.8508,1)" font-size="33" font-weight="bold" fill="#000">50</text><text stroke="#fff" stroke-width="6" stroke-linejoin="round" paint-order="stroke" transform="translate(292.80,32.60) scale(1.1457,1)" font-size="33" font-weight="bold" fill="#000">°C</text><text stroke="#fff" stroke-width="6" stroke-linejoin="round" paint-order="stroke" transform="translate(515.43,33.40) scale(0.9389,1)" font-size="33" font-weight="bold" font-style="italic" fill="#000">T</text><text stroke="#fff" stroke-width="6" stroke-linejoin="round" paint-order="stroke" transform="translate(534.24,44.40) scale(0.8001,1)" font-size="23.759999999999998" font-weight="bold" fill="#000">d</text><text stroke="#fff" stroke-width="6" stroke-linejoin="round" paint-order="stroke" transform="translate(554.01,33.40) scale(1.0501,1)" font-size="33" font-weight="bold" fill="#000">=</text><text stroke="#fff" stroke-width="6" stroke-linejoin="round" paint-order="stroke" transform="translate(582.06,33.40) scale(0.8285,1)" font-size="33" font-weight="bold" fill="#000">125</text><text stroke="#fff" stroke-width="6" stroke-linejoin="round" paint-order="stroke" transform="translate(635.96,33.40) scale(1.1688,1)" font-size="33" font-weight="bold" fill="#000">°C</text><rect x="276.3" y="218.6" width="56.89999999999998" height="12.6" fill="#fff" rx="1.5"/><rect x="279.8" y="222.1" width="49.89999999999998" height="6.1" fill="#000"/><text stroke="#fff" stroke-width="6" stroke-linejoin="round" paint-order="stroke" transform="translate(269.11,207.50) scale(0.8511,1)" font-size="33" font-weight="bold" fill="#000">1</text><text stroke="#fff" stroke-width="6" stroke-linejoin="round" paint-order="stroke" transform="translate(291.61,207.50) scale(0.9724,1)" font-size="33" font-weight="bold" fill="#000">µm</text><rect x="603.9" y="218.6" width="56.10000000000002" height="12.6" fill="#fff" rx="1.5"/><rect x="607.4" y="222.1" width="49.10000000000002" height="6.1" fill="#000"/><text stroke="#fff" stroke-width="6" stroke-linejoin="round" paint-order="stroke" transform="translate(596.40,207.50) scale(0.8575,1)" font-size="33" font-weight="bold" fill="#000">1</text><text stroke="#fff" stroke-width="6" stroke-linejoin="round" paint-order="stroke" transform="translate(619.04,207.50) scale(0.9588,1)" font-size="33" font-weight="bold" fill="#000">µm</text></g>
<g font-family="Liberation Sans, sans-serif">
<rect x="160.4" y="256" width="523.1" height="352" fill="none" stroke="#000" stroke-width="3"/>
<line x1="160.4" y1="581.5" x2="167.4" y2="581.5" stroke="#000" stroke-width="2.6"/>
<line x1="683.5" y1="581.5" x2="676.5" y2="581.5" stroke="#000" stroke-width="2.6"/>
<line x1="160.4" y1="566.0" x2="167.4" y2="566.0" stroke="#000" stroke-width="2.6"/>
<line x1="683.5" y1="566.0" x2="676.5" y2="566.0" stroke="#000" stroke-width="2.6"/>
<line x1="160.4" y1="555.0" x2="167.4" y2="555.0" stroke="#000" stroke-width="2.6"/>
<line x1="683.5" y1="555.0" x2="676.5" y2="555.0" stroke="#000" stroke-width="2.6"/>
<line x1="160.4" y1="546.5" x2="167.4" y2="546.5" stroke="#000" stroke-width="2.6"/>
<line x1="683.5" y1="546.5" x2="676.5" y2="546.5" stroke="#000" stroke-width="2.6"/>
<line x1="160.4" y1="539.5" x2="167.4" y2="539.5" stroke="#000" stroke-width="2.6"/>
<line x1="683.5" y1="539.5" x2="676.5" y2="539.5" stroke="#000" stroke-width="2.6"/>
<line x1="160.4" y1="533.6" x2="167.4" y2="533.6" stroke="#000" stroke-width="2.6"/>
<line x1="683.5" y1="533.6" x2="676.5" y2="533.6" stroke="#000" stroke-width="2.6"/>
<line x1="160.4" y1="528.5" x2="167.4" y2="528.5" stroke="#000" stroke-width="2.6"/>
<line x1="683.5" y1="528.5" x2="676.5" y2="528.5" stroke="#000" stroke-width="2.6"/>
<line x1="160.4" y1="524.0" x2="167.4" y2="524.0" stroke="#000" stroke-width="2.6"/>
<line x1="683.5" y1="524.0" x2="676.5" y2="524.0" stroke="#000" stroke-width="2.6"/>
<line x1="160.4" y1="520" x2="174.9" y2="520" stroke="#000" stroke-width="3"/>
<line x1="683.5" y1="520" x2="669.0" y2="520" stroke="#000" stroke-width="3"/>
<line x1="160.4" y1="493.5" x2="167.4" y2="493.5" stroke="#000" stroke-width="2.6"/>
<line x1="683.5" y1="493.5" x2="676.5" y2="493.5" stroke="#000" stroke-width="2.6"/>
<line x1="160.4" y1="478.0" x2="167.4" y2="478.0" stroke="#000" stroke-width="2.6"/>
<line x1="683.5" y1="478.0" x2="676.5" y2="478.0" stroke="#000" stroke-width="2.6"/>
<line x1="160.4" y1="467.0" x2="167.4" y2="467.0" stroke="#000" stroke-width="2.6"/>
<line x1="683.5" y1="467.0" x2="676.5" y2="467.0" stroke="#000" stroke-width="2.6"/>
<line x1="160.4" y1="458.5" x2="167.4" y2="458.5" stroke="#000" stroke-width="2.6"/>
<line x1="683.5" y1="458.5" x2="676.5" y2="458.5" stroke="#000" stroke-width="2.6"/>
<line x1="160.4" y1="451.5" x2="167.4" y2="451.5" stroke="#000" stroke-width="2.6"/>
<line x1="683.5" y1="451.5" x2="676.5" y2="451.5" stroke="#000" stroke-width="2.6"/>
<line x1="160.4" y1="445.6" x2="167.4" y2="445.6" stroke="#000" stroke-width="2.6"/>
<line x1="683.5" y1="445.6" x2="676.5" y2="445.6" stroke="#000" stroke-width="2.6"/>
<line x1="160.4" y1="440.5" x2="167.4" y2="440.5" stroke="#000" stroke-width="2.6"/>
<line x1="683.5" y1="440.5" x2="676.5" y2="440.5" stroke="#000" stroke-width="2.6"/>
<line x1="160.4" y1="436.0" x2="167.4" y2="436.0" stroke="#000" stroke-width="2.6"/>
<line x1="683.5" y1="436.0" x2="676.5" y2="436.0" stroke="#000" stroke-width="2.6"/>
<line x1="160.4" y1="432" x2="174.9" y2="432" stroke="#000" stroke-width="3"/>
<line x1="683.5" y1="432" x2="669.0" y2="432" stroke="#000" stroke-width="3"/>
<line x1="160.4" y1="405.5" x2="167.4" y2="405.5" stroke="#000" stroke-width="2.6"/>
<line x1="683.5" y1="405.5" x2="676.5" y2="405.5" stroke="#000" stroke-width="2.6"/>
<line x1="160.4" y1="390.0" x2="167.4" y2="390.0" stroke="#000" stroke-width="2.6"/>
<line x1="683.5" y1="390.0" x2="676.5" y2="390.0" stroke="#000" stroke-width="2.6"/>
<line x1="160.4" y1="379.0" x2="167.4" y2="379.0" stroke="#000" stroke-width="2.6"/>
<line x1="683.5" y1="379.0" x2="676.5" y2="379.0" stroke="#000" stroke-width="2.6"/>
<line x1="160.4" y1="370.5" x2="167.4" y2="370.5" stroke="#000" stroke-width="2.6"/>
<line x1="683.5" y1="370.5" x2="676.5" y2="370.5" stroke="#000" stroke-width="2.6"/>
<line x1="160.4" y1="363.5" x2="167.4" y2="363.5" stroke="#000" stroke-width="2.6"/>
<line x1="683.5" y1="363.5" x2="676.5" y2="363.5" stroke="#000" stroke-width="2.6"/>
<line x1="160.4" y1="357.6" x2="167.4" y2="357.6" stroke="#000" stroke-width="2.6"/>
<line x1="683.5" y1="357.6" x2="676.5" y2="357.6" stroke="#000" stroke-width="2.6"/>
<line x1="160.4" y1="352.5" x2="167.4" y2="352.5" stroke="#000" stroke-width="2.6"/>
<line x1="683.5" y1="352.5" x2="676.5" y2="352.5" stroke="#000" stroke-width="2.6"/>
<line x1="160.4" y1="348.0" x2="167.4" y2="348.0" stroke="#000" stroke-width="2.6"/>
<line x1="683.5" y1="348.0" x2="676.5" y2="348.0" stroke="#000" stroke-width="2.6"/>
<line x1="160.4" y1="344" x2="174.9" y2="344" stroke="#000" stroke-width="3"/>
<line x1="683.5" y1="344" x2="669.0" y2="344" stroke="#000" stroke-width="3"/>
<line x1="160.4" y1="317.5" x2="167.4" y2="317.5" stroke="#000" stroke-width="2.6"/>
<line x1="683.5" y1="317.5" x2="676.5" y2="317.5" stroke="#000" stroke-width="2.6"/>
<line x1="160.4" y1="302.0" x2="167.4" y2="302.0" stroke="#000" stroke-width="2.6"/>
<line x1="683.5" y1="302.0" x2="676.5" y2="302.0" stroke="#000" stroke-width="2.6"/>
<line x1="160.4" y1="291.0" x2="167.4" y2="291.0" stroke="#000" stroke-width="2.6"/>
<line x1="683.5" y1="291.0" x2="676.5" y2="291.0" stroke="#000" stroke-width="2.6"/>
<line x1="160.4" y1="282.5" x2="167.4" y2="282.5" stroke="#000" stroke-width="2.6"/>
<line x1="683.5" y1="282.5" x2="676.5" y2="282.5" stroke="#000" stroke-width="2.6"/>
<line x1="160.4" y1="275.5" x2="167.4" y2="275.5" stroke="#000" stroke-width="2.6"/>
<line x1="683.5" y1="275.5" x2="676.5" y2="275.5" stroke="#000" stroke-width="2.6"/>
<line x1="160.4" y1="269.6" x2="167.4" y2="269.6" stroke="#000" stroke-width="2.6"/>
<line x1="683.5" y1="269.6" x2="676.5" y2="269.6" stroke="#000" stroke-width="2.6"/>
<line x1="160.4" y1="264.5" x2="167.4" y2="264.5" stroke="#000" stroke-width="2.6"/>
<line x1="683.5" y1="264.5" x2="676.5" y2="264.5" stroke="#000" stroke-width="2.6"/>
<line x1="160.4" y1="260.0" x2="167.4" y2="260.0" stroke="#000" stroke-width="2.6"/>
<line x1="683.5" y1="260.0" x2="676.5" y2="260.0" stroke="#000" stroke-width="2.6"/>
<line x1="212.7" y1="256" x2="212.7" y2="270.5" stroke="#000" stroke-width="3"/>
<line x1="212.7" y1="608" x2="212.7" y2="593.5" stroke="#000" stroke-width="3"/>
<line x1="317.3" y1="256" x2="317.3" y2="270.5" stroke="#000" stroke-width="3"/>
<line x1="317.3" y1="608" x2="317.3" y2="593.5" stroke="#000" stroke-width="3"/>
<line x1="421.9" y1="256" x2="421.9" y2="270.5" stroke="#000" stroke-width="3"/>
<line x1="421.9" y1="608" x2="421.9" y2="593.5" stroke="#000" stroke-width="3"/>
<line x1="526.5" y1="256" x2="526.5" y2="270.5" stroke="#000" stroke-width="3"/>
<line x1="526.5" y1="608" x2="526.5" y2="593.5" stroke="#000" stroke-width="3"/>
<line x1="631.1" y1="256" x2="631.1" y2="270.5" stroke="#000" stroke-width="3"/>
<line x1="631.1" y1="608" x2="631.1" y2="593.5" stroke="#000" stroke-width="3"/>
<rect x="160.4" y="628" width="523.1" height="350" fill="none" stroke="#000" stroke-width="3"/>
<line x1="160.4" y1="788.5" x2="174.9" y2="788.5" stroke="#000" stroke-width="3"/>
<line x1="683.5" y1="788.5" x2="669.0" y2="788.5" stroke="#000" stroke-width="3"/>
<line x1="160.4" y1="921.0" x2="167.4" y2="921.0" stroke="#000" stroke-width="2.6"/>
<line x1="683.5" y1="921.0" x2="676.5" y2="921.0" stroke="#000" stroke-width="2.6"/>
<line x1="160.4" y1="887.6" x2="167.4" y2="887.6" stroke="#000" stroke-width="2.6"/>
<line x1="683.5" y1="887.6" x2="676.5" y2="887.6" stroke="#000" stroke-width="2.6"/>
<line x1="160.4" y1="863.9" x2="167.4" y2="863.9" stroke="#000" stroke-width="2.6"/>
<line x1="683.5" y1="863.9" x2="676.5" y2="863.9" stroke="#000" stroke-width="2.6"/>
<line x1="160.4" y1="845.5" x2="167.4" y2="845.5" stroke="#000" stroke-width="2.6"/>
<line x1="683.5" y1="845.5" x2="676.5" y2="845.5" stroke="#000" stroke-width="2.6"/>
<line x1="160.4" y1="830.5" x2="167.4" y2="830.5" stroke="#000" stroke-width="2.6"/>
<line x1="683.5" y1="830.5" x2="676.5" y2="830.5" stroke="#000" stroke-width="2.6"/>
<line x1="160.4" y1="817.9" x2="167.4" y2="817.9" stroke="#000" stroke-width="2.6"/>
<line x1="683.5" y1="817.9" x2="676.5" y2="817.9" stroke="#000" stroke-width="2.6"/>
<line x1="160.4" y1="806.9" x2="167.4" y2="806.9" stroke="#000" stroke-width="2.6"/>
<line x1="683.5" y1="806.9" x2="676.5" y2="806.9" stroke="#000" stroke-width="2.6"/>
<line x1="160.4" y1="797.2" x2="167.4" y2="797.2" stroke="#000" stroke-width="2.6"/>
<line x1="683.5" y1="797.2" x2="676.5" y2="797.2" stroke="#000" stroke-width="2.6"/>
<line x1="160.4" y1="731.5" x2="167.4" y2="731.5" stroke="#000" stroke-width="2.6"/>
<line x1="683.5" y1="731.5" x2="676.5" y2="731.5" stroke="#000" stroke-width="2.6"/>
<line x1="160.4" y1="698.1" x2="167.4" y2="698.1" stroke="#000" stroke-width="2.6"/>
<line x1="683.5" y1="698.1" x2="676.5" y2="698.1" stroke="#000" stroke-width="2.6"/>
<line x1="160.4" y1="674.4" x2="167.4" y2="674.4" stroke="#000" stroke-width="2.6"/>
<line x1="683.5" y1="674.4" x2="676.5" y2="674.4" stroke="#000" stroke-width="2.6"/>
<line x1="160.4" y1="656.0" x2="167.4" y2="656.0" stroke="#000" stroke-width="2.6"/>
<line x1="683.5" y1="656.0" x2="676.5" y2="656.0" stroke="#000" stroke-width="2.6"/>
<line x1="160.4" y1="641.0" x2="167.4" y2="641.0" stroke="#000" stroke-width="2.6"/>
<line x1="683.5" y1="641.0" x2="676.5" y2="641.0" stroke="#000" stroke-width="2.6"/>
<line x1="212.7" y1="628" x2="212.7" y2="642.5" stroke="#000" stroke-width="3"/>
<line x1="212.7" y1="978" x2="212.7" y2="963.5" stroke="#000" stroke-width="3"/>
<line x1="317.3" y1="628" x2="317.3" y2="642.5" stroke="#000" stroke-width="3"/>
<line x1="317.3" y1="978" x2="317.3" y2="963.5" stroke="#000" stroke-width="3"/>
<line x1="421.9" y1="628" x2="421.9" y2="642.5" stroke="#000" stroke-width="3"/>
<line x1="421.9" y1="978" x2="421.9" y2="963.5" stroke="#000" stroke-width="3"/>
<line x1="526.5" y1="628" x2="526.5" y2="642.5" stroke="#000" stroke-width="3"/>
<line x1="526.5" y1="978" x2="526.5" y2="963.5" stroke="#000" stroke-width="3"/>
<line x1="631.1" y1="628" x2="631.1" y2="642.5" stroke="#000" stroke-width="3"/>
<line x1="631.1" y1="978" x2="631.1" y2="963.5" stroke="#000" stroke-width="3"/>
<polyline points="213.0,347.3 316.5,371.4 422.5,363.0 638.0,373.4" fill="none" stroke="#000000" stroke-width="4" stroke-linejoin="round"/>
<polyline points="213.0,379.0 319.0,475.8 422.5,512.7 632.0,550.0" fill="none" stroke="#000000" stroke-width="4" stroke-linejoin="round"/>
<rect x="198.0" y="332.3" width="30" height="30" fill="#000000"/>
<rect x="301.5" y="356.4" width="30" height="30" fill="#000000"/>
<rect x="407.5" y="348.0" width="30" height="30" fill="#000000"/>
<rect x="623.0" y="358.4" width="30" height="30" fill="#000000"/>
<rect x="198.0" y="372.5" width="30" height="30" fill="#000000"/>
<rect x="305.8" y="462.6" width="26.4" height="26.4" fill="#fff" stroke="#000000" stroke-width="3.6"/>
<rect x="409.3" y="499.5" width="26.4" height="26.4" fill="#fff" stroke="#000000" stroke-width="3.6"/>
<rect x="618.8" y="536.8" width="26.4" height="26.4" fill="#fff" stroke="#000000" stroke-width="3.6"/>
<polyline points="213.0,347.3 316.5,360.1 422.5,372.5 638.0,373.4" fill="none" stroke="#fd4b4f" stroke-width="4" stroke-linejoin="round"/>
<polyline points="213.0,381.0 319.0,497.0 422.5,549.9 632.0,565.0" fill="none" stroke="#fd4b4f" stroke-width="4" stroke-linejoin="round"/>
<circle cx="213.0" cy="347.3" r="15.0" fill="#fd4b4f"/>
<circle cx="316.5" cy="360.1" r="15.0" fill="#fd4b4f"/>
<circle cx="422.5" cy="372.5" r="15.0" fill="#fd4b4f"/>
<circle cx="638.0" cy="373.4" r="15.0" fill="#fd4b4f"/>
<circle cx="213.0" cy="387.5" r="13.1" fill="#fff" stroke="#fd4b4f" stroke-width="3.8"/>
<circle cx="319.0" cy="497.0" r="13.1" fill="#fff" stroke="#fd4b4f" stroke-width="3.8"/>
<circle cx="422.5" cy="549.9" r="13.1" fill="#fff" stroke="#fd4b4f" stroke-width="3.8"/>
<circle cx="632.0" cy="565.0" r="13.1" fill="#fff" stroke="#fd4b4f" stroke-width="3.8"/>
<polyline points="213.0,347.0 316.5,374.4 422.5,384.4 638.0,377.0" fill="none" stroke="#0a8ee6" stroke-width="4" stroke-linejoin="round"/>
<polyline points="213.0,385.0 319.0,521.5 422.5,570.0 632.0,593.0" fill="none" stroke="#0a8ee6" stroke-width="4" stroke-linejoin="round"/>
<polygon points="213.0,332.8 226.8,356.9 199.2,356.9" fill="#0a8ee6" stroke="#0a8ee6" stroke-width="2.4" stroke-linejoin="round"/>
<polygon points="316.5,354.3 330.3,378.4 302.7,378.4" fill="#0a8ee6" stroke="#0a8ee6" stroke-width="2.4" stroke-linejoin="round"/>
<polygon points="422.5,366.7 436.3,390.8 408.7,390.8" fill="#0a8ee6" stroke="#0a8ee6" stroke-width="2.4" stroke-linejoin="round"/>
<polygon points="638.0,359.7 651.8,383.8 624.2,383.8" fill="#0a8ee6" stroke="#0a8ee6" stroke-width="2.4" stroke-linejoin="round"/>
<polygon points="213.0,373.9 226.3,397.1 199.7,397.1" fill="#fff" stroke="#0a8ee6" stroke-width="3.8" stroke-linejoin="round"/>
<polygon points="319.0,505.8 332.4,529.0 305.6,529.0" fill="#fff" stroke="#0a8ee6" stroke-width="3.8" stroke-linejoin="round"/>
<polygon points="422.5,553.9 435.9,577.1 409.1,577.1" fill="#fff" stroke="#0a8ee6" stroke-width="3.8" stroke-linejoin="round"/>
<polygon points="632.0,577.4 645.4,600.6 618.6,600.6" fill="#fff" stroke="#0a8ee6" stroke-width="3.8" stroke-linejoin="round"/>
<path d="M366.13,360.00 A7.5,35.2 0 1 1 366.00,384.40" fill="none" stroke="#000" stroke-width="3.6"/>
<path d="M360.91,503.40 A7.2,35 0 1 0 360.73,528.40" fill="none" stroke="#000" stroke-width="3.6"/>
<polyline points="212.5,892.0 317.5,891.6 423.0,918.0 631.4,920.0" fill="none" stroke="#000000" stroke-width="4" stroke-linejoin="round"/>
<polyline points="212.5,710.3 317.5,828.0 423.0,812.8 631.4,811.0" fill="none" stroke="#000000" stroke-width="4" stroke-linejoin="round"/>
<rect x="197.5" y="877.0" width="30" height="30" fill="#000000"/>
<rect x="302.5" y="876.6" width="30" height="30" fill="#000000"/>
<rect x="408.0" y="901.5" width="30" height="30" fill="#000000"/>
<rect x="616.4" y="907.0" width="30" height="30" fill="#000000"/>
<rect x="197.5" y="695.3" width="30" height="30" fill="#000000"/>
<rect x="304.3" y="814.8" width="26.4" height="26.4" fill="#fff" stroke="#000000" stroke-width="3.6"/>
<rect x="409.8" y="799.6" width="26.4" height="26.4" fill="#fff" stroke="#000000" stroke-width="3.6"/>
<rect x="618.2" y="797.8" width="26.4" height="26.4" fill="#fff" stroke="#000000" stroke-width="3.6"/>
<polyline points="212.5,892.0 317.5,913.5 423.0,917.0 631.4,927.0" fill="none" stroke="#fd4b4f" stroke-width="4" stroke-linejoin="round"/>
<polyline points="212.5,710.3 317.5,845.0 423.0,793.6 631.4,755.6" fill="none" stroke="#fd4b4f" stroke-width="4" stroke-linejoin="round"/>
<circle cx="212.5" cy="892.0" r="15.0" fill="#fd4b4f"/>
<circle cx="317.5" cy="914.0" r="15.0" fill="#fd4b4f"/>
<circle cx="423.0" cy="910.4" r="15.0" fill="#fd4b4f"/>
<circle cx="631.4" cy="925.8" r="15.0" fill="#fd4b4f"/>
<circle cx="212.5" cy="710.3" r="13.1" fill="#fff" stroke="#fd4b4f" stroke-width="3.8"/>
<circle cx="317.5" cy="845.0" r="13.1" fill="#fff" stroke="#fd4b4f" stroke-width="3.8"/>
<circle cx="423.0" cy="793.6" r="13.1" fill="#fff" stroke="#fd4b4f" stroke-width="3.8"/>
<circle cx="631.4" cy="755.6" r="13.1" fill="#fff" stroke="#fd4b4f" stroke-width="3.8"/>
<polyline points="212.5,895.0 317.5,922.5 423.0,908.6 631.4,928.5" fill="none" stroke="#0a8ee6" stroke-width="4" stroke-linejoin="round"/>
<polyline points="212.5,713.0 317.5,903.0 423.0,836.0 631.4,818.5" fill="none" stroke="#0a8ee6" stroke-width="4" stroke-linejoin="round"/>
<polygon points="212.5,878.2 226.3,902.3 198.7,902.3" fill="#0a8ee6" stroke="#0a8ee6" stroke-width="2.4" stroke-linejoin="round"/>
<polygon points="317.5,906.2 331.3,930.3 303.7,930.3" fill="#0a8ee6" stroke="#0a8ee6" stroke-width="2.4" stroke-linejoin="round"/>
<polygon points="423.0,892.3 436.8,916.4 409.2,916.4" fill="#0a8ee6" stroke="#0a8ee6" stroke-width="2.4" stroke-linejoin="round"/>
<polygon points="631.4,912.2 645.2,936.3 617.6,936.3" fill="#0a8ee6" stroke="#0a8ee6" stroke-width="2.4" stroke-linejoin="round"/>
<polygon points="212.5,697.3 225.8,720.5 199.2,720.5" fill="#fff" stroke="#0a8ee6" stroke-width="3.8" stroke-linejoin="round"/>
<polygon points="317.5,888.2 330.9,911.4 304.1,911.4" fill="#fff" stroke="#0a8ee6" stroke-width="3.8" stroke-linejoin="round"/>
<polygon points="423.0,821.5 436.4,844.7 409.6,844.7" fill="#fff" stroke="#0a8ee6" stroke-width="3.8" stroke-linejoin="round"/>
<polygon points="631.4,801.5 644.8,824.7 618.0,824.7" fill="#fff" stroke="#0a8ee6" stroke-width="3.8" stroke-linejoin="round"/>
<path d="M500.86,793.00 A7.4,41.3 0 1 0 500.72,820.00" fill="none" stroke="#000" stroke-width="3.6"/>
<path d="M469.79,907.50 A7.5,29.5 0 1 1 469.67,931.20" fill="none" stroke="#000" stroke-width="3.6"/>
<rect x="503.3" y="404.2" width="167" height="106" fill="#e4e4e4"/>
<rect x="515.8" y="416.8" width="17.4" height="17.6" fill="#000"/>
<rect x="540.9" y="418.4" width="14.2" height="14.4" fill="#fff" stroke="#000" stroke-width="3.2"/>
<circle cx="524.1" cy="458.2" r="9.5" fill="#fd4b4f"/>
<circle cx="547.7" cy="458.2" r="8" fill="#fff" stroke="#fd4b4f" stroke-width="3"/>
<polygon points="523.85,482.8 533.1,500.0 514.6,500.0" fill="#0a8ee6" stroke="#0a8ee6" stroke-width="1.6" stroke-linejoin="round"/>
<polygon points="547.9,483.8 556.4,499.2 539.4,499.2" fill="#fff" stroke="#0a8ee6" stroke-width="3.2" stroke-linejoin="round"/>
<text transform="translate(568.19,435.00) scale(1.0148,1)" font-size="29" fill="#000">150 W</text>
<text transform="translate(569.23,467.80) scale(1.0121,1)" font-size="29" fill="#fd4b4f">300 W</text>
<text transform="translate(569.41,500.30) scale(1.0194,1)" font-size="29" fill="#0a8ee6">450 W</text>
<rect x="503.3" y="631.1" width="167" height="106" fill="#e4e4e4"/>
<rect x="515.8" y="643.7" width="17.4" height="17.6" fill="#000"/>
<rect x="540.9" y="645.3" width="14.2" height="14.4" fill="#fff" stroke="#000" stroke-width="3.2"/>
<circle cx="524.1" cy="685.1" r="9.5" fill="#fd4b4f"/>
<circle cx="547.7" cy="685.1" r="8" fill="#fff" stroke="#fd4b4f" stroke-width="3"/>
<polygon points="523.85,709.7 533.1,726.9 514.6,726.9" fill="#0a8ee6" stroke="#0a8ee6" stroke-width="1.6" stroke-linejoin="round"/>
<polygon points="547.9,710.7 556.4,726.1 539.4,726.1" fill="#fff" stroke="#0a8ee6" stroke-width="3.2" stroke-linejoin="round"/>
<text transform="translate(568.19,661.90) scale(1.0148,1)" font-size="29" fill="#000">150 W</text>
<text transform="translate(569.23,694.70) scale(1.0121,1)" font-size="29" fill="#fd4b4f">300 W</text>
<text transform="translate(569.41,727.20) scale(1.0194,1)" font-size="29" fill="#0a8ee6">450 W</text>
</g>
<g font-family="Liberation Sans, sans-serif"><text transform="translate(89.20,273.80) scale(1.0515,1)" font-size="33" fill="#000">10</text>
<text transform="translate(127.16,261.70) scale(1.0018,1)" font-size="21.78" fill="#000">19</text>
<text transform="translate(89.20,359.80) scale(1.0515,1)" font-size="33" fill="#000">10</text>
<text transform="translate(127.17,347.70) scale(0.9967,1)" font-size="21.78" fill="#000">18</text>
<text transform="translate(89.20,447.80) scale(1.0515,1)" font-size="33" fill="#000">10</text>
<text transform="translate(127.16,435.70) scale(1.0068,1)" font-size="21.78" fill="#000">17</text>
<text transform="translate(89.20,535.80) scale(1.0515,1)" font-size="33" fill="#000">10</text>
<text transform="translate(127.17,523.70) scale(0.9967,1)" font-size="21.78" fill="#000">16</text>
<text transform="translate(89.20,623.80) scale(1.0515,1)" font-size="33" fill="#000">10</text>
<text transform="translate(127.17,611.70) scale(0.9967,1)" font-size="21.78" fill="#000">15</text>
<text transform="translate(94.05,667.65) scale(1.0215,1)" font-size="33" fill="#000">500</text>
<text transform="translate(92.81,800.10) scale(1.0445,1)" font-size="33" fill="#000">100</text>
<text transform="translate(112.96,857.15) scale(1.0160,1)" font-size="33" fill="#000">50</text>
<text transform="translate(111.70,989.60) scale(1.0515,1)" font-size="33" fill="#000">10</text>
<text transform="translate(202.61,1011.00) scale(1.0922,1)" font-size="33" fill="#000">0</text>
<text transform="translate(307.19,1011.00) scale(1.1037,1)" font-size="33" fill="#000">5</text>
<text transform="translate(401.95,1011.00) scale(1.0515,1)" font-size="33" fill="#000">10</text>
<text transform="translate(506.53,1011.00) scale(1.0568,1)" font-size="33" fill="#000">15</text>
<text transform="translate(612.06,1011.00) scale(1.0259,1)" font-size="33" fill="#000">20</text>
<text transform="translate(184.86,1053.30) scale(1.0390,1)" font-size="33" fill="#000">Plasma irradiation time</text>
<text transform="translate(545.58,1053.30) scale(1.2292,1)" font-size="34.65" font-style="italic" fill="#000">t</text>
<text transform="translate(556.71,1062.00) scale(0.9921,1)" font-size="23.759999999999998" fill="#000">H</text>
<text transform="translate(581.32,1053.30) scale(1.1178,1)" font-size="33" fill="#000">[min]</text>
<g transform="translate(25.5,586.4) rotate(-90)"><text transform="translate(-2.77,0.00) scale(1.0501,1)" font-size="33" fill="#000">Hole concentration</text><text transform="translate(296.50,0.00) scale(0.9752,1)" font-size="33" font-style="italic" fill="#000">p</text></g>
<g transform="translate(71.5,473.9) rotate(-90)"><text transform="translate(-2.36,0.00) scale(1.0217,1)" font-size="33" fill="#000">[cm</text><text transform="translate(50.23,-12.50) scale(1.0713,1)" font-size="21.78" fill="#000">−3</text><text transform="translate(76.73,0.00) scale(1.0000,1)" font-size="33" fill="#000">]</text></g>
<g transform="translate(27.5,926.1) rotate(-90)"><text transform="translate(-2.85,0.00) scale(1.0779,1)" font-size="33" fill="#000">Hole mobility</text><text transform="translate(209.97,0.00) scale(1.0138,1)" font-size="33" font-style="italic" fill="#000">μ</text></g>
<g transform="translate(72,901.4) rotate(-90)"><text transform="translate(-2.40,0.00) scale(1.0401,1)" font-size="33" fill="#000">[cm</text><text transform="translate(53.75,-11.40) scale(1.1504,1)" font-size="21.78" fill="#000">2</text><text transform="translate(74.55,0.00) scale(0.9114,1)" font-size="33" fill="#000">V</text><text transform="translate(94.40,-11.40) scale(0.9227,1)" font-size="21.78" fill="#000">−1</text><text transform="translate(128.49,0.00) scale(0.9195,1)" font-size="33" fill="#000">s</text><text transform="translate(143.35,-11.40) scale(0.9666,1)" font-size="21.78" fill="#000">−1</text><text transform="translate(169.34,0.00) scale(1.0000,1)" font-size="33" fill="#000">]</text></g>
<text transform="translate(191.51,303.50) scale(0.8530,1)" font-size="37.949999999999996" font-weight="bold" fill="#000">c</text>
<text transform="translate(187.61,678.30) scale(0.9560,1)" font-size="38.94" font-weight="bold" fill="#000">d</text>
<text transform="translate(328.41,316.50) scale(0.9404,1)" font-size="33.0" font-style="italic" fill="#000">T</text>
<text transform="translate(345.86,324.70) scale(1.0943,1)" font-size="23.759999999999998" fill="#000">d</text>
<text transform="translate(366.21,316.50) scale(1.0247,1)" font-size="33.0" fill="#000">=</text>
<text transform="translate(393.86,316.50) scale(1.0130,1)" font-size="33.0" fill="#000">50</text>
<text transform="translate(438.52,316.50) scale(0.8987,1)" font-size="33.0" fill="#000">°C</text>
<text transform="translate(181.71,576.30) scale(0.9404,1)" font-size="33.0" font-style="italic" fill="#000">T</text>
<text transform="translate(199.16,584.50) scale(1.0943,1)" font-size="23.759999999999998" fill="#000">d</text>
<text transform="translate(219.51,576.30) scale(1.0247,1)" font-size="33.0" fill="#000">=</text>
<text transform="translate(245.99,576.30) scale(1.0147,1)" font-size="33.0" fill="#000">125</text>
<text transform="translate(309.12,576.30) scale(0.8987,1)" font-size="33.0" fill="#000">°C</text>
<text transform="translate(320.31,758.60) scale(0.9404,1)" font-size="33.0" font-style="italic" fill="#000">T</text>
<text transform="translate(337.76,766.80) scale(1.0943,1)" font-size="23.759999999999998" fill="#000">d</text>
<text transform="translate(358.11,758.60) scale(1.0247,1)" font-size="33.0" fill="#000">=</text>
<text transform="translate(384.59,758.60) scale(1.0147,1)" font-size="33.0" fill="#000">125</text>
<text transform="translate(447.72,758.60) scale(0.8987,1)" font-size="33.0" fill="#000">°C</text>
<text transform="translate(490.81,893.60) scale(0.9404,1)" font-size="33.0" font-style="italic" fill="#000">T</text>
<text transform="translate(508.26,901.80) scale(1.0943,1)" font-size="23.759999999999998" fill="#000">d</text>
<text transform="translate(528.61,893.60) scale(1.0247,1)" font-size="33.0" fill="#000">=</text>
<text transform="translate(556.26,893.60) scale(1.0130,1)" font-size="33.0" fill="#000">50</text>
<text transform="translate(600.92,893.60) scale(0.8987,1)" font-size="33.0" fill="#000">°C</text></g>
</svg></body></html>
